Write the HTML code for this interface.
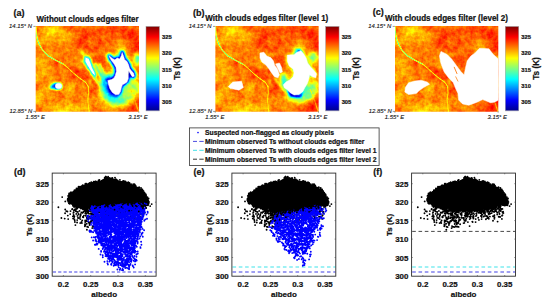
<!DOCTYPE html>
<html><head><meta charset="utf-8"><title>Figure</title>
<style>
html,body{margin:0;padding:0;background:#fff;}
svg{display:block;font-family:"Liberation Sans",sans-serif;}
.b{font-weight:bold;fill:#111;stroke:#111;stroke-width:0.22;}
.i{font-style:italic;fill:#151515;stroke:#151515;stroke-width:0.12;}
</style></head><body>
<svg width="550" height="306" viewBox="0 0 550 306">
<defs>
<linearGradient id="jet" x1="0" y1="1" x2="0" y2="0">
<stop offset="0" stop-color="#00008f"/>
<stop offset="0.125" stop-color="#0000ff"/>
<stop offset="0.375" stop-color="#00ffff"/>
<stop offset="0.625" stop-color="#ffff00"/>
<stop offset="0.875" stop-color="#ff0000"/>
<stop offset="1" stop-color="#800000"/>
</linearGradient>
<filter id="jetf" x="0" y="0" width="1" height="1" color-interpolation-filters="sRGB">
<feTurbulence type="fractalNoise" baseFrequency="0.3" numOctaves="2" seed="3" result="n"/>
<feColorMatrix in="n" type="matrix" values="1 0 0 0 0  1 0 0 0 0  1 0 0 0 0  0 0 0 0 1" result="ng"/>
<feTurbulence type="fractalNoise" baseFrequency="0.075" numOctaves="2" seed="11" result="m"/>
<feColorMatrix in="m" type="matrix" values="1 0 0 0 0  1 0 0 0 0  1 0 0 0 0  0 0 0 0 1" result="mg"/>
<feComposite in="SourceGraphic" in2="ng" operator="arithmetic" k1="0" k2="1" k3="0.14" k4="-0.07" result="f0"/>
<feComposite in="f0" in2="mg" operator="arithmetic" k1="0" k2="1" k3="0.2" k4="-0.1" result="f"/>
<feComponentTransfer in="f">
<feFuncR type="table" tableValues="0 0 0 0 .5 1 1 1 .5"/>
<feFuncG type="table" tableValues="0 0 .5 1 1 1 .5 0 0"/>
<feFuncB type="table" tableValues=".56 1 1 1 .5 0 0 0 0"/>
<feFuncA type="linear" slope="0" intercept="1"/>
</feComponentTransfer>
</filter>
<filter id="b4" x="-0.5" y="-0.5" width="2" height="2" color-interpolation-filters="sRGB"><feGaussianBlur stdDeviation="5"/></filter>
<filter id="b2" x="-0.5" y="-0.5" width="2" height="2" color-interpolation-filters="sRGB"><feGaussianBlur stdDeviation="2.2"/></filter>
<filter id="b1" x="-0.5" y="-0.5" width="2" height="2" color-interpolation-filters="sRGB"><feGaussianBlur stdDeviation="1.1"/></filter>
<filter id="b0" x="-0.5" y="-0.5" width="2" height="2" color-interpolation-filters="sRGB"><feGaussianBlur stdDeviation="0.45"/></filter>
<clipPath id="hc"><rect x="0" y="0" width="104" height="85"/></clipPath>
</defs>
<rect width="550" height="306" fill="#fff"/>

<g transform="translate(35.7,26.1) scale(0.9933,1.007)">
<g clip-path="url(#hc)">
<g filter="url(#jetf)">
<rect x="-10" y="-10" width="124" height="105" fill="#c1c1c1"/>
<g filter="url(#b4)">
<ellipse cx="12" cy="12" rx="18" ry="14" fill="#b0b0b0"/>
<ellipse cx="6" cy="58" rx="12" ry="22" fill="#b5b5b5"/>
<ellipse cx="30" cy="80" rx="26" ry="9" fill="#b2b2b2"/>
<ellipse cx="58" cy="80" rx="12" ry="6" fill="#b5b5b5"/>
<ellipse cx="60" cy="12" rx="24" ry="10" fill="#c8c8c8"/>
<ellipse cx="96" cy="8" rx="12" ry="10" fill="#cdcdcd"/>
<ellipse cx="42" cy="50" rx="14" ry="9" fill="#c8c8c8"/>
<ellipse cx="68" cy="40" rx="8" ry="10" fill="#cccccc"/>
<ellipse cx="97" cy="80" rx="12" ry="9" fill="#d0d0d0"/>
<ellipse cx="62" cy="64" rx="7" ry="12" fill="#cccccc"/>
<ellipse cx="30" cy="28" rx="10" ry="7" fill="#bfbfbf"/>
<ellipse cx="100" cy="22" rx="6" ry="8" fill="#cccccc"/>
</g>
<g filter="url(#b4)">
<path d="M64.0 54.0 74.0 48.0 98.0 54.0 104.0 62.0 98.0 76.0 80.0 80.0 68.0 72.0Z" fill="#8f8f8f"/>
</g>
<g filter="url(#b2)">
<path d="M73.9 29.4 77.2 32.1 79.6 33.5 82.1 31.8 84.5 32.6 86.2 29.4 87.0 26.1 88.6 30.2 89.5 33.1 91.9 35.1 93.5 38.4 94.4 41.6 96.0 44.1 98.5 46.5 99.3 49.8 97.2 50.2 94.9 46.5 93.5 44.1 93.2 48.2 93.2 52.3 91.9 55.6 89.5 57.2 87.3 58.3 86.2 61.3 85.4 64.9 83.7 67.8 80.5 68.2 77.2 65.9 74.7 62.1 73.1 57.2 72.6 53.9 76.4 53.1 78.8 51.5 80.1 49.0 81.3 44.9 80.8 40.8 78.8 37.5 76.4 34.3 74.7 31.8Z" fill="#333333" stroke="#6e6e6e" stroke-width="5" stroke-linejoin="round"/>
<path d="M64.0 57.0 72.0 62.0 88.0 71.0 92.0 76.0 78.0 78.0 68.0 70.0Z" fill="#6b6b6b"/>
<path d="M69.0 50.0 75.0 48.0 80.0 64.0 84.0 71.0 78.0 72.0 71.0 64.0 66.0 56.0Z" fill="#333333"/>
<ellipse cx="102.5" cy="33" rx="2.6" ry="5.5" fill="#5c5c5c"/>
<path d="M93.0 55.0 98.0 60.0 104.0 62.0" stroke="#7a7a7a" stroke-width="3.5" fill="none"/>
</g>
<g filter="url(#b1)">
<path d="M73.9 29.4 77.2 32.1 79.6 33.5 82.1 31.8 84.5 32.6 86.2 29.4 87.0 26.1 88.6 30.2 89.5 33.1 91.9 35.1 93.5 38.4 94.4 41.6 96.0 44.1 98.5 46.5 99.3 49.8 97.2 50.2 94.9 46.5 93.5 44.1 93.2 48.2 93.2 52.3 91.9 55.6 89.5 57.2 87.3 58.3 86.2 61.3 85.4 64.9 83.7 67.8 80.5 68.2 77.2 65.9 74.7 62.1 73.1 57.2 72.6 53.9 76.4 53.1 78.8 51.5 80.1 49.0 81.3 44.9 80.8 40.8 78.8 37.5 76.4 34.3 74.7 31.8Z" fill="#000000" stroke="#0f0f0f" stroke-width="3" stroke-linejoin="round"/>
<path d="M71.0 53.0 75.0 52.0 77.0 62.0 82.0 69.0 78.0 69.0 73.0 62.0Z" fill="#141414"/>
<path d="M50.1 31.3 53.3 32.3 55.0 36.4 56.6 41.3 59.1 46.2 59.7 49.0 57.4 47.0 54.2 42.1 51.7 38.1 50.0 34.8Z" fill="#1a1a1a" stroke="#4c4c4c" stroke-width="3.2" stroke-linejoin="round"/>
<path d="M46.0 24.0 48.5 29.0" stroke="#808080" stroke-width="1.8" fill="none"/>
<path d="M59.9 37.2 62.3 43.0 65.6 48.7 68.9 54.4 72.1 57.7" stroke="#575757" stroke-width="2" fill="none"/>
<path d="M58.0 50.0 64.0 58.0 70.0 64.0" stroke="#666666" stroke-width="1.6" fill="none"/>
<path d="M64.0 37.2 67.2 44.6 69.7 51.1" stroke="#666666" stroke-width="1.6" fill="none"/>
<ellipse cx="21.5" cy="59.8" rx="5.2" ry="3.5" fill="#1f1f1f"/>
<ellipse cx="16.5" cy="60.5" rx="2.2" ry="1.6" fill="#333333"/>
</g>
<g filter="url(#b0)" fill="none" stroke-linejoin="round" stroke-linecap="round">
<path d="M0.3 1.0 0.4 5.0 0.7 9.0 2.0 14.0 3.8 18.5 7.4 24.4 12.3 29.4 19.6 33.6 27.5 37.5" stroke="#787878" stroke-width="1.0"/>
<path d="M27.5 37.5 30.6 40.0 34.2 43.0 38.2 46.8 44.4 51.8 50.5 56.0 53.0 60.2" stroke="#8f8f8f" stroke-width="0.9"/>
<path d="M53.0 60.2 53.3 66.0 52.5 73.3 53.3 81.5 54.0 85.6" stroke="#9e9e9e" stroke-width="0.8"/>
<path d="M95.5 63Q100 72 103.5 85" stroke="#ababab" stroke-width="0.8"/>
</g>
</g>
<g fill="#fff" stroke="#fff" stroke-width="0.5" stroke-linejoin="round">
<path d="M73.9 29.4 77.2 32.1 79.6 33.5 82.1 31.8 84.5 32.6 86.2 29.4 87.0 26.1 88.6 30.2 89.5 33.1 91.9 35.1 93.5 38.4 94.4 41.6 96.0 44.1 98.5 46.5 99.3 49.8 97.2 50.2 94.9 46.5 93.5 44.1 93.2 48.2 93.2 52.3 91.9 55.6 89.5 57.2 87.3 58.3 86.2 61.3 85.4 64.9 83.7 67.8 80.5 68.2 77.2 65.9 74.7 62.1 73.1 57.2 72.6 53.9 76.4 53.1 78.8 51.5 80.1 49.0 81.3 44.9 80.8 40.8 78.8 37.5 76.4 34.3 74.7 31.8Z"/>
<path d="M50.1 31.3 53.3 32.3 55.0 36.4 56.6 41.3 59.1 46.2 59.7 49.0 57.4 47.0 54.2 42.1 51.7 38.1 50.0 34.8Z" stroke-width="0.2"/>
<ellipse cx="23" cy="59.5" rx="3.3" ry="2.7"/>
</g>
</g>
</g>
<path d="M33.4 26.4h2.2M33.4 111.4h2.2M35.6 111.2v1.5M138.8 111.2v1.5" stroke="#555" stroke-width="0.6"/>
<rect x="146" y="26.5" width="13.4" height="84.2" fill="url(#jet)"/>
<rect x="146" y="26.3" width="13.4" height="84.6" fill="none" stroke="#999" stroke-width="0.5"/>
<text class="b" x="162" y="39.1" font-size="6" textLength="9.6" lengthAdjust="spacingAndGlyphs">325</text>
<text class="b" x="162" y="55.4" font-size="6" textLength="9.6" lengthAdjust="spacingAndGlyphs">320</text>
<text class="b" x="162" y="71.7" font-size="6" textLength="9.6" lengthAdjust="spacingAndGlyphs">315</text>
<text class="b" x="162" y="88" font-size="6" textLength="9.6" lengthAdjust="spacingAndGlyphs">310</text>
<text class="b" x="162" y="104.3" font-size="6" textLength="9.6" lengthAdjust="spacingAndGlyphs">305</text>
<text class="b" transform="translate(179.8,68.5) rotate(-90)" font-size="8.2" text-anchor="middle">Ts (K)</text>
<text class="i" x="32" y="28" font-size="5.9" text-anchor="end">14.15° N</text>
<text class="i" x="32.4" y="113.3" font-size="5.9" text-anchor="end">12.85° N</text>
<text class="i" x="35.2" y="119.4" font-size="5.9" text-anchor="middle">1.55° E</text>
<text class="i" x="138" y="119.4" font-size="5.9" text-anchor="middle">3.15° E</text>
<g transform="translate(215.35,26.1) scale(0.9933,1.007)">
<g clip-path="url(#hc)">
<g filter="url(#jetf)">
<rect x="-10" y="-10" width="124" height="105" fill="#c1c1c1"/>
<g filter="url(#b4)">
<ellipse cx="12" cy="12" rx="18" ry="14" fill="#b0b0b0"/>
<ellipse cx="6" cy="58" rx="12" ry="22" fill="#b5b5b5"/>
<ellipse cx="30" cy="80" rx="26" ry="9" fill="#b2b2b2"/>
<ellipse cx="58" cy="80" rx="12" ry="6" fill="#b5b5b5"/>
<ellipse cx="60" cy="12" rx="24" ry="10" fill="#c8c8c8"/>
<ellipse cx="96" cy="8" rx="12" ry="10" fill="#cdcdcd"/>
<ellipse cx="42" cy="50" rx="14" ry="9" fill="#c8c8c8"/>
<ellipse cx="68" cy="40" rx="8" ry="10" fill="#cccccc"/>
<ellipse cx="97" cy="80" rx="12" ry="9" fill="#d0d0d0"/>
<ellipse cx="62" cy="64" rx="7" ry="12" fill="#cccccc"/>
<ellipse cx="30" cy="28" rx="10" ry="7" fill="#bfbfbf"/>
<ellipse cx="100" cy="22" rx="6" ry="8" fill="#cccccc"/>
</g>
<g filter="url(#b2)">
<path d="M70.0 60.0 92.0 58.0 101.0 54.0 103.0 62.0 98.0 72.0 84.0 77.0 72.0 72.0Z" fill="#858585"/>
<path d="M72.4 28.8 79.2 28.4 82.2 25.9 86.1 24.5 89.0 27.8 91.4 31.7 92.9 36.6 95.9 40.6 98.8 43.5 101.8 47.4 101.2 51.4 97.8 50.4 94.9 48.4 93.9 53.3 92.5 57.2 90.0 61.2 88.0 65.1 84.1 68.0 79.2 68.4 75.3 66.1 72.4 63.1 69.4 61.2 68.4 58.2 71.4 55.3 75.3 53.3 78.2 50.4 79.2 46.5 78.2 42.5 74.3 39.6 72.4 34.7Z" fill="#6b6b6b"/>
<path d="M66.0 49.0 71.0 47.0 72.0 60.0 67.0 62.0Z" fill="#4c4c4c"/>
<ellipse cx="98" cy="31" rx="4" ry="6" fill="#787878"/>
<ellipse cx="83" cy="25" rx="4" ry="2.5" fill="#4c4c4c"/>
<path d="M88.0 61.0 96.0 57.0 98.0 65.0 90.0 69.0Z" fill="#737373"/>
</g>
<g filter="url(#b1)">
<path d="M72.0 63.0 76.0 66.0 85.0 68.0 89.0 64.0 86.0 71.5 76.0 70.5Z" fill="#050505"/>
<path d="M60.0 52.0 64.0 58.0 70.0 64.0" stroke="#808080" stroke-width="1.6" fill="none"/>
<ellipse cx="84.5" cy="25.2" rx="1.5" ry="1.5" fill="#1a1a1a"/>
</g>
<g filter="url(#b0)" fill="none" stroke-linejoin="round" stroke-linecap="round">
<path d="M0.3 1.0 0.4 5.0 0.7 9.0 2.0 14.0 3.8 18.5 7.4 24.4 12.3 29.4 19.6 33.6 27.5 37.5" stroke="#787878" stroke-width="1.0"/>
<path d="M27.5 37.5 30.6 40.0 34.2 43.0 38.2 46.8 44.4 51.8 50.5 56.0 53.0 60.2" stroke="#8f8f8f" stroke-width="0.9"/>
<path d="M53.0 60.2 53.3 66.0 52.5 73.3 53.3 81.5 54.0 85.6" stroke="#9e9e9e" stroke-width="0.8"/>
<path d="M95.5 63Q100 72 103.5 85" stroke="#ababab" stroke-width="0.8"/>
</g>
</g>
<g fill="#fff" stroke="#fff" stroke-width="0.5" stroke-linejoin="round">
<path d="M44.9 26.8 48.8 25.9 51.8 29.8 55.7 31.2 58.6 34.7 59.6 38.6 62.5 42.5 64.5 48.4 63.1 51.4 59.6 50.4 56.7 46.5 53.7 42.1 50.8 38.6 46.9 35.7 44.9 31.7Z"/>
<path d="M60.6 37.6 64.5 36.6 66.5 40.6 67.5 45.5 65.1 46.5 63.1 42.5Z"/>
<path d="M72.4 28.8 79.2 28.4 82.2 25.9 86.1 24.5 89.0 27.8 91.4 31.7 92.9 36.6 95.9 40.6 98.8 43.5 101.8 47.4 101.2 51.4 97.8 50.4 94.9 48.4 93.9 53.3 92.5 57.2 90.0 61.2 88.0 65.1 84.1 68.0 79.2 68.4 75.3 66.1 72.4 63.1 69.4 61.2 68.4 58.2 71.4 55.3 75.3 53.3 78.2 50.4 79.2 46.5 78.2 42.5 74.3 39.6 72.4 34.7Z"/>
<path d="M13.0 60.0 17.5 55.6 26.4 54.7 28.2 61.0 23.7 63.6 14.8 61.8Z"/>
</g>
</g>
</g>
<path d="M213.05 26.4h2.2M213.05 111.4h2.2M215.25 111.2v1.5M318.45 111.2v1.5" stroke="#555" stroke-width="0.6"/>
<rect x="325.65" y="26.5" width="13.4" height="84.2" fill="url(#jet)"/>
<rect x="325.65" y="26.3" width="13.4" height="84.6" fill="none" stroke="#999" stroke-width="0.5"/>
<text class="b" x="341.65" y="39.1" font-size="6" textLength="9.6" lengthAdjust="spacingAndGlyphs">325</text>
<text class="b" x="341.65" y="55.4" font-size="6" textLength="9.6" lengthAdjust="spacingAndGlyphs">320</text>
<text class="b" x="341.65" y="71.7" font-size="6" textLength="9.6" lengthAdjust="spacingAndGlyphs">315</text>
<text class="b" x="341.65" y="88" font-size="6" textLength="9.6" lengthAdjust="spacingAndGlyphs">310</text>
<text class="b" x="341.65" y="104.3" font-size="6" textLength="9.6" lengthAdjust="spacingAndGlyphs">305</text>
<text class="b" transform="translate(359.45,68.5) rotate(-90)" font-size="8.2" text-anchor="middle">Ts (K)</text>
<text class="i" x="211.65" y="28" font-size="5.9" text-anchor="end">14.15° N</text>
<text class="i" x="212.05" y="113.3" font-size="5.9" text-anchor="end">12.85° N</text>
<text class="i" x="214.85" y="119.4" font-size="5.9" text-anchor="middle">1.55° E</text>
<text class="i" x="317.65" y="119.4" font-size="5.9" text-anchor="middle">3.15° E</text>
<g transform="translate(395,26.1) scale(0.9933,1.007)">
<g clip-path="url(#hc)">
<g filter="url(#jetf)">
<rect x="-10" y="-10" width="124" height="105" fill="#c1c1c1"/>
<g filter="url(#b4)">
<ellipse cx="12" cy="12" rx="18" ry="14" fill="#b0b0b0"/>
<ellipse cx="6" cy="58" rx="12" ry="22" fill="#b5b5b5"/>
<ellipse cx="30" cy="80" rx="26" ry="9" fill="#b2b2b2"/>
<ellipse cx="58" cy="80" rx="12" ry="6" fill="#b5b5b5"/>
<ellipse cx="60" cy="12" rx="24" ry="10" fill="#c8c8c8"/>
<ellipse cx="96" cy="8" rx="12" ry="10" fill="#cdcdcd"/>
<ellipse cx="42" cy="50" rx="14" ry="9" fill="#c8c8c8"/>
<ellipse cx="68" cy="40" rx="8" ry="10" fill="#cccccc"/>
<ellipse cx="97" cy="80" rx="12" ry="9" fill="#d0d0d0"/>
<ellipse cx="62" cy="64" rx="7" ry="12" fill="#cccccc"/>
<ellipse cx="30" cy="28" rx="10" ry="7" fill="#bfbfbf"/>
<ellipse cx="100" cy="22" rx="6" ry="8" fill="#cccccc"/>
</g>
<g filter="url(#b0)" fill="none" stroke-linejoin="round" stroke-linecap="round">
<path d="M0.3 1.0 0.4 5.0 0.7 9.0 2.0 14.0 3.8 18.5 7.4 24.4 12.3 29.4 19.6 33.6 27.5 37.5" stroke="#787878" stroke-width="1.0"/>
<path d="M27.5 37.5 30.6 40.0 34.2 43.0 38.2 46.8 44.4 51.8 50.5 56.0 53.0 60.2" stroke="#8f8f8f" stroke-width="0.9"/>
<path d="M53.0 60.2 53.3 66.0 52.5 73.3 53.3 81.5 54.0 85.6" stroke="#9e9e9e" stroke-width="0.8"/>
<path d="M95.5 63Q100 72 103.5 85" stroke="#ababab" stroke-width="0.8"/>
</g>
</g>
<g fill="#fff" stroke="#fff" stroke-width="0.5" stroke-linejoin="round">
<path d="M46.3 25.1 52.5 28.2 57.2 32.9 61.8 39.1 66.5 45.3 69.6 48.4 71.2 40.6 72.7 34.4 76.4 29.7 80.5 26.6 85.1 22.0 94.5 22.6 99.1 28.2 104.4 32.9 104.4 73.5 100.0 75.5 96.0 76.0 92.0 74.5 88.3 73.0 82.0 75.8 74.3 78.6 68.0 77.3 64.0 73.3 63.4 67.0 60.9 61.8 58.7 56.2 54.1 51.5 49.4 45.3 46.3 37.5 44.7 29.7Z"/>
<path d="M10.5 60.8 13.7 56.2 19.9 54.6 26.1 53.7 32.3 55.5 34.8 57.7 29.2 60.8 24.5 63.9 21.4 67.0 13.7 68.0 9.9 65.5Z"/>
<path d="M59.5 40.5L62.5 47.5" stroke="#ff7a10" stroke-width="0.9" fill="none"/>
<path d="M61 50L63.5 55" stroke="#ff8a20" stroke-width="0.8" fill="none"/>
</g>
</g>
</g>
<path d="M392.7 26.4h2.2M392.7 111.4h2.2M394.9 111.2v1.5M498.1 111.2v1.5" stroke="#555" stroke-width="0.6"/>
<rect x="505.3" y="26.5" width="13.4" height="84.2" fill="url(#jet)"/>
<rect x="505.3" y="26.3" width="13.4" height="84.6" fill="none" stroke="#999" stroke-width="0.5"/>
<text class="b" x="521.3" y="39.1" font-size="6" textLength="9.6" lengthAdjust="spacingAndGlyphs">325</text>
<text class="b" x="521.3" y="55.4" font-size="6" textLength="9.6" lengthAdjust="spacingAndGlyphs">320</text>
<text class="b" x="521.3" y="71.7" font-size="6" textLength="9.6" lengthAdjust="spacingAndGlyphs">315</text>
<text class="b" x="521.3" y="88" font-size="6" textLength="9.6" lengthAdjust="spacingAndGlyphs">310</text>
<text class="b" x="521.3" y="104.3" font-size="6" textLength="9.6" lengthAdjust="spacingAndGlyphs">305</text>
<text class="b" transform="translate(539.1,68.5) rotate(-90)" font-size="8.2" text-anchor="middle">Ts (K)</text>
<text class="i" x="391.3" y="28" font-size="5.9" text-anchor="end">14.15° N</text>
<text class="i" x="391.7" y="113.3" font-size="5.9" text-anchor="end">12.85° N</text>
<text class="i" x="394.5" y="119.4" font-size="5.9" text-anchor="middle">1.55° E</text>
<text class="i" x="497.3" y="119.4" font-size="5.9" text-anchor="middle">3.15° E</text>
<text class="b" x="13.5" y="16" font-size="9">(a)</text>
<text class="b" x="192.9" y="15.5" font-size="9">(b)</text>
<text class="b" x="372.8" y="15.3" font-size="9">(c)</text>
<text class="b" x="36.6" y="21.5" font-size="8.6" textLength="102" lengthAdjust="spacingAndGlyphs">Without clouds edges filter</text>
<text class="b" x="205.3" y="21.3" font-size="8.6" textLength="123" lengthAdjust="spacingAndGlyphs">With clouds edges filter (level 1)</text>
<text class="b" x="385" y="21.3" font-size="8.6" textLength="123" lengthAdjust="spacingAndGlyphs">With clouds edges filter (level 2)</text>
<rect x="189.5" y="127.9" width="189.6" height="37.6" fill="#fff" stroke="#333" stroke-width="0.8"/>
<text class="b" x="205" y="135" font-size="6.9" textLength="129" lengthAdjust="spacingAndGlyphs">Suspected non-flagged as cloudy pixels</text>
<text class="b" x="205" y="143.8" font-size="6.9" textLength="159.5" lengthAdjust="spacingAndGlyphs">Minimum observed Ts without clouds edges filter</text>
<text class="b" x="205" y="152.7" font-size="6.9" textLength="171.6" lengthAdjust="spacingAndGlyphs">Minimum observed Ts with clouds edges filter level 1</text>
<text class="b" x="205" y="161.6" font-size="6.9" textLength="171.6" lengthAdjust="spacingAndGlyphs">Minimum observed Ts with clouds edges filter level 2</text>
<circle cx="198" cy="132.6" r="0.8" fill="#0000ff"/>
<path d="M193 141.4h4M199.3 141.4h4.4" stroke="#4a4ae0" stroke-width="1"/>
<path d="M193 150.3h4M199.3 150.3h4.4" stroke="#40e0e8" stroke-width="1"/>
<path d="M193 159.2h4M199.3 159.2h4.4" stroke="#333" stroke-width="1"/>
<g transform="translate(52.2,173.1)">
<path d="M0.6 98.9H103.6" stroke="#4040e4" stroke-width="1.15" stroke-dasharray="3.2 2.15" fill="none"/>
<path d="M17.0 23.2 21.9 18.2 28.5 14.1 38.0 10.5 49.6 8.6 52.1 6.1 54.3 5.0 59.9 6.5 67.7 8.6 81.0 12.2 89.7 17.7 93.5 24.1 95.4 30.5 86.8 32.3 77.2 35.1 58.1 36.9 38.0 35.9 28.5 34.2 17.0 29.6Z" fill="#000" stroke="#000" stroke-width="1.2" stroke-linejoin="round"/>
<path d="M88.5 18.1h0M90.4 20.9h0M45.2 9.0h0M47.7 36.8h0M30.5 12.2h0M24.7 17.6h0M71.8 35.2h0M18.6 21.2h0M47.4 9.2h0M89.9 21.3h0M94.5 29.1h0M70.0 35.9h0M18.7 23.6h0M62.2 37.1h0M65.0 8.2h0M83.4 12.7h0M18.1 30.0h0M51.4 7.1h0M16.7 27.0h0M76.8 34.5h0M28.3 15.7h0M53.9 37.1h0M33.3 13.4h0M44.3 8.9h0M47.4 8.5h0M74.8 36.0h0M50.6 9.6h0M44.6 38.0h0M49.3 8.6h0M76.6 37.0h0M50.9 8.7h0M70.6 9.7h0M29.4 13.2h0M80.9 34.6h0M16.7 30.1h0M34.0 35.6h0M26.7 32.7h0M47.2 6.8h0M50.3 8.2h0M80.8 34.2h0M22.5 18.0h0M63.0 38.1h0M82.2 34.1h0M60.8 36.9h0M89.6 30.9h0M62.6 6.8h0M19.0 22.0h0M25.6 16.9h0M87.2 33.0h0M30.8 34.2h0M65.1 35.9h0M23.4 18.9h0M63.9 36.3h0M74.0 35.4h0M69.3 8.9h0M91.1 29.5h0M56.7 35.3h0M24.5 34.0h0M28.4 33.2h0M48.3 35.5h0M76.6 35.8h0M81.4 34.8h0M18.0 23.4h0M81.0 11.1h0M89.2 17.0h0M56.0 36.9h0M93.2 24.7h0M92.6 24.7h0M58.6 6.0h0M68.0 36.5h0M26.4 32.7h0M28.7 35.5h0M47.4 9.4h0M26.1 32.4h0M84.5 33.4h0M95.0 24.4h0M62.6 36.3h0M42.9 9.8h0M50.0 7.7h0M93.2 27.1h0M16.6 26.6h0M21.1 18.9h0M61.6 36.1h0M47.8 36.4h0M92.3 19.5h0M54.8 5.3h0M75.5 35.6h0M72.8 33.5h0M67.0 37.0h0M46.4 9.3h0M61.6 37.2h0M73.2 9.2h0M79.3 33.6h0M47.6 36.2h0M22.3 31.3h0M89.1 17.6h0M77.3 10.9h0M47.3 36.0h0M73.1 36.9h0M41.6 35.0h0M53.0 5.7h0M15.4 26.9h0M70.7 8.0h0M74.9 10.8h0M90.6 30.5h0M20.7 19.2h0M46.2 37.0h0M48.3 36.8h0M94.8 27.7h0M66.8 35.8h0M20.1 31.0h0M94.3 32.1h0M73.2 35.1h0M88.5 32.7h0M38.1 35.5h0M37.7 35.5h0M86.8 33.5h0M94.2 27.0h0M16.1 28.7h0M44.6 35.9h0M66.5 36.6h0M86.9 14.1h0M59.7 6.7h0M88.8 14.8h0M92.4 23.2h0M79.1 34.5h0M50.1 36.6h0M52.7 4.9h0M75.0 10.4h0M59.1 37.6h0M57.3 6.8h0M87.8 17.6h0M94.6 31.3h0M75.6 34.3h0M35.2 34.5h0M53.7 3.6h0M27.1 34.5h0M24.7 35.6h0M30.5 35.0h0M59.1 37.2h0M38.6 36.8h0M34.9 12.0h0M19.6 22.2h0M26.4 33.1h0M94.6 26.5h0M66.6 36.4h0M33.8 12.8h0M94.5 28.9h0M46.9 10.8h0M17.3 24.8h0M26.4 15.6h0M51.7 37.5h0M93.9 29.7h0M18.1 19.8h0M44.4 9.6h0M83.8 14.4h0M96.8 28.9h0M45.0 34.6h0M75.6 35.8h0M96.1 27.1h0M59.5 5.3h0M50.1 35.6h0M29.5 33.2h0M51.8 35.7h0M60.6 37.1h0M92.8 21.5h0M74.5 34.9h0M19.9 30.2h0M70.2 35.2h0M82.5 12.3h0M63.9 33.8h0M18.8 19.2h0M57.8 6.2h0M48.1 9.1h0M57.9 5.1h0M95.8 27.7h0M15.9 22.8h0M26.4 13.7h0M23.3 17.3h0M92.7 22.8h0M81.9 35.1h0M84.8 15.2h0M76.8 12.4h0M88.4 33.3h0M65.6 7.9h0M23.3 19.0h0M82.5 11.5h0M25.8 16.9h0M28.0 14.3h0M93.4 22.7h0M96.6 30.0h0M93.5 21.1h0M82.1 34.8h0M90.8 19.7h0M95.1 31.4h0M69.0 36.0h0M83.5 33.6h0M96.2 30.8h0M57.7 37.3h0M29.4 33.1h0M75.8 12.2h0M86.8 31.4h0M54.5 37.3h0M18.6 25.9h0M22.7 18.4h0M86.4 15.5h0M92.4 31.4h0M67.0 35.5h0M77.8 11.6h0M73.2 8.4h0M28.6 15.9h0M77.7 34.4h0M86.5 17.4h0M76.1 9.1h0M68.6 8.8h0M23.6 32.9h0M31.4 12.8h0M27.8 13.6h0M66.1 37.6h0M28.0 15.9h0M28.0 15.4h0M64.9 36.7h0M75.6 9.9h0M34.3 10.6h0M26.6 32.0h0M88.9 16.3h0M67.0 10.1h0M28.8 35.1h0M76.5 11.8h0M81.3 13.3h0M44.7 35.9h0M89.0 33.4h0M31.2 34.9h0M93.9 29.0h0M16.0 28.0h0M24.3 15.3h0M30.2 14.6h0M29.1 34.6h0M39.1 9.0h0M56.3 7.0h0M95.4 29.4h0M73.5 9.6h0M92.5 25.1h0M63.2 36.0h0M40.2 34.5h0M45.7 34.6h0M17.4 29.2h0M62.4 35.6h0M86.9 16.5h0M16.6 25.2h0M49.2 8.7h0M17.7 29.0h0M33.2 10.7h0M46.4 9.6h0M84.8 32.8h0M33.3 12.9h0M54.0 3.8h0M52.7 6.6h0M44.3 8.7h0M91.3 30.5h0M60.2 4.9h0M70.8 9.4h0M93.3 23.9h0M20.2 29.9h0M93.8 30.6h0M16.6 24.4h0M17.5 21.9h0M46.1 35.1h0M42.0 10.6h0M59.2 5.4h0M76.0 35.3h0M94.2 32.2h0M17.9 21.4h0M42.4 36.5h0M61.8 37.2h0M93.1 21.1h0M34.9 37.0h0M85.8 14.8h0M41.3 37.2h0M95.8 32.1h0M67.5 8.9h0M65.2 8.6h0M75.9 10.5h0M79.7 13.4h0M40.3 35.9h0M78.9 11.0h0M87.9 32.1h0M17.2 24.1h0M78.8 35.4h0M92.1 31.9h0M81.3 12.0h0M49.1 7.9h0M19.0 30.4h0M71.3 9.2h0M39.7 11.1h0M62.8 37.3h0M38.8 35.8h0M53.1 6.1h0M85.7 14.9h0M85.7 15.9h0M52.2 35.8h0M70.9 9.6h0M82.2 11.0h0M47.0 35.3h0M18.9 21.5h0M73.5 36.1h0M95.1 26.6h0M80.6 35.6h0M26.6 33.5h0M95.1 27.7h0M15.6 25.5h0M40.1 38.0h0M77.2 35.5h0M54.7 4.8h0M71.5 9.0h0M93.1 22.2h0M38.6 10.0h0M88.0 31.7h0M28.0 33.2h0M82.7 35.0h0M64.1 7.1h0M86.7 31.9h0M91.1 31.6h0M47.7 9.1h0M70.9 36.9h0M56.2 37.6h0M45.7 36.3h0M92.4 22.0h0M87.6 33.2h0M58.5 6.0h0M75.7 35.7h0M40.4 9.9h0M91.0 22.3h0M65.9 34.7h0M95.2 24.0h0M35.1 36.1h0M88.6 31.5h0M93.2 31.4h0M70.6 9.5h0M27.7 32.7h0M54.1 37.8h0M27.4 15.9h0M94.1 27.2h0M64.2 36.1h0M66.2 8.7h0M28.5 14.1h0M70.7 35.1h0M45.1 37.7h0M87.9 31.9h0M48.0 37.1h0M20.0 30.5h0M65.3 8.3h0M29.1 33.4h0M75.2 10.6h0M21.5 18.7h0M96.4 25.3h0M92.5 22.8h0M24.5 32.1h0M38.3 36.8h0M46.3 7.4h0M49.1 8.2h0M31.8 34.8h0M58.5 38.5h0M33.2 34.6h0M65.5 35.9h0M28.2 15.1h0M62.2 37.0h0M53.5 3.6h0M77.3 9.9h0M83.6 34.0h0M23.0 31.5h0M76.9 36.7h0M87.9 17.1h0M22.3 17.1h0M57.1 5.4h0M63.0 6.7h0M61.4 6.9h0M28.6 34.1h0M91.3 19.4h0M22.4 32.0h0M89.0 31.1h0M71.7 34.6h0M95.3 26.4h0M95.8 30.0h0M50.1 37.5h0M52.8 5.6h0M48.4 35.8h0M93.9 25.8h0M95.4 26.6h0M59.6 35.8h0M45.7 9.4h0M93.1 26.3h0M59.2 6.0h0M25.6 33.0h0M47.4 36.9h0M68.3 8.8h0M77.4 34.7h0M85.2 34.1h0M44.1 10.0h0M66.4 34.8h0M24.6 16.5h0M51.6 6.7h0M93.9 22.1h0M37.8 10.7h0M22.1 20.0h0M38.1 10.8h0M86.8 15.8h0M17.1 22.4h0M53.4 6.6h0M53.3 5.8h0M75.5 13.2h0M80.8 34.6h0M73.7 35.8h0M65.6 35.3h0M29.4 34.7h0M36.9 37.0h0M50.9 7.4h0M91.0 32.0h0M50.4 7.2h0M91.3 18.0h0M34.7 36.1h0M26.8 14.1h0M61.7 6.9h0M57.4 7.6h0M61.1 37.4h0M41.6 9.7h0M51.7 34.6h0M19.2 21.3h0M29.4 13.4h0M50.8 36.5h0M81.9 13.0h0M40.2 10.0h0M66.7 9.1h0M37.5 9.9h0M59.0 36.3h0M49.6 9.7h0M82.3 15.0h0M52.6 6.5h0M51.5 6.9h0M75.0 34.5h0M16.6 28.9h0M25.0 34.0h0M71.7 35.3h0M53.9 4.8h0M86.8 16.2h0M79.7 12.9h0M62.5 7.9h0M93.2 23.6h0M55.7 5.6h0M86.9 16.5h0M62.3 35.9h0M19.2 20.7h0M25.4 16.0h0M93.1 25.3h0M70.1 9.4h0M74.7 9.5h0M58.6 5.8h0M90.3 20.0h0M74.6 10.0h0M50.1 35.6h0M83.9 14.8h0M41.1 35.4h0M26.7 33.4h0M94.3 28.6h0M17.3 27.8h0M52.9 5.0h0M16.2 22.8h0M53.7 5.2h0M90.1 30.7h0M41.0 35.9h0M74.3 9.7h0M60.6 35.3h0M17.3 29.2h0M76.9 34.9h0M77.4 12.8h0M93.5 31.6h0M70.4 10.2h0M36.3 11.4h0M31.9 12.3h0M90.5 17.7h0M43.7 8.4h0M24.1 17.8h0M45.3 37.2h0M57.0 5.0h0M71.6 7.9h0M39.8 35.7h0M61.4 35.3h0M46.2 36.9h0M69.5 36.4h0M16.9 20.3h0M17.9 29.6h0M85.2 14.6h0M22.5 31.7h0M61.7 36.7h0M62.8 4.6h0M34.9 11.8h0M91.0 31.4h0M67.7 6.8h0M61.8 8.1h0M53.0 36.5h0M63.4 35.8h0M39.8 10.6h0M22.2 32.7h0M35.0 11.7h0M88.5 33.1h0M61.2 7.9h0M77.1 11.4h0M26.4 15.2h0M28.4 15.3h0M17.5 25.4h0M92.0 24.7h0M83.3 13.4h0M71.2 35.1h0M23.2 29.2h0M90.2 16.3h0M45.4 9.4h0M35.6 12.1h0M53.8 37.7h0M18.9 24.0h0M16.8 21.5h0M47.1 35.5h0M46.0 34.9h0M18.8 27.1h0M83.0 12.9h0M27.4 33.5h0M52.3 6.2h0M72.0 34.8h0M74.6 35.9h0M26.8 33.9h0M71.6 9.1h0M54.8 36.4h0M45.5 9.6h0M74.3 10.5h0M93.7 27.5h0M93.4 30.9h0M30.7 36.1h0M34.0 12.3h0M17.5 30.6h0M63.1 37.1h0M68.8 35.7h0M44.5 11.3h0M39.3 9.5h0M74.3 36.6h0M30.8 33.5h0M94.1 27.2h0M38.6 35.1h0M69.4 36.2h0M52.5 4.7h0M96.2 29.5h0M88.9 17.3h0M23.1 32.6h0M16.9 23.7h0M58.2 36.8h0M35.6 37.1h0M93.9 26.7h0M74.6 34.8h0M43.4 36.1h0M26.9 14.6h0M57.3 4.8h0M93.4 30.6h0M61.8 6.8h0M89.9 30.7h0M55.9 3.6h0M49.2 35.9h0M46.9 37.0h0M32.5 13.1h0M34.3 34.8h0M44.5 10.3h0M79.1 34.4h0M17.3 26.6h0M31.9 34.2h0M69.5 35.9h0M72.0 11.1h0M60.7 6.2h0M46.7 10.2h0M92.0 21.4h0M20.3 30.6h0M49.9 8.7h0M56.9 37.4h0M84.9 15.2h0M87.0 14.9h0M88.7 19.5h0M73.5 9.6h0M85.0 34.5h0M64.0 6.4h0M91.5 18.9h0M55.3 36.2h0M25.2 16.1h0M89.8 17.1h0M64.5 35.7h0M85.9 15.9h0M56.4 6.2h0M42.8 35.2h0M92.8 32.5h0M29.1 14.3h0M59.3 36.0h0M28.4 34.0h0M75.2 35.4h0M91.0 22.0h0M83.2 33.6h0M15.7 25.6h0M72.0 32.5h0M25.3 15.7h0M72.4 38.3h0M50.1 8.0h0M82.0 12.5h0M42.5 8.6h0M56.3 38.4h0M58.4 36.4h0M93.7 21.6h0M20.5 30.8h0M73.4 10.2h0M33.7 11.4h0M95.4 28.7h0M37.6 11.6h0M64.6 7.1h0M85.6 14.9h0M89.4 18.4h0M38.0 36.7h0M42.2 9.8h0M82.5 12.8h0M17.0 29.7h0M41.5 8.7h0M62.2 37.5h0M21.2 20.0h0M15.9 28.0h0M22.7 17.6h0M60.3 7.5h0M69.3 9.5h0M31.3 34.1h0M95.0 26.2h0M65.4 7.3h0M76.5 11.7h0M74.9 11.2h0M23.7 16.9h0M93.6 30.5h0M52.9 6.5h0M67.5 8.8h0M54.8 36.7h0M84.0 14.0h0M83.8 33.2h0M81.6 34.2h0M79.5 33.8h0M92.6 26.0h0M24.7 17.2h0M60.6 5.8h0M34.4 35.8h0M69.8 37.3h0M39.7 36.7h0M42.6 34.9h0M24.7 16.2h0M75.5 34.4h0M77.0 35.6h0M54.3 36.6h0M56.0 37.5h0M17.3 26.0h0M47.8 37.0h0M78.3 12.0h0M34.0 13.1h0M28.2 16.2h0M69.6 35.6h0M33.9 13.8h0M89.3 31.6h0M83.4 14.4h0M36.3 10.7h0M20.2 19.5h0M69.5 35.4h0M64.6 37.2h0M32.5 12.0h0M84.5 33.8h0M42.0 10.7h0M94.3 30.8h0M37.4 36.9h0M93.8 23.2h0M64.4 37.0h0M57.8 36.5h0M26.2 15.0h0M59.8 37.1h0M90.8 31.6h0M90.1 19.5h0M54.9 37.2h0M38.6 36.1h0M86.6 31.9h0M41.9 9.6h0M46.0 37.2h0M52.0 7.6h0M81.2 35.3h0M86.5 31.7h0M64.4 37.8h0M60.1 38.4h0M59.0 37.5h0M18.9 20.4h0M64.4 8.2h0M93.3 24.7h0M59.8 6.9h0M43.1 8.4h0M78.7 33.9h0M92.2 29.3h0M50.3 36.8h0M20.7 32.7h0M36.8 40.7h0M72.5 37.3h0M87.9 40.9h0M45.1 36.5h0M36.7 38.2h0M87.7 34.7h0M67.3 46.8h0M27.3 37.8h0M60.7 48.5h0M42.3 47.4h0M82.8 42.1h0M24.9 35.3h0M22.1 46.0h0M69.3 42.8h0M81.6 36.2h0M25.6 38.9h0M57.9 39.2h0M45.5 42.4h0M55.9 39.3h0M50.0 44.6h0M55.0 42.1h0M60.1 39.5h0M90.0 36.2h0M41.6 37.2h0M44.2 40.1h0M90.3 45.8h0M88.4 43.5h0M87.3 38.8h0M21.5 39.1h0M69.4 36.5h0M64.1 46.0h0M26.2 40.8h0M57.4 37.8h0M28.0 33.1h0M82.6 35.8h0M22.3 32.2h0M79.7 37.5h0M61.8 42.6h0M74.5 35.6h0M24.9 32.5h0M77.2 45.6h0M49.3 38.0h0M44.2 36.8h0M75.5 36.3h0M38.9 41.6h0M44.1 39.7h0M68.6 39.9h0M83.5 35.6h0M32.7 37.7h0M54.5 39.9h0M76.4 37.4h0M67.1 39.7h0M38.7 40.0h0M83.1 35.1h0M33.3 35.9h0M43.7 40.8h0M72.3 40.2h0M58.9 45.1h0M25.7 32.7h0M35.7 39.7h0M49.8 41.7h0M45.7 36.6h0M85.6 39.6h0M29.8 33.3h0M76.9 36.3h0M76.9 40.2h0M47.3 38.1h0M73.4 42.8h0M54.3 36.9h0M55.9 37.3h0M47.4 47.5h0M30.3 39.8h0M34.8 45.6h0M87.1 43.7h0M44.6 39.0h0M71.4 37.1h0M88.1 34.8h0M68.8 38.8h0M83.5 36.5h0M52.7 49.8h0M46.8 39.5h0M87.6 36.9h0M25.2 34.3h0M23.5 36.7h0M42.1 37.2h0M57.9 39.0h0M58.9 45.0h0M57.9 40.3h0M88.2 37.2h0M25.5 34.3h0M42.3 36.9h0M56.3 49.0h0M31.5 38.6h0M41.2 42.3h0M77.1 41.3h0M63.4 37.4h0M80.9 38.3h0M88.0 34.6h0M90.4 42.6h0M48.8 37.8h0M23.7 33.9h0M73.0 38.6h0M35.2 39.4h0M77.5 35.7h0M55.9 40.0h0M33.1 40.4h0M21.1 32.2h0M38.8 37.4h0M64.6 40.5h0M64.9 40.8h0M42.8 43.2h0M61.8 45.3h0M50.0 42.4h0M43.9 37.7h0M85.8 35.5h0M81.4 47.6h0M83.5 37.9h0M90.9 38.9h0M40.8 40.2h0M36.9 43.4h0M62.0 43.7h0M40.5 47.1h0M27.0 34.5h0M60.3 41.1h0M55.8 42.3h0M47.3 39.4h0M20.1 35.8h0M61.3 36.5h0M65.5 38.5h0M55.8 37.1h0M54.7 45.7h0M40.2 47.3h0M51.9 45.0h0M36.9 40.7h0M79.7 36.2h0M85.0 38.3h0M56.3 42.8h0M88.1 36.9h0M55.3 41.0h0M80.6 35.4h0M56.2 38.5h0M35.5 38.6h0M80.1 40.0h0M86.0 48.5h0M69.3 38.5h0M78.3 43.5h0M77.7 39.7h0M41.8 45.1h0M37.6 36.8h0M56.9 37.1h0M44.7 38.2h0M85.6 41.5h0M87.1 35.2h0M68.0 37.7h0M27.9 43.8h0M42.4 37.4h0M33.4 38.5h0M90.9 42.0h0M64.8 42.5h0M24.2 38.4h0M82.5 35.8h0M82.9 44.2h0M61.0 43.8h0M55.4 39.2h0M47.7 37.1h0M31.6 36.1h0M77.3 36.3h0M75.8 43.4h0M70.0 40.7h0M39.6 36.4h0M33.5 40.4h0M87.8 40.5h0M43.8 47.1h0M40.9 41.4h0M88.5 44.0h0M75.7 45.0h0M44.0 37.4h0M55.1 43.1h0M22.5 36.3h0M54.1 41.7h0M73.6 35.6h0M61.8 40.1h0M37.4 36.7h0M23.8 33.9h0M45.6 49.5h0M66.1 38.5h0M49.8 39.8h0M54.1 38.7h0M89.1 37.9h0M69.4 40.1h0M74.9 42.9h0M87.6 36.6h0M85.0 34.3h0M91.8 40.0h0M58.0 40.0h0M24.1 40.8h0M30.8 39.2h0M71.8 37.2h0M72.3 39.7h0M66.6 44.7h0M70.8 41.5h0M27.7 34.2h0M54.2 47.6h0M24.0 35.4h0M25.1 33.3h0M51.5 44.9h0M29.2 39.3h0M73.6 38.9h0M49.0 41.3h0M64.3 43.0h0M23.3 32.7h0M23.9 34.9h0M54.1 38.6h0M48.2 36.6h0M53.7 47.2h0M81.4 43.2h0M55.0 40.6h0M90.8 35.8h0M28.6 34.1h0M82.3 38.3h0M56.6 41.2h0M83.9 37.4h0M38.5 38.0h0M52.3 44.8h0M46.3 41.9h0M42.7 38.5h0M64.9 40.2h0M75.6 37.9h0M52.8 47.6h0M52.7 38.4h0M47.1 48.4h0M76.6 44.4h0M48.9 40.7h0M41.3 44.0h0M72.1 43.4h0M68.2 38.6h0M51.3 38.7h0M75.5 38.7h0M58.8 41.5h0M71.2 36.5h0M21.2 39.8h0M38.7 40.6h0M64.2 37.3h0M91.5 38.7h0M34.2 37.1h0M62.0 37.4h0M79.1 37.9h0M62.5 41.0h0M71.3 36.5h0M61.7 45.5h0M38.1 37.8h0M59.2 43.2h0M91.1 39.6h0M43.4 43.4h0M72.3 40.0h0M60.8 37.8h0M58.0 39.8h0M65.0 36.4h0M84.3 36.7h0M78.0 39.1h0M50.2 41.0h0M53.1 42.4h0M58.1 43.6h0M88.7 34.1h0M45.4 36.4h0M41.6 38.2h0M69.8 39.7h0M47.4 46.0h0M39.7 40.2h0M21.7 37.1h0M47.0 38.1h0M42.4 38.7h0M82.8 38.4h0M32.8 37.0h0M28.5 41.2h0M73.2 40.7h0M39.0 44.3h0M22.0 32.4h0M79.0 37.5h0M70.6 38.8h0M70.3 41.8h0M35.7 45.2h0M54.1 38.8h0M78.5 40.6h0M61.0 48.9h0M36.1 45.9h0M36.0 37.9h0M89.4 35.7h0M44.6 41.7h0M79.6 37.2h0M85.9 35.6h0M45.6 39.3h0M70.9 38.3h0M82.8 45.7h0M36.3 38.2h0M71.7 38.8h0M23.4 32.7h0M80.6 36.8h0M59.1 38.6h0M23.2 33.2h0M45.4 43.7h0M82.1 35.4h0M24.5 33.1h0M70.2 36.6h0M32.7 36.4h0M70.1 44.0h0M43.2 40.6h0M60.4 37.4h0M45.6 38.9h0M41.0 39.2h0M38.8 40.6h0M62.6 36.8h0M39.3 44.0h0M53.8 43.4h0M56.8 40.8h0M74.3 46.2h0M64.8 40.8h0M56.0 43.6h0M49.7 41.5h0M53.7 40.6h0M58.1 46.0h0M84.3 36.4h0M36.1 40.2h0M22.3 32.5h0M77.3 38.5h0M33.8 38.5h0M82.5 38.9h0M69.8 43.1h0M73.6 41.0h0M59.8 38.0h0M58.0 53.0h0M23.2 52.0h0M45.4 53.7h0M42.7 48.5h0M33.1 52.3h0M39.4 48.2h0M43.2 53.9h0M39.8 42.2h0M44.7 49.7h0M46.4 43.3h0M22.5 47.2h0M32.8 51.1h0M31.1 44.1h0M34.2 47.6h0M49.7 44.6h0M33.0 47.4h0M33.0 48.9h0M38.0 49.6h0M45.6 49.9h0M40.6 44.6h0M52.2 46.0h0M46.0 53.5h0M36.6 49.6h0M38.7 45.1h0M45.1 51.1h0M28.2 42.7h0M54.0 43.7h0M43.1 44.4h0M44.7 47.7h0M40.9 53.5h0M37.3 51.9h0M45.6 44.2h0M32.7 53.2h0M31.7 42.5h0M32.8 51.9h0M37.0 45.0h0M38.9 47.9h0M35.0 53.6h0M40.4 53.0h0M46.5 50.1h0M44.7 44.8h0M42.1 45.5h0M47.0 53.8h0M29.7 50.0h0M34.5 50.6h0M34.3 47.9h0M48.7 46.6h0M43.4 48.4h0M41.8 53.8h0M40.6 46.5h0M37.8 49.1h0M44.0 53.0h0M44.0 48.0h0M48.5 51.2h0M34.6 44.3h0M37.6 50.7h0M54.1 42.4h0M47.5 44.3h0M24.9 49.4h0M43.1 50.9h0M31.8 33.2h0M34.0 30.8h0M15.6 42.5h0M26.8 34.3h0M21.4 41.9h0M15.2 38.4h0M20.9 45.5h0M13.0 36.3h0M30.0 47.3h0M34.2 34.1h0M35.5 46.3h0M20.7 43.3h0M33.6 42.7h0M36.0 48.5h0M35.0 33.2h0M25.5 32.9h0M22.7 48.9h0M18.3 38.0h0M19.9 36.1h0M29.2 35.1h0M29.3 48.8h0M22.1 37.0h0M28.5 33.3h0M35.2 34.5h0M21.9 34.0h0M25.7 44.8h0M12.9 40.1h0M28.4 42.1h0M24.8 32.8h0M28.1 46.0h0M25.3 42.8h0M30.6 43.9h0M26.4 41.2h0M26.6 45.0h0M31.0 36.4h0M34.1 40.6h0M23.5 37.9h0M28.3 33.3h0M22.2 43.2h0M22.7 36.5h0M6.2 34.2h0M9.2 44.9h0M13.1 28.3h0M10.0 24.0h0M34.7 56.7h0M36.0 54.0h0M33.0 52.0h0M14.0 38.0h0M18.0 41.0h0M22.0 44.0h0M25.0 47.0h0M16.0 46.0h0M28.0 50.0h0M40.0 55.0h0M52.0 50.0h0M64.0 49.0h0M70.0 46.0h0M98.0 33.0h0M99.5 31.0h0M12.5 45.5h0" stroke="#000" stroke-width="1.9" stroke-linecap="round" fill="none"/>
<path d="M89.8 35.2h0M70.9 58.3h0M67.0 38.4h0M45.8 59.7h0M47.6 60.4h0M78.4 58.1h0M65.9 79.4h0M56.3 33.4h0M83.0 69.6h0M75.1 71.7h0M81.5 54.6h0M69.7 74.4h0M53.5 35.3h0M63.5 78.3h0M70.8 59.9h0M74.1 41.9h0M44.9 51.5h0M85.0 42.8h0M40.9 36.2h0M36.1 48.2h0M69.7 85.3h0M54.5 54.6h0M51.8 50.2h0M82.6 66.8h0M50.0 36.8h0M83.0 77.6h0M85.8 45.7h0M68.0 92.0h0M71.0 93.8h0M37.2 57.8h0M76.9 95.7h0M67.6 96.7h0M80.8 53.0h0M45.9 34.7h0M63.0 42.9h0M47.3 36.5h0M67.0 41.0h0M67.9 84.8h0M49.6 58.2h0M90.4 59.7h0M55.3 90.2h0M77.0 57.6h0M77.3 85.9h0M73.9 45.7h0M52.3 57.4h0M82.2 67.4h0M68.3 85.7h0M54.6 67.5h0M86.2 46.4h0M93.6 34.8h0M69.1 66.3h0M48.5 67.6h0M63.3 60.1h0M57.4 82.9h0M46.5 75.8h0M44.6 60.1h0M60.3 35.1h0M77.7 62.2h0M77.0 66.2h0M68.7 65.3h0M88.0 63.4h0M82.6 75.3h0M71.8 49.3h0M53.8 53.3h0M55.2 55.9h0M60.1 85.0h0M63.8 67.2h0M49.8 48.4h0M39.3 44.3h0M65.3 37.0h0M62.8 37.7h0M69.3 59.6h0M87.7 47.1h0M87.2 46.3h0M51.0 54.1h0M58.6 75.7h0M52.1 34.8h0M91.1 41.9h0M63.2 77.7h0M69.5 81.9h0M85.4 70.5h0M70.9 51.7h0M42.1 35.8h0M87.6 43.5h0M60.5 51.0h0M72.7 65.8h0M87.7 59.2h0M56.5 73.8h0M80.5 92.4h0M41.8 55.3h0M82.4 86.0h0M79.2 81.1h0M67.4 43.8h0M59.3 33.5h0M53.6 58.6h0M85.5 69.6h0M59.8 46.2h0M53.5 75.1h0M61.7 41.3h0M85.4 68.6h0M72.9 58.6h0M72.0 92.0h0M60.8 33.8h0M86.5 56.1h0M57.8 33.4h0M78.3 75.0h0M50.9 41.0h0M71.6 33.8h0M70.7 64.5h0M67.8 37.8h0M53.2 71.7h0M80.9 70.7h0M67.1 42.9h0M50.6 48.8h0M64.7 66.6h0M83.4 49.6h0M94.3 31.0h0M83.4 68.2h0M90.4 39.9h0M77.1 93.9h0M75.7 37.1h0M38.7 35.0h0M83.7 78.5h0M65.9 48.0h0M69.7 97.0h0M74.4 89.0h0M79.7 34.3h0M85.3 41.5h0M47.4 33.7h0M75.4 39.2h0M84.6 81.1h0M69.5 68.4h0M83.9 72.8h0M56.0 69.2h0M65.9 91.0h0M59.8 87.5h0M38.8 51.7h0M75.9 71.1h0M86.1 43.6h0M84.3 83.6h0M42.7 39.0h0M70.4 95.8h0M72.3 58.6h0M65.6 84.5h0M66.6 66.0h0M71.0 92.9h0M84.0 86.6h0M50.4 70.3h0M85.5 78.3h0M41.7 64.1h0M56.2 43.4h0M65.2 96.4h0M82.0 36.2h0M49.3 54.6h0M89.4 60.7h0M43.7 66.9h0M71.0 96.9h0M82.5 79.6h0M43.3 67.7h0M73.8 81.1h0M61.8 33.1h0M92.1 47.6h0M80.1 61.1h0M82.7 52.5h0M39.5 58.6h0M63.9 83.4h0M59.1 74.8h0M57.4 79.3h0M93.1 31.1h0M77.3 36.7h0M79.8 82.0h0M73.1 95.0h0M91.9 39.3h0M52.5 65.5h0M66.6 94.3h0M73.7 71.7h0M72.8 93.8h0M58.9 79.8h0M71.4 56.9h0M55.0 39.9h0M52.6 35.0h0M64.2 53.4h0M75.5 87.1h0M51.0 37.4h0M72.0 45.0h0M89.4 46.2h0M77.3 46.9h0M76.9 96.2h0M95.5 39.6h0M79.6 80.2h0M79.7 52.6h0M67.9 69.5h0M87.2 33.0h0M57.3 50.9h0M83.5 37.4h0M37.6 37.3h0M41.0 59.1h0M88.2 53.6h0M54.6 68.3h0M80.7 60.5h0M79.8 71.6h0M51.5 63.8h0M82.3 82.9h0M79.6 86.8h0M85.6 66.3h0M74.0 32.5h0M63.7 78.9h0M61.3 45.1h0M88.9 68.7h0M70.6 81.1h0M84.4 46.9h0M66.6 41.2h0M72.2 59.1h0M83.4 37.4h0M46.6 55.8h0M47.9 45.8h0M73.8 49.5h0M46.4 35.3h0M44.8 42.6h0M91.1 32.4h0M67.7 43.9h0M57.1 79.7h0M54.2 62.4h0M73.2 34.9h0M88.2 47.9h0M82.3 38.5h0M39.6 42.7h0M39.0 46.4h0M42.5 35.4h0M87.3 65.4h0M64.9 64.1h0M84.7 32.6h0M73.0 87.3h0M53.4 69.0h0M75.6 86.3h0M64.3 35.5h0M83.7 86.9h0M77.8 50.9h0M53.3 83.0h0M47.8 45.9h0M90.6 33.3h0M88.4 56.5h0M69.7 76.5h0M90.5 44.5h0M39.5 64.3h0M47.8 58.3h0M40.6 35.6h0M69.4 33.0h0M50.5 55.9h0M90.4 31.7h0M84.5 41.5h0M79.6 33.6h0M80.6 92.9h0M50.0 40.7h0M55.1 88.0h0M82.8 40.2h0M35.2 42.5h0M67.4 45.4h0M47.4 53.8h0M62.6 91.9h0M70.3 67.3h0M78.9 42.3h0M84.2 81.4h0M84.9 60.1h0M67.8 34.6h0M62.5 73.3h0M55.0 80.9h0M76.5 51.9h0M88.6 30.6h0M69.4 60.6h0M89.2 71.7h0M46.3 40.8h0M83.0 54.9h0M47.8 67.4h0M46.0 65.3h0M55.3 51.2h0M77.2 46.4h0M54.5 67.8h0M92.9 39.7h0M53.0 48.0h0M53.5 62.7h0M85.3 41.8h0M78.9 58.9h0M69.7 63.7h0M71.6 41.7h0M72.4 56.8h0M83.0 70.0h0M39.3 49.7h0M79.5 56.0h0M84.7 52.9h0M57.7 77.1h0M81.6 76.6h0M43.2 58.2h0M53.7 45.2h0M42.6 53.6h0M73.0 34.8h0M80.9 84.3h0M78.0 31.0h0M50.9 45.6h0M70.9 54.1h0M80.8 45.4h0M51.4 37.3h0M64.5 79.6h0M88.3 74.8h0M38.7 57.6h0M55.9 85.7h0M81.4 78.7h0M50.5 75.7h0M75.0 86.6h0M66.0 92.7h0M79.0 43.7h0M70.1 42.8h0M72.5 51.6h0M83.4 86.3h0M57.2 69.6h0M48.3 55.0h0M61.3 77.9h0M65.7 40.4h0M74.5 64.6h0M66.7 59.8h0M88.2 74.0h0M75.3 63.6h0M59.0 58.5h0M76.4 59.3h0M38.1 44.5h0M56.3 55.2h0M62.4 43.2h0M48.4 59.9h0M52.0 47.2h0M64.6 81.4h0M61.9 90.3h0M73.4 54.3h0M36.1 42.8h0M83.4 56.1h0M90.3 34.3h0M59.6 85.9h0M67.4 60.7h0M42.9 49.9h0M63.2 53.1h0M51.7 45.2h0M67.7 52.1h0M94.8 45.6h0M75.2 69.3h0M49.3 66.1h0M50.4 48.2h0M62.2 32.6h0M82.1 52.0h0M87.2 51.4h0M89.9 60.2h0M88.5 38.8h0M58.5 52.9h0M82.9 88.4h0M42.2 57.4h0M44.6 34.0h0M41.9 34.5h0M52.7 58.8h0M81.6 52.0h0M53.9 57.5h0M48.3 81.4h0M79.3 60.9h0M88.1 54.6h0M73.1 61.5h0M70.5 55.3h0M87.5 50.4h0M69.0 34.1h0M56.1 55.0h0M43.5 66.4h0M64.1 70.6h0M50.8 48.2h0M68.3 76.5h0M81.0 41.7h0M82.9 62.3h0M43.2 51.0h0M90.5 63.5h0M73.7 56.4h0M79.9 65.9h0M65.2 32.2h0M84.9 36.0h0M51.3 60.3h0M47.0 60.1h0M61.4 65.5h0M74.7 76.1h0M36.9 45.6h0M41.0 52.1h0M62.4 87.4h0M69.9 33.3h0M51.8 59.1h0M76.1 95.4h0M88.8 33.8h0M46.7 69.2h0M65.7 66.6h0M55.7 91.4h0M52.2 54.0h0M43.9 49.2h0M35.0 46.0h0M84.5 87.4h0M55.1 79.5h0M84.6 73.7h0M72.8 80.8h0M53.8 52.0h0M49.8 45.2h0M66.0 66.2h0M45.7 35.3h0M35.3 44.0h0M43.5 71.7h0M84.8 65.8h0M74.2 58.1h0M81.9 39.5h0M53.2 75.9h0M78.1 40.6h0M58.0 55.7h0M68.0 85.3h0M42.9 55.1h0M91.7 41.6h0M72.9 61.9h0M62.5 33.7h0M74.0 47.5h0M61.5 92.7h0M64.9 56.3h0M55.9 48.9h0M72.6 78.2h0M58.5 40.8h0M71.4 40.4h0M65.4 61.8h0M50.2 52.5h0M75.2 45.8h0M48.9 77.9h0M67.0 34.4h0M86.9 38.1h0M52.3 66.6h0M62.4 81.6h0M45.0 37.4h0M77.7 82.3h0M46.3 68.6h0M84.3 55.6h0M85.0 41.4h0M82.4 68.6h0M83.2 88.2h0M66.3 63.1h0M70.5 63.1h0M89.3 61.6h0M67.6 83.8h0M73.0 52.1h0M43.0 64.5h0M85.6 80.4h0M59.2 91.7h0M48.8 47.0h0M63.2 75.6h0M92.3 30.4h0M80.4 61.4h0M62.9 66.7h0M77.5 47.3h0M67.9 83.9h0M67.6 34.7h0M40.2 45.5h0M52.1 59.9h0M53.6 65.5h0M44.3 68.2h0M81.2 63.8h0M43.7 56.6h0M89.5 54.1h0M50.9 62.2h0M63.5 72.2h0M50.8 44.4h0M64.4 84.0h0M82.3 74.4h0M91.0 38.1h0M46.1 44.4h0M41.9 39.4h0M65.3 76.7h0M62.9 66.2h0M76.9 85.6h0M65.0 33.3h0M52.2 42.6h0M41.8 52.5h0M60.2 72.2h0M77.7 57.6h0M90.6 63.6h0M81.9 69.2h0M79.0 80.8h0M58.3 59.8h0M72.7 78.1h0M71.0 53.9h0M64.4 64.2h0M57.7 51.3h0M43.5 35.4h0M58.9 91.5h0M77.0 92.8h0M74.7 94.6h0M84.3 34.9h0M55.1 74.0h0M66.7 51.8h0M70.8 76.9h0M62.3 58.4h0M63.8 64.6h0M47.4 54.8h0M69.7 33.9h0M68.9 33.5h0M45.3 60.7h0M81.9 85.1h0M61.1 64.7h0M68.1 95.4h0M87.1 30.4h0M77.1 78.4h0M58.6 57.7h0M48.5 42.6h0M85.9 51.5h0M81.7 30.6h0M65.0 50.7h0M59.2 90.7h0M68.4 68.7h0M73.2 47.3h0M71.8 41.4h0M53.0 78.2h0M55.0 76.7h0M45.1 45.0h0M90.4 55.8h0M42.7 71.6h0M47.1 52.9h0M52.9 44.7h0M70.6 44.3h0M54.6 39.1h0M50.5 82.2h0M49.4 64.5h0M53.2 56.7h0M80.7 74.6h0M56.4 68.3h0M56.4 81.0h0M70.1 63.4h0M44.6 34.7h0M91.9 57.1h0M38.3 43.0h0M92.5 38.2h0M59.9 34.4h0M64.9 52.9h0M65.3 86.3h0M76.1 61.0h0M82.2 31.8h0M66.3 76.0h0M71.8 86.7h0M49.5 41.5h0M65.4 81.4h0M82.3 52.8h0M80.1 83.0h0M65.8 65.3h0M63.3 60.4h0M46.9 68.5h0M87.6 46.8h0M60.0 54.9h0M79.5 35.4h0M66.2 53.3h0M56.7 37.0h0M71.6 53.9h0M76.3 37.7h0M66.3 59.7h0M73.9 33.8h0M83.2 65.2h0M49.5 40.9h0M84.9 30.4h0M70.6 50.4h0M42.4 42.0h0M76.7 93.7h0M44.3 70.4h0M94.3 41.5h0M43.4 63.9h0M40.9 67.4h0M65.4 60.2h0M45.3 70.7h0M87.5 52.4h0M59.4 64.4h0M52.8 49.0h0M51.2 74.4h0M66.9 67.5h0M72.1 47.1h0M66.4 65.7h0M73.1 73.0h0M95.4 38.5h0M65.8 69.8h0M43.8 54.7h0M49.2 66.5h0M77.9 47.5h0M62.8 43.6h0M89.5 54.1h0M55.1 41.9h0M58.9 45.8h0M75.5 85.7h0M72.0 46.0h0M76.7 38.6h0M59.7 68.9h0M45.3 36.8h0M57.6 87.8h0M46.5 61.6h0M72.1 42.1h0M57.2 88.5h0M83.4 67.5h0M48.6 53.7h0M72.3 74.7h0M72.0 64.3h0M86.4 45.9h0M52.4 45.7h0M52.3 88.6h0M62.4 91.5h0M64.3 55.8h0M72.5 31.8h0M63.8 53.4h0M64.1 57.2h0M75.5 73.7h0M59.8 54.8h0M45.0 47.1h0M63.9 40.1h0M47.1 50.4h0M48.9 78.6h0M86.5 60.8h0M77.5 67.7h0M70.9 78.7h0M78.0 85.8h0M59.3 73.6h0M59.8 87.8h0M85.2 52.1h0M67.8 96.6h0M79.9 44.7h0M63.9 34.9h0M50.6 84.2h0M44.9 71.4h0M81.5 94.4h0M60.5 33.4h0M60.2 73.8h0M81.6 87.7h0M37.8 59.0h0M79.6 48.0h0M54.4 70.9h0M37.5 57.4h0M50.7 38.0h0M67.3 40.6h0M65.8 44.8h0M68.2 75.2h0M93.1 46.3h0M50.5 42.2h0M55.8 58.8h0M85.4 69.1h0M70.6 57.3h0M75.1 59.1h0M56.3 69.2h0M82.9 91.3h0M49.7 60.5h0M61.4 80.4h0M75.8 70.5h0M70.0 32.1h0M77.0 46.4h0M52.8 67.2h0M54.7 66.4h0M71.5 51.6h0M49.7 67.5h0M74.9 88.6h0M55.2 83.1h0M77.1 60.3h0M63.4 70.0h0M58.5 74.3h0M52.0 67.4h0M68.4 42.4h0M69.7 83.3h0M47.8 50.8h0M61.5 37.7h0M74.3 77.3h0M82.1 59.9h0M47.5 37.2h0M76.4 72.7h0M60.9 65.0h0M77.0 58.6h0M53.9 63.3h0M59.3 74.4h0M55.1 78.6h0M75.4 58.6h0M73.9 56.9h0M62.0 35.9h0M44.4 44.4h0M77.3 57.4h0M70.5 50.8h0M83.9 60.3h0M44.6 51.6h0M78.1 51.9h0M73.3 87.4h0M80.3 52.6h0M74.8 57.2h0M59.1 62.4h0M75.9 74.4h0M56.8 77.2h0M62.1 86.8h0M47.3 53.6h0M62.3 70.5h0M44.1 52.2h0M78.2 38.7h0M41.3 34.4h0M60.5 74.8h0M72.2 36.0h0M83.8 54.2h0M72.7 35.5h0M79.6 34.3h0M70.9 38.0h0M59.9 83.7h0M65.1 43.0h0M45.4 32.9h0M79.7 40.5h0M72.7 68.0h0M64.0 42.3h0M59.8 47.7h0M49.5 38.0h0M66.3 37.1h0M77.6 41.7h0M64.3 80.4h0M87.3 33.5h0M85.6 37.7h0M76.3 37.7h0M72.4 31.9h0M51.4 68.2h0M41.1 34.8h0M67.5 79.6h0M79.1 88.7h0M73.7 91.8h0M45.7 42.2h0M76.5 41.3h0M55.8 46.5h0M54.1 35.3h0M44.4 35.3h0M58.3 41.4h0M53.9 69.5h0M78.3 68.6h0M63.1 51.5h0M64.8 63.5h0M41.8 33.0h0M80.7 47.3h0M88.2 33.6h0M61.5 68.0h0M46.5 46.8h0M47.7 69.3h0M56.0 50.6h0M51.0 53.9h0M63.8 57.9h0M82.6 59.4h0M76.2 35.4h0M72.7 88.8h0M78.6 51.9h0M41.1 36.5h0M68.1 64.6h0M64.7 77.5h0M56.4 72.1h0M41.1 50.1h0M74.4 60.2h0M60.0 55.1h0M74.7 53.1h0M78.9 86.7h0M47.8 36.1h0M84.7 46.7h0M52.1 53.1h0M53.7 61.6h0M62.9 43.9h0M63.0 67.9h0M48.9 66.3h0M60.4 46.2h0M75.1 91.0h0M64.7 74.8h0M59.5 79.7h0M77.6 35.3h0M82.5 65.9h0M52.1 39.8h0M44.9 54.9h0M71.6 49.7h0M78.6 46.5h0M82.3 49.8h0M72.5 54.9h0M81.2 51.0h0M72.4 92.6h0M64.9 64.2h0M68.8 63.4h0M50.1 64.6h0M49.4 32.9h0M76.2 38.5h0M42.3 36.7h0M84.7 42.3h0M77.3 45.8h0M69.7 48.9h0M60.2 72.5h0M68.2 80.4h0M44.3 60.4h0M63.7 61.8h0M78.6 75.5h0M61.2 86.1h0M82.7 63.0h0M65.0 65.9h0M59.5 37.8h0M66.6 34.4h0M54.9 79.1h0M53.7 74.5h0M53.0 34.2h0M49.4 60.3h0M50.8 73.0h0M81.4 57.8h0M64.0 89.3h0M78.8 44.6h0M67.6 72.3h0M60.8 34.5h0M50.6 75.3h0M62.7 89.4h0M51.5 35.8h0M85.2 59.3h0M55.5 52.6h0M80.5 78.6h0M47.4 64.2h0M67.1 54.9h0M62.8 53.9h0M72.2 38.4h0M61.9 43.6h0M78.0 55.0h0M74.1 35.6h0M71.1 49.9h0M46.0 54.1h0M43.7 54.7h0M49.2 68.9h0M53.8 39.2h0M60.9 34.9h0M79.3 59.1h0M80.7 35.1h0M60.1 49.0h0M62.2 46.9h0M66.4 57.1h0M77.1 54.8h0M87.9 50.6h0M72.4 33.0h0M48.3 43.0h0M46.8 59.2h0M86.8 52.6h0M79.6 76.3h0M81.3 51.7h0M84.5 61.6h0M52.3 66.7h0M71.1 36.4h0M80.9 61.7h0M54.0 34.4h0M70.2 75.9h0M65.3 68.3h0M71.7 58.4h0M65.0 88.1h0M65.2 86.1h0M85.9 39.5h0M50.5 76.0h0M60.6 67.5h0M52.5 76.0h0M71.0 32.6h0M64.0 71.2h0M91.0 32.3h0M59.9 47.8h0M43.9 57.4h0M57.4 33.5h0M70.1 56.2h0M49.4 47.2h0M68.6 59.3h0M52.0 57.9h0M62.5 46.0h0M82.8 48.6h0M42.6 34.2h0M50.2 46.7h0M44.2 42.4h0M57.1 43.4h0M41.4 49.2h0M52.2 39.6h0M73.5 60.3h0M68.2 56.1h0M61.4 77.5h0M81.2 62.6h0M81.1 47.2h0M50.6 48.0h0M57.4 78.4h0M77.6 55.1h0M56.1 72.6h0M62.1 63.4h0M87.6 38.8h0M53.7 81.3h0M80.8 37.1h0M57.1 66.6h0M74.6 91.7h0M55.9 34.0h0M84.0 34.3h0M75.8 59.9h0M64.6 57.2h0M54.3 46.3h0M59.6 87.8h0M47.4 61.5h0M46.6 67.1h0M90.3 36.1h0M50.1 39.0h0M56.5 36.3h0M81.4 45.8h0M77.3 82.8h0M78.0 58.2h0M56.6 45.1h0M75.6 33.6h0M74.0 52.9h0M76.6 87.2h0M62.3 57.5h0M81.3 44.0h0M68.5 31.3h0M44.2 59.3h0M88.5 52.6h0M56.3 81.3h0M67.5 37.4h0M45.1 36.4h0M68.8 73.1h0M76.4 35.9h0M58.6 79.5h0M55.2 65.3h0M50.9 67.9h0M52.7 34.2h0M80.0 70.4h0M69.0 68.0h0M53.6 34.7h0M88.2 33.0h0M75.3 72.1h0M49.3 49.1h0M46.5 36.2h0M57.6 72.3h0M86.9 46.7h0M62.8 53.0h0M82.2 69.5h0M70.0 31.1h0M58.2 60.2h0M73.9 90.8h0M64.4 90.8h0M75.2 77.4h0M54.3 71.4h0M78.0 32.4h0M78.0 60.9h0M81.5 58.6h0M91.3 41.7h0M78.4 40.1h0M80.3 78.0h0M68.0 60.3h0M44.2 56.2h0M91.6 33.7h0M79.9 74.9h0M63.8 40.7h0M68.2 75.9h0M56.9 52.6h0M74.3 72.0h0M72.2 42.4h0M64.5 55.9h0M76.6 72.3h0M75.4 55.5h0M57.5 77.9h0M53.6 71.0h0M72.9 88.9h0M57.9 47.4h0M82.2 71.9h0M56.9 58.9h0M64.1 42.9h0M55.8 33.2h0M83.4 52.0h0M70.7 57.6h0M74.5 41.6h0M60.7 44.4h0M64.0 64.9h0M51.6 48.1h0M68.0 64.9h0M58.1 83.9h0M49.3 72.0h0M50.7 52.4h0M62.2 36.3h0M73.0 40.1h0M73.2 71.2h0M45.2 33.7h0M64.0 31.6h0M76.3 74.7h0M76.4 72.0h0M64.3 31.6h0M88.9 49.1h0M69.2 31.6h0M67.4 62.4h0M52.7 48.0h0M43.3 34.1h0M79.2 34.7h0M60.1 75.5h0M54.9 51.8h0M68.3 36.2h0M62.5 35.4h0M63.0 74.7h0M64.1 34.8h0M78.3 56.7h0M79.7 50.0h0M45.2 46.6h0M68.5 65.7h0M67.8 69.8h0M65.8 80.0h0M72.6 37.5h0M55.9 47.5h0M61.9 53.1h0M64.5 59.2h0M64.6 58.9h0M54.8 55.6h0M84.6 60.7h0M63.3 52.8h0M56.6 54.0h0M51.5 66.2h0M75.3 89.9h0M47.1 60.9h0M71.4 70.6h0M82.6 36.8h0M54.4 78.8h0M75.2 36.4h0M70.6 88.1h0M85.5 56.7h0M45.4 43.0h0M67.8 55.9h0M89.0 34.7h0M62.3 48.4h0M82.0 75.8h0M46.8 68.0h0M82.0 72.1h0M42.2 40.4h0M43.7 48.1h0M51.4 46.1h0M83.9 38.9h0M79.0 38.5h0M43.7 42.4h0M68.2 70.7h0M48.6 55.3h0M74.4 47.3h0M47.6 52.7h0M74.0 86.3h0M76.1 57.2h0M74.4 31.6h0M52.1 43.4h0M49.5 69.3h0M47.3 57.9h0M68.3 50.7h0M43.7 53.0h0M77.8 40.2h0M61.1 55.8h0M66.6 49.3h0M67.8 85.8h0M75.5 86.3h0M57.6 64.0h0M58.6 32.7h0M57.2 39.1h0M63.1 40.9h0M87.9 40.2h0M57.2 74.6h0M61.8 31.7h0M57.5 52.0h0M62.8 71.7h0M57.2 49.7h0M87.0 54.0h0M44.8 44.1h0M90.1 45.9h0M62.8 35.6h0M89.4 36.0h0M65.6 57.9h0M51.6 72.1h0M62.3 65.0h0M61.2 58.2h0M91.5 32.6h0M72.7 56.0h0M64.0 69.5h0M46.4 32.8h0M58.0 48.4h0M83.4 68.6h0M90.7 39.5h0M77.0 57.4h0M54.2 55.8h0M55.5 39.3h0M55.3 50.1h0M74.4 61.8h0M90.0 41.0h0M53.9 56.2h0M55.3 50.8h0M76.1 75.4h0M49.1 46.7h0M55.1 74.5h0M52.3 73.3h0M81.0 38.4h0M46.9 34.2h0M61.2 67.5h0M50.0 40.5h0M77.9 86.0h0M66.4 58.5h0M67.4 57.5h0M51.6 53.0h0M74.7 85.6h0M45.5 54.0h0M49.4 41.1h0M86.0 62.8h0M83.6 51.8h0M54.1 68.0h0M53.6 55.5h0M67.7 68.6h0M85.5 50.1h0M50.3 65.4h0M70.8 89.8h0M66.3 47.3h0M87.1 55.0h0M81.9 43.6h0M58.6 52.8h0M68.8 34.2h0M75.0 41.7h0M45.2 45.1h0M59.2 61.1h0M58.9 61.6h0M70.3 64.6h0M83.2 44.2h0M90.4 40.3h0M77.7 63.2h0M66.8 86.0h0M81.5 49.2h0M61.1 50.6h0M72.6 38.2h0M86.1 50.3h0M42.8 37.3h0M58.1 46.2h0M73.7 88.4h0M66.4 86.0h0M54.0 69.3h0M73.3 92.1h0M75.8 60.8h0M61.1 84.8h0M74.3 78.7h0M60.4 56.7h0M50.3 66.6h0M67.2 65.0h0M66.6 70.2h0M85.9 42.7h0M69.5 48.3h0M58.5 43.1h0M73.8 73.1h0M77.1 48.7h0M47.4 44.9h0M76.9 32.5h0M46.2 34.9h0M75.9 57.9h0M73.6 39.8h0M59.9 78.5h0M72.7 46.7h0M41.9 50.8h0M66.5 66.8h0M44.9 42.5h0M71.0 57.0h0M57.4 58.8h0M51.2 60.1h0M56.0 49.6h0M66.6 72.1h0M46.4 47.6h0M57.2 47.2h0M69.5 83.7h0M71.2 52.7h0M71.6 49.6h0M42.7 45.3h0M61.4 64.7h0M47.9 47.6h0M66.1 32.5h0M65.1 83.4h0M59.1 64.3h0M45.6 55.7h0M69.8 61.9h0M53.6 36.9h0M50.5 55.4h0M55.3 56.4h0M75.5 37.1h0M56.2 57.5h0M78.1 53.5h0M90.5 38.9h0M46.7 58.9h0M86.7 42.5h0M43.6 36.2h0M63.6 43.6h0M61.9 80.9h0M72.5 58.2h0M56.3 59.0h0M71.5 72.5h0M80.1 33.9h0M76.3 43.3h0M50.5 56.6h0M41.0 34.0h0M71.2 41.9h0M70.7 36.0h0M51.4 35.0h0M72.5 75.4h0M84.1 38.2h0M64.6 76.3h0M75.6 91.3h0M55.4 32.8h0M53.5 74.8h0M44.6 42.6h0M79.8 72.1h0M73.1 73.2h0M70.2 40.0h0M64.2 81.9h0M58.4 37.1h0M68.3 53.9h0M60.0 75.6h0M84.6 67.7h0M62.6 57.2h0M79.7 42.0h0M56.0 81.3h0M79.8 60.7h0M70.4 57.0h0M53.3 52.3h0M55.3 41.5h0M66.3 76.7h0M65.3 84.8h0M72.9 50.8h0M68.9 51.3h0M57.4 35.6h0M50.0 54.3h0M54.8 77.1h0M56.0 33.2h0M57.4 85.0h0M57.4 50.8h0M65.9 36.5h0M48.4 45.8h0M66.1 53.9h0M55.5 37.2h0M66.9 42.4h0M82.7 72.9h0M76.2 75.4h0M81.9 69.6h0M67.3 66.4h0M46.1 50.6h0M74.0 56.1h0M61.7 44.4h0M46.2 54.8h0M53.3 58.0h0M56.5 40.7h0M84.7 34.9h0M76.9 40.4h0M60.6 84.6h0M51.5 39.0h0M62.9 48.5h0M67.0 50.7h0M88.7 51.5h0M87.3 31.4h0M60.9 63.6h0M85.1 57.0h0M49.7 54.7h0M73.3 92.3h0M51.1 59.0h0M81.4 47.8h0M74.8 58.7h0M75.5 42.5h0M43.2 51.2h0M72.5 75.6h0M80.7 72.3h0M91.1 43.4h0M75.8 83.9h0M47.6 57.7h0M87.7 49.9h0M50.4 39.4h0M65.4 63.5h0M64.3 53.0h0M60.8 41.4h0M42.4 47.1h0M62.4 73.1h0M62.6 37.9h0M67.1 53.5h0M69.4 81.2h0M68.8 42.8h0M80.8 43.3h0M82.0 61.7h0M49.2 60.1h0M66.0 70.5h0M53.8 66.8h0M84.9 54.7h0M76.8 43.7h0M80.7 40.7h0M86.2 34.9h0M60.6 43.0h0M88.1 40.5h0M86.5 45.2h0M77.0 61.7h0M46.0 41.7h0M74.0 81.8h0M58.8 57.5h0M75.3 34.3h0M68.5 72.9h0M70.4 63.3h0M82.0 71.5h0M70.5 60.7h0M82.1 51.9h0M61.4 66.1h0M84.8 48.7h0M79.7 36.1h0M83.0 56.6h0M73.7 42.4h0M50.8 38.1h0M40.2 37.7h0M74.1 73.8h0M72.4 46.3h0M75.2 40.0h0M59.5 42.0h0M90.2 42.9h0M60.2 58.8h0M66.9 70.7h0M63.9 56.3h0M88.6 46.2h0M82.2 71.5h0M56.1 76.0h0M69.9 31.3h0M78.6 68.2h0M42.5 45.5h0M56.4 43.3h0M63.2 38.3h0M53.0 80.5h0M53.6 81.4h0M56.7 41.0h0M65.9 59.6h0M71.7 59.3h0M48.8 35.8h0M56.7 74.2h0M41.9 40.0h0M70.0 53.1h0M76.7 57.2h0M82.2 57.0h0M53.0 72.6h0M82.6 72.7h0M53.2 46.3h0M53.0 45.6h0M62.1 59.9h0M54.6 33.2h0M58.5 43.4h0M76.2 73.7h0M52.3 66.1h0M84.0 40.6h0M64.5 48.6h0M88.6 53.3h0M77.8 31.0h0M46.7 45.9h0M72.8 89.6h0M82.5 42.0h0M47.3 36.1h0M68.4 49.6h0M78.9 79.0h0M87.0 46.4h0M80.6 42.9h0M50.9 61.8h0M70.9 32.5h0M80.9 63.8h0M81.0 79.1h0M66.7 41.4h0M54.4 74.5h0M63.9 39.1h0M62.9 59.6h0M64.5 31.9h0M53.7 50.4h0M45.4 53.7h0M64.1 69.4h0M48.7 68.8h0M66.3 76.3h0M78.5 45.8h0M51.8 78.7h0M85.3 63.5h0M56.2 45.0h0M67.6 74.2h0M75.9 79.9h0M86.6 47.9h0M70.5 47.1h0M84.0 31.1h0M79.8 51.5h0M50.5 71.6h0M87.8 43.9h0M77.0 49.3h0M76.6 33.8h0M78.5 37.0h0M63.0 88.2h0M58.1 43.0h0M82.4 37.5h0M40.6 38.2h0M75.2 73.1h0M71.1 72.9h0M51.3 42.9h0M79.5 57.3h0M68.7 81.6h0M41.0 39.8h0M47.9 66.1h0M76.4 88.8h0M64.9 58.5h0M77.8 33.8h0M71.5 31.1h0M66.4 56.8h0M79.5 51.3h0M77.5 80.2h0M56.0 53.8h0M72.2 44.5h0M88.1 44.9h0M78.3 62.9h0M44.7 52.2h0M60.9 42.0h0M56.3 36.0h0M43.9 41.4h0M71.0 31.7h0M81.5 68.0h0M45.2 50.8h0M60.8 64.5h0M86.5 33.5h0M64.2 34.1h0M72.1 52.2h0M70.6 40.9h0M51.4 56.9h0M86.6 31.2h0M80.4 71.8h0M52.8 54.3h0M69.0 51.7h0M80.2 47.5h0M75.2 67.7h0M67.9 41.5h0M67.1 43.6h0M83.6 55.4h0M73.6 61.9h0M54.2 36.1h0M82.0 78.3h0M52.7 60.2h0M68.4 49.7h0M87.1 41.7h0M90.1 42.0h0M83.2 61.4h0M55.7 52.1h0M81.2 32.2h0M78.0 70.6h0M59.6 87.0h0M68.6 38.8h0M59.8 40.2h0M79.4 74.3h0M64.5 33.6h0M54.7 39.8h0M41.6 33.7h0M88.5 48.2h0M73.6 41.0h0M81.7 67.7h0M55.7 67.5h0M65.9 49.3h0M45.9 61.9h0M52.7 59.0h0M83.6 44.1h0M69.2 34.0h0M63.6 32.7h0M51.6 51.2h0M66.6 61.5h0M78.5 34.8h0M75.9 80.4h0M45.0 53.3h0M69.5 41.0h0M70.6 72.2h0M87.4 57.6h0M73.4 48.9h0M52.9 67.1h0M67.6 38.5h0M77.5 76.1h0M82.3 64.0h0M57.1 79.1h0M68.5 66.2h0M53.1 65.1h0M72.3 76.0h0M64.1 34.8h0M72.9 90.3h0M50.1 71.8h0M46.2 63.1h0M48.9 53.1h0M58.6 54.1h0M72.2 43.0h0M77.0 56.6h0M54.7 59.6h0M46.0 45.1h0M71.6 50.9h0M70.6 53.4h0M69.5 76.0h0M61.4 39.4h0M78.3 84.8h0M86.0 45.3h0M68.9 45.6h0M76.7 44.8h0M86.8 38.1h0M60.9 52.2h0M66.8 72.0h0M52.2 44.2h0M48.7 42.5h0M61.1 32.7h0M56.2 72.6h0M75.9 52.5h0M54.3 46.5h0M74.7 49.4h0M83.0 69.6h0M45.4 36.9h0M57.4 50.0h0M41.0 34.4h0M73.4 73.2h0M60.5 69.4h0M56.8 47.3h0M44.3 39.9h0M52.8 56.2h0M61.3 56.4h0M63.1 64.9h0M61.1 48.6h0M69.0 51.5h0M59.0 52.6h0M58.2 83.4h0M72.4 52.6h0M55.7 55.8h0M82.1 61.1h0M74.3 42.3h0M80.3 33.6h0M74.2 34.9h0M65.7 37.2h0M84.0 36.3h0M82.3 77.1h0M83.7 41.9h0M41.8 42.7h0M64.7 83.0h0M56.0 61.7h0M70.3 32.6h0M64.0 60.6h0M59.5 38.9h0M83.8 60.5h0M83.4 67.7h0M51.3 62.5h0M52.8 58.3h0M75.3 74.6h0M75.2 69.3h0M71.4 73.5h0M67.3 55.3h0M61.5 32.4h0M58.4 38.5h0M58.7 56.9h0M70.4 91.6h0M74.1 46.7h0M52.9 45.7h0M63.3 66.1h0M74.0 64.7h0M84.2 60.7h0M77.7 83.1h0M70.0 37.0h0M50.2 39.4h0M69.0 49.4h0M68.6 80.6h0M67.4 53.2h0M78.3 80.9h0M79.6 57.8h0M59.0 83.5h0M57.9 49.0h0M90.8 38.7h0M57.5 36.0h0M50.8 51.2h0M68.3 59.9h0M62.4 82.9h0M61.2 32.0h0M80.5 79.1h0M77.3 65.7h0M69.7 78.1h0M62.0 76.2h0M74.6 69.6h0M50.2 58.3h0M64.3 56.7h0M41.4 47.5h0M67.7 64.7h0M83.7 60.6h0M89.1 44.6h0M45.0 43.4h0M78.2 77.2h0M69.0 53.4h0M75.3 52.0h0M59.6 54.2h0M91.2 41.7h0M65.9 66.8h0M62.7 83.6h0M79.1 69.9h0M64.7 45.7h0M83.6 44.5h0M61.7 69.2h0M65.1 53.7h0M80.9 69.7h0M84.0 34.2h0M85.9 37.0h0M48.2 69.5h0M45.6 51.7h0M56.0 66.6h0M42.9 42.1h0M56.8 46.4h0M51.1 39.3h0M77.9 61.8h0M51.1 62.4h0M83.6 59.3h0M82.8 62.1h0M70.6 51.4h0M78.5 65.8h0M44.0 44.6h0M60.6 88.6h0M90.2 43.5h0M54.9 40.0h0M45.1 41.3h0M71.8 84.7h0M67.0 57.6h0M44.0 40.7h0M73.4 54.1h0M81.7 42.6h0M70.7 57.4h0M82.7 43.4h0M45.1 38.4h0M45.8 43.9h0M54.4 40.7h0M84.3 32.7h0M53.0 72.5h0M83.1 56.4h0M78.7 64.0h0M65.6 69.1h0M67.5 48.1h0M56.5 72.4h0M46.6 59.6h0M75.3 51.6h0M75.9 34.9h0M49.2 46.5h0M74.1 63.8h0M86.7 34.4h0M79.0 71.0h0M70.2 56.9h0M78.2 80.2h0M76.2 68.5h0M57.9 72.1h0M83.1 61.0h0M62.0 50.3h0M67.4 73.8h0M58.0 74.7h0M66.3 39.5h0M45.9 45.9h0M65.4 89.0h0M54.7 75.7h0M71.5 41.4h0M48.2 43.3h0M70.6 63.1h0M52.3 37.5h0M69.4 44.5h0M75.2 45.9h0M73.4 48.4h0M60.6 37.6h0M49.8 40.2h0M70.8 76.8h0M63.0 54.6h0M39.7 37.4h0M68.7 64.2h0M51.9 33.0h0M85.7 31.5h0M66.6 45.2h0M71.9 79.4h0M55.7 73.5h0M88.6 50.8h0M78.4 53.8h0M42.5 48.9h0M52.7 46.3h0M59.3 43.5h0M64.2 52.9h0M66.3 62.4h0M73.7 75.1h0M43.8 54.8h0M66.4 42.4h0M87.1 56.4h0M89.6 31.7h0M75.5 63.1h0M73.6 87.7h0M80.3 66.5h0M47.8 47.8h0M84.9 34.2h0M52.4 53.5h0M69.9 50.7h0M82.9 31.1h0M66.2 64.6h0M73.6 34.9h0M89.3 38.1h0M74.5 83.5h0M46.8 56.7h0M57.0 65.3h0M69.0 44.1h0M65.8 78.8h0M55.3 82.6h0M60.6 56.0h0M56.7 61.1h0M58.1 71.8h0M73.9 71.0h0M68.8 48.0h0M79.3 72.1h0M61.9 55.8h0M75.1 33.3h0M65.1 49.3h0M77.7 62.3h0M46.6 37.6h0M58.9 71.0h0M70.7 66.9h0M53.5 54.5h0M60.6 44.9h0M82.3 50.5h0M67.6 40.8h0M52.0 66.4h0M41.3 48.6h0M76.4 67.6h0M69.6 86.6h0M47.4 37.6h0M83.1 32.9h0M85.6 57.9h0M75.3 49.7h0M52.6 63.2h0M51.7 72.2h0M65.9 42.1h0M68.9 67.1h0M59.7 72.3h0M68.8 74.5h0M75.0 61.8h0M87.5 32.0h0M86.8 55.0h0M69.0 35.4h0M42.4 34.7h0M59.9 69.9h0M67.9 51.4h0M44.9 43.1h0M80.6 39.8h0M53.7 78.9h0M65.4 34.8h0M69.0 51.1h0M58.5 75.0h0M70.7 51.1h0M42.4 40.6h0M71.4 32.1h0M67.1 79.4h0M84.7 33.9h0M51.0 54.8h0M47.0 43.5h0M73.9 81.5h0M60.9 66.2h0M83.6 67.9h0M83.8 34.2h0M72.7 55.9h0M61.5 48.7h0M70.2 72.1h0M79.8 70.3h0M75.1 37.0h0M77.4 61.6h0M80.4 33.4h0M87.0 46.3h0M70.2 39.3h0M79.9 51.5h0M48.2 58.2h0M66.9 39.9h0M62.2 54.4h0M63.2 91.1h0M73.4 57.2h0M73.9 75.9h0M44.2 60.5h0M58.3 32.2h0M54.9 49.3h0M78.3 90.9h0M44.7 57.7h0M69.0 44.0h0M80.7 52.7h0M71.1 50.3h0M90.6 36.0h0M57.7 64.2h0M63.4 38.8h0M85.2 52.5h0M58.0 68.1h0M75.1 45.7h0M63.9 39.8h0M70.4 58.9h0M72.1 58.8h0M67.4 83.0h0M66.3 75.9h0M87.8 46.5h0M80.5 52.4h0M51.2 48.9h0M66.6 62.1h0M73.6 35.1h0M70.1 52.4h0M59.3 54.4h0M77.8 74.5h0M84.7 44.9h0M50.9 72.3h0M53.9 56.3h0M50.1 66.3h0M74.0 35.7h0M92.5 32.6h0M74.9 82.4h0M61.4 45.0h0M52.5 43.2h0M61.2 66.8h0M53.2 61.2h0M66.7 43.7h0M50.6 38.3h0M46.1 33.5h0M50.6 66.4h0M61.5 68.6h0M54.8 75.9h0M58.1 68.1h0M53.0 39.1h0M66.0 90.1h0M67.0 41.3h0M90.7 37.4h0M49.9 38.1h0M55.7 82.3h0M50.5 40.7h0M64.5 36.7h0M67.6 34.0h0M50.9 49.0h0M85.2 58.7h0M48.2 65.6h0M49.7 35.3h0M85.2 65.7h0M62.8 47.2h0M52.6 42.4h0M78.3 53.3h0M80.1 40.0h0M54.5 57.1h0M64.0 49.1h0M49.9 51.4h0M78.9 34.4h0M72.6 57.4h0M62.8 91.3h0M60.5 42.4h0M87.4 46.6h0M86.5 33.8h0M88.4 54.1h0M75.5 41.7h0M53.3 54.6h0M53.9 49.9h0M73.1 48.4h0M48.8 62.2h0M73.7 43.0h0M82.7 37.0h0M79.3 44.9h0M75.7 81.1h0M50.0 48.1h0M82.9 46.3h0M64.8 39.3h0M49.0 50.2h0M44.2 57.0h0M44.0 45.5h0M58.4 85.0h0M85.4 55.4h0M71.6 56.2h0M81.0 45.5h0M76.6 43.6h0M74.2 51.0h0M68.1 73.4h0M66.6 39.3h0M63.7 68.3h0M46.3 34.1h0M61.2 33.1h0M63.0 43.9h0M61.5 34.4h0M60.3 81.1h0M73.1 77.7h0M49.4 63.6h0M73.2 45.0h0M57.6 54.4h0M69.3 81.7h0M51.1 55.7h0M43.2 47.8h0M60.3 89.2h0M78.9 46.4h0M81.2 76.3h0M60.1 75.9h0M56.1 57.3h0M57.0 55.8h0M62.8 80.7h0M67.6 36.8h0M55.5 70.9h0M72.5 35.0h0M75.0 79.3h0M63.6 78.7h0M43.4 54.6h0M69.1 40.6h0M85.0 45.6h0M83.4 48.7h0M76.5 63.1h0M82.7 71.9h0M56.5 44.0h0M49.3 43.4h0M77.4 77.7h0M47.7 65.1h0M80.3 48.5h0M69.6 37.9h0M75.9 74.6h0M74.3 44.9h0M42.9 40.9h0M51.2 39.8h0M57.2 68.0h0M49.0 67.1h0M44.1 52.3h0M48.5 37.6h0M42.8 35.3h0M45.6 41.3h0M72.8 31.0h0M57.2 38.9h0M85.6 62.3h0M78.9 64.5h0M76.7 51.7h0M76.6 39.9h0M68.6 37.2h0M44.3 44.7h0M52.3 39.6h0M71.8 61.8h0M76.2 45.7h0M85.2 63.6h0M56.0 57.5h0M80.0 39.9h0M56.7 67.3h0M77.2 51.9h0M75.8 33.4h0M62.0 63.0h0M47.3 53.7h0M57.0 54.9h0M81.8 67.4h0M76.8 59.8h0M71.0 43.9h0M77.2 45.9h0M56.0 41.2h0M68.3 52.9h0M70.5 37.8h0M53.3 55.8h0M57.5 66.5h0M79.8 38.9h0M56.4 70.4h0M70.6 43.1h0M43.0 50.6h0M59.1 74.5h0M89.4 48.0h0M57.3 49.0h0M85.1 40.0h0M70.9 52.0h0M58.8 82.8h0M71.7 49.4h0M76.3 88.3h0M57.5 40.6h0M81.9 68.6h0M72.8 78.5h0M85.5 59.7h0M72.5 92.5h0M48.1 69.6h0M88.5 50.4h0M73.4 79.1h0M63.1 65.4h0M84.1 57.8h0M77.1 80.4h0M66.4 41.1h0M65.7 79.0h0M48.8 35.3h0M39.6 33.1h0M69.5 63.3h0M47.5 50.2h0M50.1 48.7h0M62.8 82.8h0M68.4 84.2h0M66.5 36.9h0M71.3 79.1h0M88.2 39.2h0M66.7 51.0h0M49.1 60.1h0M71.3 59.9h0M70.6 41.6h0M71.0 39.9h0M50.5 33.0h0M75.5 86.8h0M56.0 70.8h0M45.4 59.0h0M78.0 86.0h0M87.5 31.7h0M64.1 51.1h0M72.9 66.1h0M83.1 58.2h0M60.9 45.8h0M72.8 69.8h0M88.1 34.4h0M54.3 59.5h0M77.5 85.6h0M47.9 65.1h0M68.9 32.7h0M66.0 92.0h0M49.6 68.9h0M70.9 65.8h0M84.3 34.9h0M87.4 31.4h0M76.0 66.8h0M65.5 70.5h0M70.6 93.4h0M68.0 32.1h0M52.7 78.2h0M56.8 74.8h0M56.1 40.6h0M48.8 37.0h0M82.6 43.9h0M65.8 47.3h0M54.3 33.8h0M75.1 51.5h0M78.8 56.1h0M89.1 37.2h0M54.9 55.0h0M51.4 38.6h0M65.6 55.3h0M76.3 66.8h0M55.9 58.8h0M57.3 35.6h0M64.6 36.4h0M39.5 35.4h0M70.1 39.0h0M63.0 62.8h0M51.0 53.4h0M77.5 44.6h0M70.4 56.6h0M69.2 49.5h0M55.2 53.5h0M66.6 87.0h0M52.6 39.2h0M66.1 44.6h0M68.5 79.1h0M52.9 32.3h0M81.3 39.2h0M79.3 46.0h0M65.2 76.0h0M51.8 37.0h0M70.7 51.8h0M80.1 58.3h0M77.6 83.5h0M69.8 60.3h0M47.9 66.7h0M87.7 40.1h0M54.9 72.5h0M69.4 52.8h0M84.6 58.1h0M73.3 63.6h0M48.7 65.3h0M45.0 46.5h0M77.3 46.3h0M56.3 84.1h0M79.0 87.3h0M69.7 53.4h0M64.5 64.0h0M91.3 35.4h0M41.5 37.2h0M45.5 60.4h0M57.2 64.4h0M77.9 91.7h0M73.1 73.0h0M41.9 48.9h0M73.8 75.0h0M66.2 32.1h0M67.3 63.6h0M78.6 50.0h0M68.2 82.5h0M87.3 54.9h0M84.6 51.7h0M43.9 59.9h0M59.1 52.4h0M89.1 32.9h0M51.0 62.8h0M76.8 75.3h0M76.0 67.3h0M74.2 74.8h0M62.0 71.8h0M83.6 57.1h0M53.7 49.5h0M62.2 39.2h0M57.1 66.1h0M64.3 56.8h0M76.9 72.3h0M49.2 47.2h0M66.9 57.0h0M47.9 67.5h0M73.8 62.4h0M81.7 59.6h0M81.3 48.1h0M63.3 80.0h0M92.1 36.9h0M87.3 34.7h0M61.7 49.9h0M55.4 37.8h0M57.7 55.8h0M42.1 47.8h0M69.1 35.6h0M69.9 75.7h0M61.2 47.8h0M63.7 54.7h0M40.3 39.0h0M46.5 37.6h0M90.2 32.4h0M61.1 52.1h0M56.7 68.6h0M67.6 86.0h0M70.2 73.3h0M82.1 49.1h0M66.4 83.6h0M45.4 43.8h0M61.3 32.0h0M67.0 76.1h0M89.5 48.7h0M78.0 58.2h0M68.7 61.2h0M68.1 75.9h0M50.1 71.2h0M87.4 42.2h0M69.9 93.1h0M55.3 43.3h0M41.2 38.7h0M83.1 33.0h0M69.8 81.9h0M67.1 46.8h0M70.3 59.6h0M76.9 86.8h0M67.4 43.6h0M89.3 32.4h0M42.2 50.7h0M72.0 58.6h0M57.4 51.9h0M68.2 34.3h0M80.2 68.8h0M78.5 50.7h0M49.3 52.5h0M48.1 43.7h0M66.8 51.3h0M68.9 78.3h0M81.9 57.1h0M72.5 72.5h0M58.7 70.1h0M77.2 58.2h0M69.2 89.4h0M53.7 48.4h0M47.0 61.7h0M88.0 37.7h0M85.5 64.3h0M61.1 48.2h0M50.6 51.6h0M90.3 34.0h0M45.4 50.5h0M49.6 66.4h0M69.7 66.2h0M81.0 45.9h0M77.9 32.5h0M62.0 56.2h0M46.7 41.2h0M53.2 35.5h0M61.7 58.2h0M86.9 38.8h0M80.6 74.5h0M80.0 78.0h0M50.3 42.7h0M57.0 65.9h0M57.3 74.2h0M79.5 57.3h0M70.2 73.9h0M39.6 37.4h0M47.1 51.7h0M76.9 65.7h0M43.8 39.7h0M75.8 44.4h0M57.5 60.8h0M72.1 53.3h0M52.9 63.9h0M65.5 69.1h0M81.9 71.7h0M62.1 57.9h0M56.7 77.0h0M74.9 62.9h0M59.1 56.2h0M55.9 36.6h0M71.2 91.4h0M88.9 36.8h0M65.3 77.8h0M76.8 77.8h0M44.7 48.1h0M51.1 47.1h0M58.1 43.1h0M56.8 82.3h0M57.6 63.7h0M44.5 45.8h0M90.5 42.9h0M49.3 49.1h0M65.9 68.0h0M42.2 46.4h0M65.6 37.0h0M70.2 47.0h0M82.2 47.8h0M77.1 54.6h0M65.5 61.8h0M49.6 69.6h0M82.7 67.7h0M58.6 50.5h0M80.7 47.6h0M89.0 32.7h0M59.7 48.1h0M84.8 46.5h0M59.1 75.8h0M50.5 45.7h0M53.1 48.9h0M49.3 63.4h0M76.5 92.2h0M57.1 67.2h0M86.6 48.6h0M49.1 70.9h0M60.8 46.3h0M74.5 72.0h0M85.7 45.0h0M72.0 53.7h0M74.8 61.2h0M58.4 62.3h0M76.5 54.5h0M62.7 55.5h0M63.8 57.3h0M63.0 58.8h0M43.7 52.9h0M79.5 59.7h0M68.0 74.9h0M52.9 40.1h0M41.5 36.7h0M52.7 50.3h0M81.8 73.2h0M86.2 50.3h0M66.0 82.8h0M49.0 62.8h0M66.6 52.8h0M75.4 85.9h0M43.9 42.4h0M65.9 32.0h0M69.0 71.3h0M56.2 54.1h0M50.8 46.5h0M75.7 82.6h0M40.7 35.9h0M81.4 65.6h0M40.9 34.4h0M54.4 39.9h0M81.1 75.9h0M76.6 46.2h0M44.5 45.9h0M67.7 58.2h0M69.6 42.6h0M87.1 54.3h0M48.3 62.2h0M56.9 76.8h0M85.6 43.8h0M91.6 37.0h0M84.7 67.5h0M84.7 65.9h0M85.5 31.8h0M78.3 59.6h0M83.5 72.3h0M56.8 55.7h0M92.4 36.1h0M46.6 65.3h0M62.6 44.1h0M49.6 34.2h0M63.4 41.6h0M71.9 43.7h0M77.7 57.5h0M74.2 42.8h0M84.5 45.8h0M76.9 32.7h0M68.6 71.9h0M73.9 67.5h0M74.8 69.5h0M43.9 38.1h0M56.1 75.5h0M63.8 49.5h0M88.5 39.3h0M76.0 67.1h0M44.8 57.0h0M61.6 36.4h0M65.9 67.7h0M69.1 66.1h0M60.0 49.0h0M74.1 88.0h0M58.7 44.0h0M71.0 54.9h0M72.4 49.3h0M50.8 34.1h0M51.5 74.1h0M86.1 51.1h0M75.7 39.5h0M79.5 60.4h0M74.5 64.9h0M71.5 86.8h0M52.6 57.3h0M48.2 50.0h0M54.3 83.0h0M58.7 74.6h0M67.0 40.8h0M88.0 45.8h0M60.4 50.0h0M78.5 42.4h0M85.7 52.1h0M51.4 32.6h0M87.6 54.6h0M59.6 68.6h0M86.1 62.4h0M45.6 64.5h0M67.3 58.1h0M72.9 71.4h0M70.1 90.5h0M60.7 85.2h0M72.9 47.4h0M58.6 32.0h0M51.2 48.0h0M57.4 75.4h0M89.9 38.3h0M68.9 37.3h0M78.7 64.6h0M63.3 83.2h0M76.4 34.2h0M54.0 51.1h0M76.4 47.3h0M42.0 34.9h0M82.8 39.5h0M68.7 50.4h0M76.5 58.2h0M57.0 36.0h0M84.7 36.9h0M40.6 33.1h0M89.7 41.5h0M47.4 66.7h0M41.3 44.2h0M76.2 52.2h0M87.5 36.5h0M76.9 49.7h0M88.5 33.7h0M73.8 78.5h0M72.3 36.4h0M64.7 47.6h0M63.5 52.1h0M79.5 60.6h0M75.5 36.3h0M45.0 36.5h0M76.0 69.6h0M70.7 55.9h0M64.5 60.7h0M49.3 36.5h0M59.2 87.2h0M50.5 60.3h0M54.3 82.1h0M66.6 31.5h0M64.2 79.4h0M64.7 46.4h0M40.2 36.5h0M63.5 33.8h0M62.0 42.3h0M59.5 39.9h0M80.3 68.3h0M58.3 54.3h0M64.3 75.0h0M71.3 92.8h0M76.2 53.1h0M39.8 35.8h0M61.1 32.9h0M90.3 35.7h0M85.1 37.3h0M48.2 54.7h0M51.7 36.9h0M82.3 73.8h0M58.1 51.8h0M74.0 33.9h0M74.3 69.2h0M52.1 62.7h0M63.9 49.9h0M78.3 59.1h0M64.4 37.6h0M53.1 44.4h0M65.7 37.3h0M46.8 64.3h0M77.2 88.9h0M51.9 66.3h0M77.2 74.0h0M65.1 73.5h0M73.0 41.2h0M70.1 57.2h0M45.7 42.5h0M47.1 45.5h0M78.6 40.1h0M46.3 37.3h0M81.4 42.9h0M75.7 74.4h0M77.5 57.8h0M87.0 51.1h0M79.7 48.3h0M54.0 60.3h0M74.2 37.7h0M58.3 57.9h0M87.1 55.8h0M68.5 35.8h0M68.3 44.8h0M44.2 47.4h0M76.6 41.3h0M73.2 34.4h0M66.8 38.5h0M83.0 70.2h0M77.2 53.1h0M52.8 49.6h0M72.6 56.8h0M60.4 51.4h0M59.2 51.5h0M69.0 50.6h0M68.3 54.1h0M61.3 83.6h0M67.0 82.8h0M42.7 37.1h0M51.9 55.3h0M71.1 40.4h0M67.7 48.3h0M55.2 35.8h0M74.4 52.6h0M55.3 47.2h0M83.4 40.5h0M77.8 69.5h0M78.6 76.3h0M53.6 61.1h0M83.5 38.3h0M54.6 45.5h0M76.1 62.5h0M85.1 37.1h0M53.0 33.7h0M92.4 33.3h0M86.3 54.8h0M85.9 58.2h0M69.4 50.7h0M78.8 55.0h0M85.9 51.3h0M78.0 51.6h0M47.5 46.4h0M87.3 50.5h0M55.2 52.5h0M79.4 70.6h0M47.6 48.5h0M85.7 49.4h0M62.6 57.7h0M88.3 33.8h0M55.2 50.6h0M88.8 32.4h0M90.7 35.1h0M50.4 52.1h0M65.3 48.8h0M66.9 32.1h0M66.3 40.4h0M56.8 37.8h0M48.6 40.1h0M63.9 46.1h0M53.4 43.6h0M69.2 47.0h0M64.4 76.9h0M82.1 67.7h0M72.1 44.3h0M52.0 32.3h0M73.0 77.1h0M61.4 36.5h0M50.5 57.7h0M70.8 90.6h0M71.7 36.3h0M45.6 36.0h0M56.6 45.3h0M84.5 54.7h0M69.0 38.4h0M47.2 59.8h0M67.3 77.3h0M62.2 42.9h0M65.9 91.8h0M92.4 31.3h0M48.0 51.2h0M63.5 47.8h0M85.0 45.3h0M61.6 86.6h0M62.9 71.6h0M51.7 58.7h0M54.5 58.8h0M59.6 67.3h0M45.8 63.3h0M52.2 41.1h0M52.3 49.4h0M81.6 39.7h0M79.3 63.7h0M71.9 62.6h0M69.6 88.5h0M68.5 68.2h0M63.6 81.8h0M65.6 42.7h0M58.3 82.4h0M79.7 56.4h0M83.4 54.4h0M53.2 51.1h0M85.9 48.1h0M45.7 48.8h0M73.3 43.1h0M60.1 39.4h0M69.3 92.0h0M54.9 38.3h0M61.9 51.4h0M60.4 83.7h0M76.1 43.4h0M53.6 46.7h0M41.7 50.5h0M78.4 42.3h0M61.4 73.3h0M69.9 82.4h0M78.8 79.3h0M82.9 54.8h0M45.5 35.1h0M50.5 43.9h0M47.5 59.2h0M69.3 64.8h0M73.4 69.0h0M52.2 32.1h0M85.5 39.1h0M86.9 44.6h0M73.0 72.0h0M50.8 50.8h0M54.7 56.5h0M86.7 50.4h0M58.3 65.6h0M68.4 49.6h0M48.5 41.0h0M58.7 80.7h0M77.6 61.3h0M72.8 66.4h0M62.8 36.5h0M56.7 84.3h0M76.2 62.0h0M55.8 60.4h0M85.7 49.1h0M75.7 68.5h0M45.2 35.5h0M59.3 58.2h0M73.5 58.6h0M44.2 59.3h0M48.4 43.0h0M56.8 37.3h0M66.0 32.4h0M61.7 66.3h0M79.5 75.0h0M60.6 42.5h0M64.4 46.2h0M65.4 50.0h0M63.1 61.8h0M65.4 62.5h0M56.9 54.7h0M59.5 63.6h0M57.5 42.9h0M82.8 70.7h0M61.1 34.1h0M58.2 73.3h0M76.1 32.2h0M67.4 89.9h0M54.4 62.3h0M72.3 44.9h0M80.9 37.6h0M51.3 50.2h0M65.5 54.2h0M71.3 76.3h0M43.0 35.5h0M75.0 47.1h0M47.1 41.6h0M77.5 84.3h0M57.5 86.4h0M69.2 70.6h0M43.0 44.6h0M39.5 36.5h0M63.7 70.6h0M76.9 48.5h0M91.2 34.3h0M52.8 47.4h0M78.3 63.4h0M65.4 37.5h0M76.2 47.2h0M50.4 60.1h0M84.7 34.0h0M78.2 91.7h0M79.8 54.0h0M76.3 43.4h0M54.4 44.9h0M74.2 74.3h0M53.5 48.9h0M58.5 33.2h0M74.6 75.0h0M80.1 39.8h0M68.4 56.1h0M59.2 59.1h0M82.7 31.6h0M73.5 70.5h0M52.5 67.8h0M49.8 66.0h0M49.3 64.3h0M71.3 48.7h0M68.5 43.6h0M50.6 66.6h0M74.1 70.6h0M83.5 63.5h0M64.9 69.3h0M80.5 40.4h0M79.1 85.9h0M42.5 32.9h0M80.7 49.5h0M45.0 33.4h0M53.0 50.8h0M61.4 53.5h0M66.1 67.9h0M45.2 35.6h0M48.8 54.2h0M63.7 39.7h0M87.5 45.6h0M71.1 54.4h0M45.8 36.0h0M60.3 41.5h0M58.6 67.2h0M52.7 43.9h0M78.4 61.6h0M68.7 54.8h0M81.9 52.2h0M71.3 50.0h0M41.1 46.4h0M76.3 55.3h0M69.2 58.1h0M45.2 54.7h0M78.7 51.6h0M81.3 58.4h0M72.0 52.9h0M81.8 35.0h0M88.0 46.8h0M74.8 46.1h0M80.7 52.9h0M69.0 37.0h0M50.7 66.8h0M59.6 72.0h0M59.7 56.0h0M45.5 39.7h0M46.7 51.2h0M69.0 34.7h0M60.2 64.3h0M80.6 60.7h0M59.7 39.6h0M66.0 58.9h0M49.7 34.3h0M52.0 50.2h0M75.4 78.4h0M87.6 34.5h0M63.9 79.3h0M51.9 52.3h0M73.9 41.2h0M91.8 32.6h0M65.0 57.6h0M52.0 41.6h0M80.4 35.6h0M82.4 34.4h0M58.1 41.0h0M62.5 74.6h0M61.5 81.7h0M57.2 79.1h0M67.1 60.7h0M55.5 52.3h0M75.3 37.9h0M58.9 39.8h0M48.3 52.6h0M70.9 32.2h0M82.6 65.0h0M55.7 44.1h0M51.6 61.8h0M45.2 35.0h0M85.1 42.8h0M77.2 74.6h0M49.0 47.6h0M85.8 60.2h0M82.5 47.1h0M47.3 55.2h0M42.9 42.4h0M85.7 59.4h0M49.8 70.8h0M78.8 68.3h0M62.9 42.5h0M74.6 31.2h0M63.9 70.3h0M45.7 48.0h0M81.5 41.7h0M60.6 69.8h0M44.2 34.5h0M73.8 78.3h0M70.2 33.2h0M79.5 32.3h0M63.8 39.8h0M87.5 33.1h0M70.6 58.2h0M75.5 43.2h0M74.6 51.2h0M80.8 50.3h0M85.2 45.6h0M61.2 41.0h0M73.2 35.7h0M69.8 32.2h0M42.5 38.6h0M49.1 34.4h0M58.5 68.7h0M65.9 88.9h0M80.6 76.7h0M49.2 72.1h0M60.3 40.9h0M68.0 31.8h0M73.5 74.3h0M49.6 41.2h0M63.8 69.5h0M60.0 82.7h0M42.5 38.6h0M59.1 49.3h0M53.0 45.6h0M68.2 86.6h0M68.6 67.5h0M48.6 67.7h0M50.2 56.7h0M86.1 49.8h0M54.0 43.6h0M57.1 68.3h0M83.7 31.8h0M56.0 33.9h0M45.9 46.6h0M49.3 48.7h0M91.5 34.9h0M50.6 61.3h0M60.3 51.4h0M44.6 41.4h0M81.5 72.1h0M78.6 39.5h0M69.3 38.8h0M64.6 74.5h0M80.8 69.9h0M73.0 81.1h0M64.6 60.8h0M85.3 61.8h0M57.2 32.4h0M53.8 33.2h0M85.8 49.2h0M51.7 74.2h0M72.4 32.4h0M47.4 65.7h0M48.0 55.7h0M70.4 83.0h0M63.8 41.7h0M53.6 68.0h0M54.5 83.2h0M45.7 54.5h0M53.4 79.1h0M91.9 32.3h0M54.4 75.4h0M48.3 57.9h0M51.1 47.9h0M53.6 34.2h0M59.5 36.9h0M82.9 44.3h0M72.3 59.3h0M49.5 40.6h0M68.2 32.5h0M89.7 33.3h0M79.5 44.2h0M46.8 55.2h0M59.5 77.1h0M58.9 44.8h0M60.2 48.4h0M70.0 85.5h0M82.7 74.5h0M77.8 63.4h0M79.3 45.6h0M87.6 34.9h0M81.2 59.5h0M71.3 55.9h0M73.1 72.8h0M62.8 45.6h0M76.6 64.5h0M85.3 46.6h0M74.8 70.2h0M67.2 47.7h0M77.2 70.2h0M78.1 52.5h0M79.3 50.2h0M69.9 46.8h0M59.2 53.0h0M67.2 46.5h0M39.7 33.7h0M74.4 69.9h0M45.5 38.8h0M48.2 37.8h0M63.7 84.0h0M72.3 91.1h0M92.5 32.3h0M75.0 60.0h0M51.5 56.7h0M42.8 46.0h0M57.2 37.8h0M78.8 74.2h0M88.3 31.1h0M76.0 57.4h0M64.7 60.9h0M59.5 69.4h0M42.4 43.5h0M88.6 40.1h0M74.0 68.0h0M52.7 55.5h0M51.3 67.9h0M64.8 31.7h0M73.2 83.1h0M76.8 59.2h0M74.5 42.8h0M45.7 49.1h0M54.9 67.6h0M48.0 43.3h0M77.0 58.5h0M62.7 34.1h0M79.4 32.1h0M78.2 39.1h0M82.1 39.9h0M69.4 58.8h0M82.0 54.8h0M66.0 46.8h0M88.9 50.8h0M58.6 51.9h0M57.2 69.2h0M40.5 38.6h0M44.9 35.6h0M79.9 47.4h0M78.1 58.4h0M44.9 63.6h0M48.1 59.9h0M52.1 77.9h0M58.9 69.7h0M59.9 58.5h0M40.1 42.5h0M57.9 53.9h0M56.0 72.2h0M69.0 69.1h0M67.5 47.5h0M79.9 32.2h0M63.9 74.5h0M77.5 84.2h0M72.2 58.8h0M48.0 43.4h0M50.7 55.5h0M71.2 70.8h0M41.4 46.0h0M49.1 51.5h0M88.8 37.6h0M65.0 72.7h0M66.4 47.6h0M71.3 61.3h0M74.0 61.7h0M58.8 59.5h0M53.6 51.4h0M58.9 73.4h0M69.5 72.6h0M82.3 67.7h0M79.0 59.2h0M62.7 40.5h0M83.0 58.6h0M81.6 42.9h0M80.7 58.7h0M72.2 69.1h0M65.1 66.0h0M48.5 34.3h0M68.7 78.0h0M74.0 31.3h0M62.1 36.7h0M73.9 42.1h0M81.1 62.8h0M52.0 70.4h0M69.4 37.6h0M77.9 32.1h0M48.5 59.7h0M64.4 51.7h0M81.3 38.0h0M83.1 42.4h0M63.8 40.3h0M78.2 36.3h0M79.1 36.4h0M66.4 46.8h0M71.2 54.0h0M56.7 52.1h0M74.6 38.1h0M78.2 83.4h0M68.0 34.8h0M62.8 45.9h0M58.5 54.0h0M86.2 54.6h0M70.3 57.0h0M70.3 46.0h0M69.6 51.9h0M49.0 60.7h0M60.1 84.1h0M73.9 51.1h0M85.0 47.1h0M44.2 37.3h0M85.3 31.9h0M49.4 68.6h0M66.4 63.7h0M79.8 66.9h0M45.6 35.5h0M61.4 52.1h0M81.6 32.6h0M49.0 64.8h0M56.9 45.9h0M86.4 41.3h0M51.6 67.2h0M62.4 56.0h0M85.2 62.3h0M64.1 60.4h0M82.0 40.8h0M82.8 64.2h0M69.5 38.6h0M72.6 66.4h0M49.1 54.8h0M46.8 64.3h0M70.0 65.4h0M80.5 47.5h0M67.3 68.6h0M61.6 37.1h0M59.4 72.3h0M43.8 59.7h0M67.1 85.1h0M56.1 79.4h0M80.1 62.3h0M74.4 58.0h0M55.4 76.6h0M52.6 39.1h0M73.1 57.6h0M54.8 64.0h0M91.3 38.0h0M59.0 61.4h0M54.8 78.4h0M88.5 33.5h0M89.2 40.0h0M69.7 47.5h0M63.3 81.1h0M63.5 74.0h0M74.5 46.9h0M67.6 61.6h0M90.6 34.1h0M63.2 72.4h0M49.0 50.6h0M64.8 52.7h0M60.4 44.5h0M56.0 45.2h0M65.4 35.7h0M63.8 92.2h0M56.3 57.8h0M67.1 48.5h0M57.0 48.8h0M81.6 73.8h0M41.8 50.9h0M66.7 38.9h0M71.4 85.8h0M73.4 75.7h0M70.9 72.8h0M76.8 61.6h0M44.2 37.5h0M59.6 68.3h0M56.7 37.7h0M58.6 32.7h0M87.1 58.5h0M62.0 74.6h0M72.1 53.3h0M81.6 56.7h0M69.6 67.1h0M65.2 90.8h0M48.8 38.6h0M55.5 59.4h0M66.2 80.2h0M65.9 76.0h0M55.7 69.0h0M81.3 39.9h0M76.3 72.3h0M45.3 62.4h0M84.4 47.0h0M60.7 41.9h0M55.2 40.3h0M46.9 59.7h0M81.4 54.3h0M75.3 68.2h0M66.0 54.6h0M62.9 53.6h0M68.7 63.6h0M60.5 34.4h0M60.8 45.1h0M65.2 57.2h0M52.8 62.1h0M67.5 58.9h0M63.2 46.6h0M75.2 40.7h0M62.6 31.4h0M45.0 50.7h0M52.4 55.6h0M54.2 42.3h0M69.4 42.5h0M54.3 49.3h0M65.7 35.6h0M67.7 70.7h0M79.9 41.8h0M83.4 40.2h0M77.0 37.6h0M88.7 35.7h0M82.1 43.2h0M53.7 40.2h0M66.2 78.5h0M48.0 65.9h0M82.1 37.3h0M60.0 86.5h0M66.1 55.2h0M59.3 41.9h0M45.1 33.0h0M49.9 70.8h0M65.3 32.0h0M63.4 64.4h0M78.9 47.3h0M69.0 38.4h0M41.8 47.9h0M58.0 48.9h0M50.0 36.6h0M73.9 87.9h0M58.1 45.0h0M79.4 65.9h0M59.1 34.7h0M68.2 90.9h0M78.7 87.9h0M54.3 47.8h0M52.1 60.3h0M73.6 54.5h0M81.3 54.1h0M73.9 49.1h0M48.0 38.5h0M46.2 42.8h0M65.9 55.9h0M72.3 39.3h0M46.9 37.7h0M56.2 33.2h0M49.1 71.6h0M61.7 45.9h0M62.1 58.0h0" stroke="#0000ff" stroke-width="1.9" stroke-linecap="round" fill="none"/>
<path d="M72.1 30.3h0M90.7 35.3h0M78.9 30.6h0M63.0 30.3h0M90.7 33.8h0M42.6 35.2h0M63.2 30.1h0M69.3 33.8h0M36.8 30.5h0M89.1 32.4h0M80.4 32.9h0M44.0 34.5h0M71.8 30.1h0M86.5 30.1h0M48.1 31.8h0M86.6 38.3h0M52.8 33.6h0M75.3 30.9h0M47.9 34.3h0M92.1 31.7h0M87.8 30.9h0M45.6 32.7h0M44.5 32.3h0M71.0 31.0h0M36.2 31.2h0M54.0 32.4h0M83.5 32.6h0M63.9 30.3h0M76.9 37.6h0M37.3 32.9h0M79.5 30.3h0M81.7 30.5h0M57.2 30.4h0M38.7 30.2h0M46.5 31.9h0M79.8 30.6h0M89.9 32.6h0M56.6 31.0h0M66.4 30.2h0M79.4 31.4h0M82.2 30.5h0M90.9 30.6h0M41.3 32.2h0M89.2 33.5h0M55.7 33.3h0M54.1 31.7h0M54.4 30.5h0M44.6 31.1h0M76.0 31.8h0M38.8 30.0h0M93.2 33.0h0M49.8 30.6h0M70.4 31.5h0M60.5 32.9h0M39.2 30.7h0M64.6 30.4h0M84.6 33.3h0M91.1 33.6h0M72.6 30.3h0M61.2 31.4h0M44.7 31.4h0M62.3 32.1h0M94.0 34.9h0M62.3 36.6h0M64.3 30.4h0M52.9 33.4h0M59.4 31.8h0M93.3 32.3h0M91.7 32.5h0M55.6 32.5h0" stroke="#000" stroke-width="1.8" stroke-linecap="round" fill="none"/>
<rect x="0" y="0" width="103.9" height="103.1" fill="none" stroke="#2a2a2a" stroke-width="0.9"/>
<path d="M11.2 103.1v-1.2M11.2 0v1.2M38.5 103.1v-1.2M38.5 0v1.2M65.8 103.1v-1.2M65.8 0v1.2M93.1 103.1v-1.2M93.1 0v1.2M0 84.4h1.2M103.9 84.4h-1.2M0 66.0h1.2M103.9 66.0h-1.2M0 47.5h1.2M103.9 47.5h-1.2M0 29.1h1.2M103.9 29.1h-1.2M0 10.6h1.2M103.9 10.6h-1.2" stroke="#444" stroke-width="0.6"/>
</g>
<text class="b" x="49" y="279.2" font-size="7.9" text-anchor="end" textLength="13.2" lengthAdjust="spacingAndGlyphs">300</text>
<text class="b" x="49" y="260.75" font-size="7.9" text-anchor="end" textLength="13.2" lengthAdjust="spacingAndGlyphs">305</text>
<text class="b" x="49" y="242.3" font-size="7.9" text-anchor="end" textLength="13.2" lengthAdjust="spacingAndGlyphs">310</text>
<text class="b" x="49" y="223.85" font-size="7.9" text-anchor="end" textLength="13.2" lengthAdjust="spacingAndGlyphs">315</text>
<text class="b" x="49" y="205.4" font-size="7.9" text-anchor="end" textLength="13.2" lengthAdjust="spacingAndGlyphs">320</text>
<text class="b" x="49" y="186.95" font-size="7.9" text-anchor="end" textLength="13.2" lengthAdjust="spacingAndGlyphs">325</text>
<text class="b" x="63.4" y="286.8" font-size="7.9" text-anchor="middle" textLength="11.1" lengthAdjust="spacingAndGlyphs">0.2</text>
<text class="b" x="90.7" y="286.8" font-size="7.9" text-anchor="middle" textLength="15.3" lengthAdjust="spacingAndGlyphs">0.25</text>
<text class="b" x="118" y="286.8" font-size="7.9" text-anchor="middle" textLength="11.1" lengthAdjust="spacingAndGlyphs">0.3</text>
<text class="b" x="145.3" y="286.8" font-size="7.9" text-anchor="middle" textLength="15.3" lengthAdjust="spacingAndGlyphs">0.35</text>
<text class="b" x="104.2" y="296.9" font-size="8" text-anchor="middle">albedo</text>
<text class="b" transform="translate(32.4,224.9) rotate(-90)" font-size="8" text-anchor="middle">Ts (K)</text>
<g transform="translate(231.9,173.1)">
<path d="M0.6 93.9H103.6" stroke="#3fe3ea" stroke-width="1.1" stroke-dasharray="3.6 2.7" fill="none"/>
<path d="M0.6 98.9H103.6" stroke="#4040e4" stroke-width="1.15" stroke-dasharray="3.6 2.7" fill="none"/>
<path d="M17.0 23.2 21.9 18.2 28.5 14.1 38.0 10.5 49.6 8.6 52.1 6.1 54.3 5.0 59.9 6.5 67.7 8.6 81.0 12.2 89.7 17.7 93.5 24.1 95.4 30.5 86.8 32.3 77.2 35.1 58.1 36.9 38.0 35.9 28.5 34.2 17.0 29.6Z" fill="#000" stroke="#000" stroke-width="1.2" stroke-linejoin="round"/>
<path d="M88.5 18.1h0M90.4 20.9h0M45.2 9.0h0M47.7 36.8h0M30.5 12.2h0M24.7 17.6h0M71.8 35.2h0M18.6 21.2h0M47.4 9.2h0M89.9 21.3h0M94.5 29.1h0M70.0 35.9h0M18.7 23.6h0M62.2 37.1h0M65.0 8.2h0M83.4 12.7h0M18.1 30.0h0M51.4 7.1h0M16.7 27.0h0M76.8 34.5h0M28.3 15.7h0M53.9 37.1h0M33.3 13.4h0M44.3 8.9h0M47.4 8.5h0M74.8 36.0h0M50.6 9.6h0M44.6 38.0h0M49.3 8.6h0M76.6 37.0h0M50.9 8.7h0M70.6 9.7h0M29.4 13.2h0M80.9 34.6h0M16.7 30.1h0M34.0 35.6h0M26.7 32.7h0M47.2 6.8h0M50.3 8.2h0M80.8 34.2h0M22.5 18.0h0M63.0 38.1h0M82.2 34.1h0M60.8 36.9h0M89.6 30.9h0M62.6 6.8h0M19.0 22.0h0M25.6 16.9h0M87.2 33.0h0M30.8 34.2h0M65.1 35.9h0M23.4 18.9h0M63.9 36.3h0M74.0 35.4h0M69.3 8.9h0M91.1 29.5h0M56.7 35.3h0M24.5 34.0h0M28.4 33.2h0M48.3 35.5h0M76.6 35.8h0M81.4 34.8h0M18.0 23.4h0M81.0 11.1h0M89.2 17.0h0M56.0 36.9h0M93.2 24.7h0M92.6 24.7h0M58.6 6.0h0M68.0 36.5h0M26.4 32.7h0M28.7 35.5h0M47.4 9.4h0M26.1 32.4h0M84.5 33.4h0M95.0 24.4h0M62.6 36.3h0M42.9 9.8h0M50.0 7.7h0M93.2 27.1h0M16.6 26.6h0M21.1 18.9h0M61.6 36.1h0M47.8 36.4h0M92.3 19.5h0M54.8 5.3h0M75.5 35.6h0M72.8 33.5h0M67.0 37.0h0M46.4 9.3h0M61.6 37.2h0M73.2 9.2h0M79.3 33.6h0M47.6 36.2h0M22.3 31.3h0M89.1 17.6h0M77.3 10.9h0M47.3 36.0h0M73.1 36.9h0M41.6 35.0h0M53.0 5.7h0M15.4 26.9h0M70.7 8.0h0M74.9 10.8h0M90.6 30.5h0M20.7 19.2h0M46.2 37.0h0M48.3 36.8h0M94.8 27.7h0M66.8 35.8h0M20.1 31.0h0M94.3 32.1h0M73.2 35.1h0M88.5 32.7h0M38.1 35.5h0M37.7 35.5h0M86.8 33.5h0M94.2 27.0h0M16.1 28.7h0M44.6 35.9h0M66.5 36.6h0M86.9 14.1h0M59.7 6.7h0M88.8 14.8h0M92.4 23.2h0M79.1 34.5h0M50.1 36.6h0M52.7 4.9h0M75.0 10.4h0M59.1 37.6h0M57.3 6.8h0M87.8 17.6h0M94.6 31.3h0M75.6 34.3h0M35.2 34.5h0M53.7 3.6h0M27.1 34.5h0M24.7 35.6h0M30.5 35.0h0M59.1 37.2h0M38.6 36.8h0M34.9 12.0h0M19.6 22.2h0M26.4 33.1h0M94.6 26.5h0M66.6 36.4h0M33.8 12.8h0M94.5 28.9h0M46.9 10.8h0M17.3 24.8h0M26.4 15.6h0M51.7 37.5h0M93.9 29.7h0M18.1 19.8h0M44.4 9.6h0M83.8 14.4h0M96.8 28.9h0M45.0 34.6h0M75.6 35.8h0M96.1 27.1h0M59.5 5.3h0M50.1 35.6h0M29.5 33.2h0M51.8 35.7h0M60.6 37.1h0M92.8 21.5h0M74.5 34.9h0M19.9 30.2h0M70.2 35.2h0M82.5 12.3h0M63.9 33.8h0M18.8 19.2h0M57.8 6.2h0M48.1 9.1h0M57.9 5.1h0M95.8 27.7h0M15.9 22.8h0M26.4 13.7h0M23.3 17.3h0M92.7 22.8h0M81.9 35.1h0M84.8 15.2h0M76.8 12.4h0M88.4 33.3h0M65.6 7.9h0M23.3 19.0h0M82.5 11.5h0M25.8 16.9h0M28.0 14.3h0M93.4 22.7h0M96.6 30.0h0M93.5 21.1h0M82.1 34.8h0M90.8 19.7h0M95.1 31.4h0M69.0 36.0h0M83.5 33.6h0M96.2 30.8h0M57.7 37.3h0M29.4 33.1h0M75.8 12.2h0M86.8 31.4h0M54.5 37.3h0M18.6 25.9h0M22.7 18.4h0M86.4 15.5h0M92.4 31.4h0M67.0 35.5h0M77.8 11.6h0M73.2 8.4h0M28.6 15.9h0M77.7 34.4h0M86.5 17.4h0M76.1 9.1h0M68.6 8.8h0M23.6 32.9h0M31.4 12.8h0M27.8 13.6h0M66.1 37.6h0M28.0 15.9h0M28.0 15.4h0M64.9 36.7h0M75.6 9.9h0M34.3 10.6h0M26.6 32.0h0M88.9 16.3h0M67.0 10.1h0M28.8 35.1h0M76.5 11.8h0M81.3 13.3h0M44.7 35.9h0M89.0 33.4h0M31.2 34.9h0M93.9 29.0h0M16.0 28.0h0M24.3 15.3h0M30.2 14.6h0M29.1 34.6h0M39.1 9.0h0M56.3 7.0h0M95.4 29.4h0M73.5 9.6h0M92.5 25.1h0M63.2 36.0h0M40.2 34.5h0M45.7 34.6h0M17.4 29.2h0M62.4 35.6h0M86.9 16.5h0M16.6 25.2h0M49.2 8.7h0M17.7 29.0h0M33.2 10.7h0M46.4 9.6h0M84.8 32.8h0M33.3 12.9h0M54.0 3.8h0M52.7 6.6h0M44.3 8.7h0M91.3 30.5h0M60.2 4.9h0M70.8 9.4h0M93.3 23.9h0M20.2 29.9h0M93.8 30.6h0M16.6 24.4h0M17.5 21.9h0M46.1 35.1h0M42.0 10.6h0M59.2 5.4h0M76.0 35.3h0M94.2 32.2h0M17.9 21.4h0M42.4 36.5h0M61.8 37.2h0M93.1 21.1h0M34.9 37.0h0M85.8 14.8h0M41.3 37.2h0M95.8 32.1h0M67.5 8.9h0M65.2 8.6h0M75.9 10.5h0M79.7 13.4h0M40.3 35.9h0M78.9 11.0h0M87.9 32.1h0M17.2 24.1h0M78.8 35.4h0M92.1 31.9h0M81.3 12.0h0M49.1 7.9h0M19.0 30.4h0M71.3 9.2h0M39.7 11.1h0M62.8 37.3h0M38.8 35.8h0M53.1 6.1h0M85.7 14.9h0M85.7 15.9h0M52.2 35.8h0M70.9 9.6h0M82.2 11.0h0M47.0 35.3h0M18.9 21.5h0M73.5 36.1h0M95.1 26.6h0M80.6 35.6h0M26.6 33.5h0M95.1 27.7h0M15.6 25.5h0M40.1 38.0h0M77.2 35.5h0M54.7 4.8h0M71.5 9.0h0M93.1 22.2h0M38.6 10.0h0M88.0 31.7h0M28.0 33.2h0M82.7 35.0h0M64.1 7.1h0M86.7 31.9h0M91.1 31.6h0M47.7 9.1h0M70.9 36.9h0M56.2 37.6h0M45.7 36.3h0M92.4 22.0h0M87.6 33.2h0M58.5 6.0h0M75.7 35.7h0M40.4 9.9h0M91.0 22.3h0M65.9 34.7h0M95.2 24.0h0M35.1 36.1h0M88.6 31.5h0M93.2 31.4h0M70.6 9.5h0M27.7 32.7h0M54.1 37.8h0M27.4 15.9h0M94.1 27.2h0M64.2 36.1h0M66.2 8.7h0M28.5 14.1h0M70.7 35.1h0M45.1 37.7h0M87.9 31.9h0M48.0 37.1h0M20.0 30.5h0M65.3 8.3h0M29.1 33.4h0M75.2 10.6h0M21.5 18.7h0M96.4 25.3h0M92.5 22.8h0M24.5 32.1h0M38.3 36.8h0M46.3 7.4h0M49.1 8.2h0M31.8 34.8h0M58.5 38.5h0M33.2 34.6h0M65.5 35.9h0M28.2 15.1h0M62.2 37.0h0M53.5 3.6h0M77.3 9.9h0M83.6 34.0h0M23.0 31.5h0M76.9 36.7h0M87.9 17.1h0M22.3 17.1h0M57.1 5.4h0M63.0 6.7h0M61.4 6.9h0M28.6 34.1h0M91.3 19.4h0M22.4 32.0h0M89.0 31.1h0M71.7 34.6h0M95.3 26.4h0M95.8 30.0h0M50.1 37.5h0M52.8 5.6h0M48.4 35.8h0M93.9 25.8h0M95.4 26.6h0M59.6 35.8h0M45.7 9.4h0M93.1 26.3h0M59.2 6.0h0M25.6 33.0h0M47.4 36.9h0M68.3 8.8h0M77.4 34.7h0M85.2 34.1h0M44.1 10.0h0M66.4 34.8h0M24.6 16.5h0M51.6 6.7h0M93.9 22.1h0M37.8 10.7h0M22.1 20.0h0M38.1 10.8h0M86.8 15.8h0M17.1 22.4h0M53.4 6.6h0M53.3 5.8h0M75.5 13.2h0M80.8 34.6h0M73.7 35.8h0M65.6 35.3h0M29.4 34.7h0M36.9 37.0h0M50.9 7.4h0M91.0 32.0h0M50.4 7.2h0M91.3 18.0h0M34.7 36.1h0M26.8 14.1h0M61.7 6.9h0M57.4 7.6h0M61.1 37.4h0M41.6 9.7h0M51.7 34.6h0M19.2 21.3h0M29.4 13.4h0M50.8 36.5h0M81.9 13.0h0M40.2 10.0h0M66.7 9.1h0M37.5 9.9h0M59.0 36.3h0M49.6 9.7h0M82.3 15.0h0M52.6 6.5h0M51.5 6.9h0M75.0 34.5h0M16.6 28.9h0M25.0 34.0h0M71.7 35.3h0M53.9 4.8h0M86.8 16.2h0M79.7 12.9h0M62.5 7.9h0M93.2 23.6h0M55.7 5.6h0M86.9 16.5h0M62.3 35.9h0M19.2 20.7h0M25.4 16.0h0M93.1 25.3h0M70.1 9.4h0M74.7 9.5h0M58.6 5.8h0M90.3 20.0h0M74.6 10.0h0M50.1 35.6h0M83.9 14.8h0M41.1 35.4h0M26.7 33.4h0M94.3 28.6h0M17.3 27.8h0M52.9 5.0h0M16.2 22.8h0M53.7 5.2h0M90.1 30.7h0M41.0 35.9h0M74.3 9.7h0M60.6 35.3h0M17.3 29.2h0M76.9 34.9h0M77.4 12.8h0M93.5 31.6h0M70.4 10.2h0M36.3 11.4h0M31.9 12.3h0M90.5 17.7h0M43.7 8.4h0M24.1 17.8h0M45.3 37.2h0M57.0 5.0h0M71.6 7.9h0M39.8 35.7h0M61.4 35.3h0M46.2 36.9h0M69.5 36.4h0M16.9 20.3h0M17.9 29.6h0M85.2 14.6h0M22.5 31.7h0M61.7 36.7h0M62.8 4.6h0M34.9 11.8h0M91.0 31.4h0M67.7 6.8h0M61.8 8.1h0M53.0 36.5h0M63.4 35.8h0M39.8 10.6h0M22.2 32.7h0M35.0 11.7h0M88.5 33.1h0M61.2 7.9h0M77.1 11.4h0M26.4 15.2h0M28.4 15.3h0M17.5 25.4h0M92.0 24.7h0M83.3 13.4h0M71.2 35.1h0M23.2 29.2h0M90.2 16.3h0M45.4 9.4h0M35.6 12.1h0M53.8 37.7h0M18.9 24.0h0M16.8 21.5h0M47.1 35.5h0M46.0 34.9h0M18.8 27.1h0M83.0 12.9h0M27.4 33.5h0M52.3 6.2h0M72.0 34.8h0M74.6 35.9h0M26.8 33.9h0M71.6 9.1h0M54.8 36.4h0M45.5 9.6h0M74.3 10.5h0M93.7 27.5h0M93.4 30.9h0M30.7 36.1h0M34.0 12.3h0M17.5 30.6h0M63.1 37.1h0M68.8 35.7h0M44.5 11.3h0M39.3 9.5h0M74.3 36.6h0M30.8 33.5h0M94.1 27.2h0M38.6 35.1h0M69.4 36.2h0M52.5 4.7h0M96.2 29.5h0M88.9 17.3h0M23.1 32.6h0M16.9 23.7h0M58.2 36.8h0M35.6 37.1h0M93.9 26.7h0M74.6 34.8h0M43.4 36.1h0M26.9 14.6h0M57.3 4.8h0M93.4 30.6h0M61.8 6.8h0M89.9 30.7h0M55.9 3.6h0M49.2 35.9h0M46.9 37.0h0M32.5 13.1h0M34.3 34.8h0M44.5 10.3h0M79.1 34.4h0M17.3 26.6h0M31.9 34.2h0M69.5 35.9h0M72.0 11.1h0M60.7 6.2h0M46.7 10.2h0M92.0 21.4h0M20.3 30.6h0M49.9 8.7h0M56.9 37.4h0M84.9 15.2h0M87.0 14.9h0M88.7 19.5h0M73.5 9.6h0M85.0 34.5h0M64.0 6.4h0M91.5 18.9h0M55.3 36.2h0M25.2 16.1h0M89.8 17.1h0M64.5 35.7h0M85.9 15.9h0M56.4 6.2h0M42.8 35.2h0M92.8 32.5h0M29.1 14.3h0M59.3 36.0h0M28.4 34.0h0M75.2 35.4h0M91.0 22.0h0M83.2 33.6h0M15.7 25.6h0M72.0 32.5h0M25.3 15.7h0M72.4 38.3h0M50.1 8.0h0M82.0 12.5h0M42.5 8.6h0M56.3 38.4h0M58.4 36.4h0M93.7 21.6h0M20.5 30.8h0M73.4 10.2h0M33.7 11.4h0M95.4 28.7h0M37.6 11.6h0M64.6 7.1h0M85.6 14.9h0M89.4 18.4h0M38.0 36.7h0M42.2 9.8h0M82.5 12.8h0M17.0 29.7h0M41.5 8.7h0M62.2 37.5h0M21.2 20.0h0M15.9 28.0h0M22.7 17.6h0M60.3 7.5h0M69.3 9.5h0M31.3 34.1h0M95.0 26.2h0M65.4 7.3h0M76.5 11.7h0M74.9 11.2h0M23.7 16.9h0M93.6 30.5h0M52.9 6.5h0M67.5 8.8h0M54.8 36.7h0M84.0 14.0h0M83.8 33.2h0M81.6 34.2h0M79.5 33.8h0M92.6 26.0h0M24.7 17.2h0M60.6 5.8h0M34.4 35.8h0M69.8 37.3h0M39.7 36.7h0M42.6 34.9h0M24.7 16.2h0M75.5 34.4h0M77.0 35.6h0M54.3 36.6h0M56.0 37.5h0M17.3 26.0h0M47.8 37.0h0M78.3 12.0h0M34.0 13.1h0M28.2 16.2h0M69.6 35.6h0M33.9 13.8h0M89.3 31.6h0M83.4 14.4h0M36.3 10.7h0M20.2 19.5h0M69.5 35.4h0M64.6 37.2h0M32.5 12.0h0M84.5 33.8h0M42.0 10.7h0M94.3 30.8h0M37.4 36.9h0M93.8 23.2h0M64.4 37.0h0M57.8 36.5h0M26.2 15.0h0M59.8 37.1h0M90.8 31.6h0M90.1 19.5h0M54.9 37.2h0M38.6 36.1h0M86.6 31.9h0M41.9 9.6h0M46.0 37.2h0M52.0 7.6h0M81.2 35.3h0M86.5 31.7h0M64.4 37.8h0M60.1 38.4h0M59.0 37.5h0M18.9 20.4h0M64.4 8.2h0M93.3 24.7h0M59.8 6.9h0M43.1 8.4h0M78.7 33.9h0M92.2 29.3h0M50.3 36.8h0M20.7 32.7h0M36.8 40.7h0M72.5 37.3h0M87.9 40.9h0M45.1 36.5h0M36.7 38.2h0M87.7 34.7h0M67.3 46.8h0M27.3 37.8h0M60.7 48.5h0M42.3 47.4h0M82.8 42.1h0M24.9 35.3h0M22.1 46.0h0M69.3 42.8h0M81.6 36.2h0M25.6 38.9h0M57.9 39.2h0M45.5 42.4h0M55.9 39.3h0M50.0 44.6h0M55.0 42.1h0M60.1 39.5h0M90.0 36.2h0M41.6 37.2h0M44.2 40.1h0M90.3 45.8h0M88.4 43.5h0M87.3 38.8h0M21.5 39.1h0M69.4 36.5h0M64.1 46.0h0M26.2 40.8h0M57.4 37.8h0M28.0 33.1h0M82.6 35.8h0M22.3 32.2h0M79.7 37.5h0M61.8 42.6h0M74.5 35.6h0M24.9 32.5h0M77.2 45.6h0M49.3 38.0h0M44.2 36.8h0M75.5 36.3h0M38.9 41.6h0M44.1 39.7h0M68.6 39.9h0M83.5 35.6h0M32.7 37.7h0M54.5 39.9h0M76.4 37.4h0M67.1 39.7h0M38.7 40.0h0M83.1 35.1h0M33.3 35.9h0M43.7 40.8h0M72.3 40.2h0M58.9 45.1h0M25.7 32.7h0M35.7 39.7h0M49.8 41.7h0M45.7 36.6h0M85.6 39.6h0M29.8 33.3h0M76.9 36.3h0M76.9 40.2h0M47.3 38.1h0M73.4 42.8h0M54.3 36.9h0M55.9 37.3h0M47.4 47.5h0M30.3 39.8h0M34.8 45.6h0M87.1 43.7h0M44.6 39.0h0M71.4 37.1h0M88.1 34.8h0M68.8 38.8h0M83.5 36.5h0M52.7 49.8h0M46.8 39.5h0M87.6 36.9h0M25.2 34.3h0M23.5 36.7h0M42.1 37.2h0M57.9 39.0h0M58.9 45.0h0M57.9 40.3h0M88.2 37.2h0M25.5 34.3h0M42.3 36.9h0M56.3 49.0h0M31.5 38.6h0M41.2 42.3h0M77.1 41.3h0M63.4 37.4h0M80.9 38.3h0M88.0 34.6h0M90.4 42.6h0M48.8 37.8h0M23.7 33.9h0M73.0 38.6h0M35.2 39.4h0M77.5 35.7h0M55.9 40.0h0M33.1 40.4h0M21.1 32.2h0M38.8 37.4h0M64.6 40.5h0M64.9 40.8h0M42.8 43.2h0M61.8 45.3h0M50.0 42.4h0M43.9 37.7h0M85.8 35.5h0M81.4 47.6h0M83.5 37.9h0M90.9 38.9h0M40.8 40.2h0M36.9 43.4h0M62.0 43.7h0M40.5 47.1h0M27.0 34.5h0M60.3 41.1h0M55.8 42.3h0M47.3 39.4h0M20.1 35.8h0M61.3 36.5h0M65.5 38.5h0M55.8 37.1h0M54.7 45.7h0M40.2 47.3h0M51.9 45.0h0M36.9 40.7h0M79.7 36.2h0M85.0 38.3h0M56.3 42.8h0M88.1 36.9h0M55.3 41.0h0M80.6 35.4h0M56.2 38.5h0M35.5 38.6h0M80.1 40.0h0M86.0 48.5h0M69.3 38.5h0M78.3 43.5h0M77.7 39.7h0M41.8 45.1h0M37.6 36.8h0M56.9 37.1h0M44.7 38.2h0M85.6 41.5h0M87.1 35.2h0M68.0 37.7h0M27.9 43.8h0M42.4 37.4h0M33.4 38.5h0M90.9 42.0h0M64.8 42.5h0M24.2 38.4h0M82.5 35.8h0M82.9 44.2h0M61.0 43.8h0M55.4 39.2h0M47.7 37.1h0M31.6 36.1h0M77.3 36.3h0M75.8 43.4h0M70.0 40.7h0M39.6 36.4h0M33.5 40.4h0M87.8 40.5h0M43.8 47.1h0M40.9 41.4h0M88.5 44.0h0M75.7 45.0h0M44.0 37.4h0M55.1 43.1h0M22.5 36.3h0M54.1 41.7h0M73.6 35.6h0M61.8 40.1h0M37.4 36.7h0M23.8 33.9h0M45.6 49.5h0M66.1 38.5h0M49.8 39.8h0M54.1 38.7h0M89.1 37.9h0M69.4 40.1h0M74.9 42.9h0M87.6 36.6h0M85.0 34.3h0M91.8 40.0h0M58.0 40.0h0M24.1 40.8h0M30.8 39.2h0M71.8 37.2h0M72.3 39.7h0M66.6 44.7h0M70.8 41.5h0M27.7 34.2h0M54.2 47.6h0M24.0 35.4h0M25.1 33.3h0M51.5 44.9h0M29.2 39.3h0M73.6 38.9h0M49.0 41.3h0M64.3 43.0h0M23.3 32.7h0M23.9 34.9h0M54.1 38.6h0M48.2 36.6h0M53.7 47.2h0M81.4 43.2h0M55.0 40.6h0M90.8 35.8h0M28.6 34.1h0M82.3 38.3h0M56.6 41.2h0M83.9 37.4h0M38.5 38.0h0M52.3 44.8h0M46.3 41.9h0M42.7 38.5h0M64.9 40.2h0M75.6 37.9h0M52.8 47.6h0M52.7 38.4h0M47.1 48.4h0M76.6 44.4h0M48.9 40.7h0M41.3 44.0h0M72.1 43.4h0M68.2 38.6h0M51.3 38.7h0M75.5 38.7h0M58.8 41.5h0M71.2 36.5h0M21.2 39.8h0M38.7 40.6h0M64.2 37.3h0M91.5 38.7h0M34.2 37.1h0M62.0 37.4h0M79.1 37.9h0M62.5 41.0h0M71.3 36.5h0M61.7 45.5h0M38.1 37.8h0M59.2 43.2h0M91.1 39.6h0M43.4 43.4h0M72.3 40.0h0M60.8 37.8h0M58.0 39.8h0M65.0 36.4h0M84.3 36.7h0M78.0 39.1h0M50.2 41.0h0M53.1 42.4h0M58.1 43.6h0M88.7 34.1h0M45.4 36.4h0M41.6 38.2h0M69.8 39.7h0M47.4 46.0h0M39.7 40.2h0M21.7 37.1h0M47.0 38.1h0M42.4 38.7h0M82.8 38.4h0M32.8 37.0h0M28.5 41.2h0M73.2 40.7h0M39.0 44.3h0M22.0 32.4h0M79.0 37.5h0M70.6 38.8h0M70.3 41.8h0M35.7 45.2h0M54.1 38.8h0M78.5 40.6h0M61.0 48.9h0M36.1 45.9h0M36.0 37.9h0M89.4 35.7h0M44.6 41.7h0M79.6 37.2h0M85.9 35.6h0M45.6 39.3h0M70.9 38.3h0M82.8 45.7h0M36.3 38.2h0M71.7 38.8h0M23.4 32.7h0M80.6 36.8h0M59.1 38.6h0M23.2 33.2h0M45.4 43.7h0M82.1 35.4h0M24.5 33.1h0M70.2 36.6h0M32.7 36.4h0M70.1 44.0h0M43.2 40.6h0M60.4 37.4h0M45.6 38.9h0M41.0 39.2h0M38.8 40.6h0M62.6 36.8h0M39.3 44.0h0M53.8 43.4h0M56.8 40.8h0M74.3 46.2h0M64.8 40.8h0M56.0 43.6h0M49.7 41.5h0M53.7 40.6h0M58.1 46.0h0M84.3 36.4h0M36.1 40.2h0M22.3 32.5h0M77.3 38.5h0M33.8 38.5h0M82.5 38.9h0M69.8 43.1h0M73.6 41.0h0M59.8 38.0h0M58.0 53.0h0M23.2 52.0h0M45.4 53.7h0M42.7 48.5h0M33.1 52.3h0M39.4 48.2h0M43.2 53.9h0M39.8 42.2h0M44.7 49.7h0M46.4 43.3h0M22.5 47.2h0M32.8 51.1h0M31.1 44.1h0M34.2 47.6h0M49.7 44.6h0M33.0 47.4h0M33.0 48.9h0M38.0 49.6h0M45.6 49.9h0M40.6 44.6h0M52.2 46.0h0M46.0 53.5h0M36.6 49.6h0M38.7 45.1h0M45.1 51.1h0M28.2 42.7h0M54.0 43.7h0M43.1 44.4h0M44.7 47.7h0M40.9 53.5h0M37.3 51.9h0M45.6 44.2h0M32.7 53.2h0M31.7 42.5h0M32.8 51.9h0M37.0 45.0h0M38.9 47.9h0M35.0 53.6h0M40.4 53.0h0M46.5 50.1h0M44.7 44.8h0M42.1 45.5h0M47.0 53.8h0M29.7 50.0h0M34.5 50.6h0M34.3 47.9h0M48.7 46.6h0M43.4 48.4h0M41.8 53.8h0M40.6 46.5h0M37.8 49.1h0M44.0 53.0h0M44.0 48.0h0M48.5 51.2h0M34.6 44.3h0M37.6 50.7h0M54.1 42.4h0M47.5 44.3h0M24.9 49.4h0M43.1 50.9h0M31.8 33.2h0M34.0 30.8h0M15.6 42.5h0M26.8 34.3h0M21.4 41.9h0M15.2 38.4h0M20.9 45.5h0M13.0 36.3h0M30.0 47.3h0M34.2 34.1h0M35.5 46.3h0M20.7 43.3h0M33.6 42.7h0M36.0 48.5h0M35.0 33.2h0M25.5 32.9h0M22.7 48.9h0M18.3 38.0h0M19.9 36.1h0M29.2 35.1h0M29.3 48.8h0M22.1 37.0h0M28.5 33.3h0M35.2 34.5h0M21.9 34.0h0M25.7 44.8h0M12.9 40.1h0M28.4 42.1h0M24.8 32.8h0M28.1 46.0h0M25.3 42.8h0M30.6 43.9h0M26.4 41.2h0M26.6 45.0h0M31.0 36.4h0M34.1 40.6h0M23.5 37.9h0M28.3 33.3h0M22.2 43.2h0M22.7 36.5h0M6.2 34.2h0M9.2 44.9h0M13.1 28.3h0M10.0 24.0h0M34.7 56.7h0M36.0 54.0h0M33.0 52.0h0M14.0 38.0h0M18.0 41.0h0M22.0 44.0h0M25.0 47.0h0M16.0 46.0h0M28.0 50.0h0M40.0 55.0h0M52.0 50.0h0M64.0 49.0h0M70.0 46.0h0M98.0 33.0h0M99.5 31.0h0M12.5 45.5h0" stroke="#000" stroke-width="1.9" stroke-linecap="round" fill="none"/>
<path d="M78.2 83.3h0M78.9 78.6h0M62.3 84.9h0M94.4 37.4h0M79.8 58.2h0M85.9 40.1h0M55.5 49.4h0M68.2 53.3h0M75.4 80.7h0M86.9 47.0h0M41.8 61.4h0M64.5 72.5h0M93.6 38.4h0M81.3 63.8h0M50.6 70.0h0M51.6 70.9h0M74.4 54.9h0M83.0 55.6h0M63.9 82.7h0M51.0 41.8h0M70.1 57.6h0M87.7 45.9h0M62.8 49.9h0M62.7 78.5h0M78.1 81.5h0M68.0 66.6h0M60.4 55.2h0M49.3 49.3h0M53.6 51.4h0M51.7 64.5h0M77.0 56.6h0M73.5 87.4h0M52.0 54.3h0M81.0 50.3h0M78.7 55.2h0M86.0 63.6h0M89.2 43.6h0M62.5 41.2h0M69.0 74.5h0M83.0 36.7h0M83.3 61.5h0M77.7 46.2h0M74.8 58.8h0M74.4 56.1h0M85.3 51.7h0M47.5 39.8h0M50.0 69.3h0M51.0 49.5h0M80.3 68.6h0M91.9 45.1h0M69.5 60.2h0M56.3 78.2h0M76.8 40.0h0M49.6 44.9h0M54.4 73.1h0M80.3 45.2h0M55.6 45.1h0M91.6 45.4h0M73.5 66.1h0M91.1 53.2h0M57.3 58.5h0M69.5 45.2h0M42.7 63.0h0M85.2 67.0h0M57.4 42.5h0M77.7 73.5h0M48.9 39.0h0M88.4 62.8h0M72.2 74.9h0M45.5 63.0h0M62.7 85.1h0M88.7 34.9h0M66.2 60.8h0M85.8 52.3h0M46.8 68.4h0M48.1 41.2h0M51.3 60.2h0M68.0 49.5h0M63.9 76.9h0M75.5 45.6h0M74.4 64.1h0M52.8 72.7h0M69.1 62.0h0M67.4 69.2h0M70.1 41.0h0M81.7 69.3h0M43.8 40.3h0M74.9 56.8h0M72.8 90.6h0M81.9 42.8h0M61.8 62.0h0M80.2 68.3h0M78.6 63.1h0M52.5 75.8h0M83.1 39.1h0M47.3 63.8h0M53.3 38.8h0M82.4 39.4h0M72.3 61.6h0M72.7 91.0h0M67.0 85.9h0M52.9 76.5h0M71.6 57.6h0M59.2 40.1h0M44.9 48.9h0M44.6 66.6h0M51.2 72.5h0M71.3 87.8h0M70.3 67.6h0M43.4 52.6h0M66.5 77.9h0M76.3 70.7h0M78.1 52.4h0M75.7 65.5h0M70.2 57.1h0M44.0 59.3h0M70.8 70.9h0M76.0 36.2h0M88.8 44.7h0M50.6 58.0h0M50.5 60.7h0M87.9 55.6h0M55.4 38.2h0M89.7 55.4h0M46.0 48.1h0M64.0 46.0h0M39.8 58.9h0M61.7 74.6h0M44.5 65.4h0M44.7 48.9h0M59.0 55.0h0M85.9 57.0h0M45.7 68.1h0M40.1 48.9h0M82.3 35.2h0M72.1 86.9h0M61.3 53.4h0M74.2 48.0h0M45.5 60.4h0M85.6 31.6h0M77.0 41.9h0M76.8 44.9h0M83.1 31.8h0M82.6 67.5h0M69.7 53.6h0M82.3 32.3h0M73.2 34.2h0M54.8 53.1h0M85.1 53.5h0M42.6 45.1h0M71.2 92.2h0M61.8 79.3h0M59.0 48.6h0M59.9 58.6h0M79.7 54.2h0M67.3 61.6h0M59.8 52.3h0M75.0 41.1h0M46.1 55.0h0M71.3 62.1h0M74.3 74.5h0M75.0 64.2h0M73.3 54.4h0M74.7 35.9h0M64.8 69.0h0M61.8 39.3h0M41.0 49.9h0M46.1 68.9h0M79.1 43.3h0M51.6 52.4h0M72.1 89.6h0M51.3 71.0h0M76.5 64.1h0M78.7 60.6h0M46.3 46.5h0M78.5 49.1h0M75.0 71.7h0M74.1 59.8h0M90.2 45.2h0M53.9 66.7h0M70.3 65.3h0M85.1 38.1h0M50.0 39.5h0M81.0 40.8h0M43.7 55.3h0M56.8 78.5h0M61.4 50.3h0M62.7 79.2h0M41.0 49.8h0M87.9 61.7h0M42.9 44.0h0M88.6 54.6h0M70.6 84.3h0M57.2 80.2h0M62.3 39.2h0M81.6 67.3h0M72.5 79.0h0M72.9 49.9h0M43.2 56.0h0M65.8 82.4h0M76.2 74.6h0M77.1 61.4h0M86.3 46.0h0M47.2 50.2h0M74.0 75.0h0M67.9 39.4h0M79.0 67.2h0M63.2 83.5h0M92.1 40.8h0M37.4 53.8h0M70.1 61.8h0M53.6 46.4h0M65.2 86.8h0M47.0 55.0h0M43.3 42.6h0M78.8 47.1h0M75.9 61.2h0M51.4 72.0h0M65.1 42.3h0M52.3 61.8h0M50.3 60.7h0M53.5 54.0h0M78.1 51.8h0M77.4 34.8h0M86.1 46.8h0M85.6 35.4h0M40.5 47.6h0M78.9 81.4h0M58.5 61.5h0M70.9 92.6h0M81.1 42.4h0M68.9 49.3h0M63.6 47.5h0M52.0 51.9h0M87.9 59.7h0M82.6 33.6h0M69.7 76.9h0M80.8 71.1h0M60.6 57.5h0M57.9 77.8h0M58.1 46.4h0M63.2 69.6h0M69.7 62.0h0M60.7 58.4h0M74.3 49.6h0M53.5 65.0h0M48.1 68.3h0M54.1 67.9h0M75.5 61.8h0M62.5 43.3h0M49.1 64.3h0M64.6 70.9h0M77.2 86.3h0M87.5 36.5h0M58.8 58.2h0M39.5 57.8h0M72.4 78.1h0M70.4 74.5h0M50.0 61.3h0M58.7 37.5h0M79.3 72.3h0M68.3 48.9h0M46.8 44.5h0M39.1 54.2h0M63.7 80.0h0M53.5 53.4h0M61.7 77.2h0M59.4 68.3h0M78.2 47.6h0M41.1 62.7h0M66.6 45.2h0M61.5 67.7h0M90.5 36.9h0M66.2 57.8h0M70.0 57.4h0M77.3 64.0h0M77.0 35.9h0M83.6 44.6h0M53.6 68.9h0M71.9 65.4h0M47.7 49.1h0M73.4 57.3h0M41.5 48.0h0M65.9 66.4h0M88.3 56.7h0M79.8 53.4h0M78.6 47.1h0M54.6 42.5h0M90.9 39.3h0M69.3 53.5h0M69.3 59.2h0M59.9 73.9h0M47.1 66.5h0M70.9 49.8h0M71.3 87.8h0M87.3 40.3h0M65.7 49.8h0M71.2 74.6h0M52.8 46.0h0M71.9 62.1h0M70.0 37.3h0M43.7 48.4h0M71.2 89.3h0M66.5 39.4h0M85.9 38.7h0M73.2 56.8h0M62.7 38.2h0M76.1 58.8h0M56.5 77.3h0M62.1 84.7h0M44.4 51.2h0M68.6 66.5h0M89.5 52.1h0M90.8 35.8h0M84.4 40.1h0M67.1 68.1h0M50.8 57.3h0M43.6 44.4h0M54.4 52.6h0M61.5 56.1h0M54.8 61.0h0M74.8 35.7h0M60.9 67.2h0M49.9 45.9h0M67.8 44.6h0M69.8 56.3h0M51.0 44.9h0M48.0 66.0h0M60.5 46.8h0M56.9 41.6h0M38.4 57.1h0M69.8 67.4h0M89.1 41.2h0M76.3 58.6h0M56.9 37.3h0M73.2 39.5h0M74.6 76.3h0M69.8 49.9h0M58.8 47.6h0M85.2 54.6h0M68.8 65.6h0M64.4 62.9h0M76.7 46.6h0M51.5 58.8h0M70.3 62.3h0M67.1 64.8h0M47.8 39.4h0M93.6 35.7h0M87.9 45.0h0M53.3 74.1h0M69.8 86.2h0M55.9 71.8h0M60.5 72.1h0M39.0 50.4h0M78.4 48.0h0M86.4 63.8h0M66.2 82.3h0M65.1 62.3h0M57.3 42.5h0M77.9 75.3h0M46.6 64.9h0M71.4 85.3h0M41.2 60.1h0M70.1 54.8h0M89.6 52.9h0M71.1 60.5h0M55.6 52.5h0M57.2 46.0h0M72.0 42.4h0M75.8 44.8h0M78.0 60.7h0M68.1 83.5h0M47.6 49.8h0M61.5 43.2h0M62.6 60.3h0M62.6 51.1h0M76.3 40.9h0M77.5 55.4h0M56.1 53.8h0M84.8 34.9h0M49.4 51.6h0M45.7 40.0h0M73.7 62.4h0M57.2 59.2h0M69.9 63.8h0M79.9 67.2h0M82.4 55.1h0M66.5 66.2h0M42.7 61.4h0M60.3 80.0h0M62.6 38.0h0M58.6 77.8h0M54.5 76.9h0M68.9 70.8h0M81.4 48.4h0M72.5 92.0h0M74.6 46.9h0M72.5 44.7h0M58.1 57.0h0M70.6 76.1h0M59.1 40.5h0M63.7 82.1h0M53.1 74.4h0M86.6 50.1h0M70.8 78.6h0M70.1 75.5h0M78.0 65.3h0M81.0 63.4h0M57.7 79.2h0M40.4 55.2h0M61.8 36.3h0M61.6 79.3h0M68.2 38.8h0M65.6 58.0h0M52.8 59.3h0M66.9 71.7h0M62.6 39.7h0M87.4 48.3h0M92.7 33.4h0M42.6 55.5h0M59.0 53.5h0M64.0 51.7h0M68.3 54.0h0M83.0 52.3h0M67.6 59.1h0M73.1 56.7h0M57.1 40.4h0M70.1 52.5h0M70.8 73.4h0M48.2 52.5h0M69.4 60.7h0M64.0 66.8h0M57.7 51.0h0M59.9 61.4h0M51.2 66.1h0M72.1 37.3h0M77.3 36.1h0M81.1 61.8h0M50.7 46.0h0M70.7 62.9h0M56.4 70.7h0M46.4 52.6h0M69.0 65.2h0M70.3 44.1h0M79.0 63.9h0M69.1 75.7h0M70.0 63.7h0M57.5 63.5h0M78.2 63.8h0M80.2 57.0h0M68.5 68.2h0M81.5 37.4h0M74.0 77.9h0M61.6 50.7h0M47.9 50.3h0M71.1 46.5h0M55.4 48.7h0M81.2 48.1h0M64.4 70.1h0M65.0 39.0h0M68.9 44.8h0M75.0 45.4h0M69.9 38.7h0M74.2 78.1h0M62.2 50.5h0M53.6 54.3h0M54.6 70.7h0M74.4 77.4h0M50.2 51.4h0M74.9 55.9h0M78.4 41.0h0M77.9 42.1h0M70.6 45.9h0M78.4 67.4h0M66.8 70.0h0M55.9 56.1h0M71.3 49.2h0M78.0 69.2h0M86.3 47.4h0M53.4 64.0h0M60.9 64.3h0M54.4 62.7h0M73.9 46.5h0M72.1 42.7h0M77.0 61.9h0M49.1 60.9h0M72.5 39.8h0M47.4 57.2h0M68.7 47.6h0M68.1 38.8h0M70.4 64.1h0M52.4 49.1h0M61.5 65.4h0M68.9 39.0h0M68.6 61.3h0M60.1 52.4h0M75.2 73.6h0M43.5 46.7h0M46.7 42.9h0M82.0 52.1h0M83.6 39.4h0M67.3 39.7h0M43.2 55.6h0M63.1 51.4h0M75.0 75.6h0M59.1 60.6h0M78.2 45.4h0M65.0 60.6h0M68.1 62.9h0M60.3 52.9h0M80.8 36.3h0M71.8 71.1h0M84.8 50.9h0M77.7 52.6h0M64.8 48.3h0M81.2 38.8h0M85.6 39.0h0M62.7 43.3h0M73.5 72.3h0M76.2 60.2h0M55.1 49.0h0M69.9 36.3h0M65.3 64.2h0M69.6 47.5h0M61.8 61.2h0M49.1 46.0h0M46.8 49.5h0M87.9 39.3h0M70.0 44.4h0M63.1 67.3h0M55.9 64.0h0M70.7 65.0h0M65.7 46.0h0M84.1 53.4h0M46.6 59.6h0M53.9 43.5h0M58.2 39.5h0M88.7 40.5h0M81.5 57.5h0M57.1 52.8h0M87.1 46.2h0M71.6 42.8h0M75.9 71.2h0M62.5 69.0h0M64.4 47.4h0M53.2 53.7h0M62.5 72.6h0M60.3 62.3h0M73.9 45.0h0M54.2 48.0h0M68.3 52.8h0M45.2 48.4h0M54.6 47.7h0M85.1 37.4h0M60.5 66.3h0M49.1 43.1h0M59.9 55.0h0M57.8 67.5h0M67.8 71.0h0M61.2 73.8h0M70.6 47.2h0M51.8 42.1h0M80.0 36.3h0M63.7 60.1h0M71.4 79.1h0M74.3 35.5h0M46.2 44.4h0M54.9 66.4h0M56.9 69.2h0M77.9 53.5h0M57.2 57.6h0M55.5 66.7h0M49.1 53.9h0M82.8 54.6h0M72.6 55.1h0M66.2 65.0h0M83.8 39.6h0M70.9 71.7h0M75.2 62.5h0M77.6 62.6h0M53.6 41.8h0M61.1 48.1h0M73.9 43.8h0M62.6 65.6h0M55.5 53.8h0M64.6 78.3h0M67.9 58.6h0M44.4 52.8h0M48.7 50.0h0M51.7 65.1h0M87.5 37.1h0M88.4 38.4h0M59.6 56.3h0M64.2 62.9h0M53.7 69.1h0M54.1 47.3h0M80.2 58.9h0M65.5 74.6h0M79.2 44.0h0M69.9 45.2h0M75.1 35.9h0M51.8 66.0h0M75.7 71.8h0M48.5 60.2h0M78.3 67.3h0M60.5 49.1h0M64.1 54.2h0M68.1 80.5h0M79.2 49.9h0M53.7 41.1h0M52.2 61.8h0M63.2 77.0h0M57.8 40.2h0M65.6 81.4h0M54.3 40.1h0M79.4 41.7h0M52.2 56.1h0M58.7 41.7h0M72.0 80.1h0M75.0 38.8h0M58.2 42.0h0M74.1 67.0h0M71.8 56.4h0M43.6 56.0h0M52.8 44.4h0M76.1 72.5h0M77.6 70.9h0M74.3 65.7h0M63.3 45.0h0M49.6 58.8h0M46.6 47.3h0M55.7 41.9h0M60.2 38.7h0M67.1 66.7h0M46.1 52.5h0M75.0 41.9h0M71.3 56.5h0M53.2 58.8h0M84.6 47.0h0M88.5 34.2h0M72.8 67.5h0M70.9 46.3h0M73.7 48.7h0M83.6 45.5h0M80.7 57.4h0M70.9 45.5h0M57.8 73.0h0M59.5 55.2h0M79.9 38.7h0M82.5 50.9h0M70.0 59.3h0M86.8 39.2h0M56.2 55.5h0M44.2 50.6h0M56.2 49.3h0M62.1 58.3h0M46.2 60.1h0M67.2 42.4h0M74.8 69.1h0M84.8 52.9h0M77.3 43.4h0M81.4 51.9h0M58.9 50.6h0M70.4 60.6h0M67.5 61.0h0M71.0 62.3h0M76.2 48.6h0M65.6 44.3h0M51.1 40.7h0M58.4 59.3h0M73.5 44.2h0M47.4 53.1h0M72.4 78.3h0M75.0 59.4h0M68.7 40.0h0M64.0 76.0h0M76.5 73.7h0M74.9 67.7h0M74.9 43.7h0M74.0 42.5h0M79.2 59.2h0M45.2 51.6h0M67.4 61.9h0M72.9 40.5h0M52.7 40.5h0M55.9 61.0h0M69.6 71.5h0M85.0 36.2h0M66.7 48.0h0M76.1 39.9h0M63.2 70.0h0M58.6 75.3h0M78.3 48.7h0M59.9 59.6h0M84.4 45.2h0M43.9 54.6h0M84.0 36.8h0M69.4 56.8h0M64.6 45.3h0M52.2 63.3h0M60.1 38.5h0M83.4 47.4h0M81.4 45.3h0M80.3 65.2h0M63.0 41.5h0M58.8 54.9h0M71.1 43.7h0M73.0 66.6h0M80.9 62.2h0M68.6 40.4h0M48.2 42.2h0M61.0 57.2h0M72.2 65.3h0M50.2 57.1h0M67.0 53.9h0M65.9 78.2h0M48.2 43.2h0M60.8 46.9h0M80.8 53.8h0M65.2 44.3h0M44.5 43.3h0M55.6 51.2h0M63.2 52.9h0M74.1 58.5h0M69.5 42.6h0M67.0 41.4h0M85.7 46.8h0M69.1 74.6h0M81.7 56.4h0M57.7 64.0h0M57.6 68.4h0M76.7 37.2h0M54.8 44.9h0M63.6 76.0h0M71.5 58.0h0M73.0 49.7h0M75.2 74.2h0M62.9 41.9h0M65.0 47.5h0M73.2 47.1h0M76.2 55.5h0M59.1 48.9h0M54.0 57.3h0M87.3 45.9h0M55.3 55.7h0M61.2 63.2h0M71.8 56.9h0M80.0 61.5h0M56.2 66.3h0M66.3 54.0h0M73.5 36.7h0M72.4 64.5h0M47.8 51.5h0M59.9 50.9h0M76.5 40.8h0M53.9 65.5h0M77.0 57.6h0M64.9 56.4h0M74.4 57.2h0M55.3 52.8h0M60.7 72.2h0M79.1 51.3h0M74.0 54.8h0M67.8 43.7h0M67.7 60.2h0M81.6 40.8h0M77.3 39.4h0M67.3 50.5h0M65.7 71.3h0M77.4 51.8h0M44.2 47.9h0M62.1 67.3h0M82.6 38.3h0M64.4 65.8h0M70.6 76.9h0M74.2 46.6h0M88.2 33.8h0M52.8 65.6h0M80.0 39.9h0M74.1 55.2h0M80.1 48.6h0M70.5 45.8h0M76.3 68.9h0M62.7 44.4h0M43.0 55.0h0M73.3 46.4h0M68.5 60.7h0M53.0 61.3h0M83.6 54.3h0M75.8 38.2h0M68.0 40.5h0M49.4 49.0h0M48.8 42.8h0M64.5 76.4h0M55.5 61.4h0M65.4 55.7h0M81.6 52.5h0M73.9 45.7h0M65.6 39.5h0M69.4 62.7h0M61.6 74.7h0M70.0 41.3h0M86.2 46.1h0M83.5 34.9h0M84.6 52.1h0M78.6 41.6h0M56.2 55.8h0M66.2 51.3h0M66.8 50.8h0M45.6 43.0h0M55.8 40.4h0M63.3 61.7h0M59.5 49.6h0M79.5 51.8h0M52.6 57.7h0M48.9 63.3h0M44.9 51.3h0M65.2 52.6h0M70.7 38.6h0M71.8 57.1h0M53.0 45.9h0M43.0 54.8h0M45.7 52.6h0M54.5 59.3h0M83.6 39.2h0M84.4 42.3h0M75.6 41.4h0M83.5 52.8h0M67.2 79.3h0M75.6 43.6h0M54.4 52.1h0M80.9 53.8h0M62.9 56.1h0M75.2 51.2h0M71.2 39.3h0M82.1 38.3h0M50.9 52.7h0M73.5 75.1h0M69.2 83.0h0M48.1 43.9h0M84.5 44.6h0M76.4 58.6h0M58.6 44.1h0M47.2 56.7h0M85.8 49.0h0M47.2 52.9h0M79.3 51.5h0M82.9 36.2h0M78.8 54.3h0M52.5 44.6h0M70.4 36.6h0M75.4 64.2h0M75.0 59.7h0M75.8 39.6h0M78.7 62.5h0M68.0 68.2h0M63.9 38.8h0M76.3 52.2h0M69.0 48.4h0M49.1 47.3h0M83.5 36.2h0M57.3 67.5h0M58.9 54.6h0M66.0 64.2h0M88.1 41.1h0M54.6 53.3h0M65.9 78.3h0M81.5 34.4h0M69.3 50.0h0M82.4 58.6h0M84.6 34.6h0M64.1 81.0h0M42.6 54.2h0M73.5 61.8h0M61.7 74.6h0M71.9 47.9h0M69.4 64.6h0M79.8 56.2h0M69.5 52.0h0M84.5 34.3h0M50.0 52.9h0M77.8 54.7h0M64.7 40.8h0M77.8 50.1h0M60.2 68.5h0M84.3 47.4h0M59.9 57.2h0M57.5 57.5h0M48.0 60.8h0M58.4 75.9h0M60.3 43.1h0M74.6 58.3h0M61.0 73.7h0M57.6 65.1h0M56.7 61.7h0M57.1 41.1h0M48.5 54.9h0M77.0 65.1h0M68.5 39.3h0M79.8 44.5h0M70.6 72.4h0M57.6 56.0h0M59.8 50.2h0M65.3 82.0h0M72.7 42.7h0M67.7 53.1h0M44.4 47.8h0M77.2 42.1h0M59.6 43.9h0M60.0 40.9h0M47.7 42.7h0M69.1 58.8h0M52.0 45.1h0M59.4 77.2h0M65.3 39.6h0M70.0 74.2h0M88.3 35.6h0M76.9 36.2h0M72.5 42.5h0M65.1 70.1h0M56.9 66.6h0M69.0 54.9h0M64.0 62.3h0M88.9 41.0h0M79.3 39.7h0M44.9 53.8h0M66.5 56.3h0M74.4 60.8h0M62.0 58.3h0M58.3 71.7h0M53.9 68.7h0M65.5 44.3h0M64.6 57.7h0M43.8 50.9h0M74.6 37.0h0M83.0 33.9h0M75.9 56.9h0M57.8 42.7h0M68.3 65.1h0M81.1 39.0h0M47.9 48.8h0M50.5 52.0h0M57.5 41.9h0M54.9 46.1h0M67.7 56.9h0M65.9 60.2h0M72.5 75.2h0M74.2 71.8h0M53.0 43.1h0M81.0 37.0h0M72.7 66.8h0M75.9 53.2h0M50.5 60.1h0M67.1 51.2h0M63.9 41.8h0M62.7 67.1h0M77.8 43.3h0M51.6 63.4h0M50.4 62.2h0M73.3 57.7h0M77.6 39.9h0M48.2 41.8h0M57.5 60.4h0M71.5 71.6h0M48.8 50.1h0M56.8 59.8h0M50.9 54.9h0M68.9 58.5h0M62.6 51.7h0M68.2 56.4h0M68.2 40.0h0M67.4 53.6h0M65.8 66.7h0M83.4 46.0h0M66.1 55.1h0M52.7 50.4h0M46.0 52.3h0M55.5 42.7h0M65.0 55.3h0M56.0 61.7h0M59.4 65.7h0M83.0 55.7h0M84.5 47.2h0M68.9 66.0h0M59.5 40.1h0M71.1 40.1h0M45.4 47.0h0M44.3 45.3h0M80.0 51.6h0M50.0 54.3h0M83.0 48.3h0M49.7 59.0h0M78.4 56.6h0M78.9 57.7h0M67.0 40.6h0M69.9 48.0h0M73.2 67.2h0M55.8 56.7h0M72.8 71.4h0M63.7 52.1h0M45.4 44.3h0M65.2 48.2h0M62.0 79.6h0M69.4 63.7h0M45.1 45.7h0M46.1 57.1h0M73.1 68.6h0M56.3 71.0h0M52.6 51.6h0M55.8 60.8h0M55.5 70.4h0M44.9 56.1h0M59.3 70.6h0M74.8 68.4h0M74.6 35.7h0M45.1 55.8h0M62.9 47.5h0M66.7 75.8h0M62.8 44.4h0M70.5 38.6h0M61.2 44.9h0M76.8 55.9h0M86.5 46.5h0M61.1 75.7h0M77.7 37.0h0M83.7 44.1h0M51.9 55.1h0M52.0 48.2h0M52.0 45.2h0M77.3 38.5h0M59.9 66.5h0M67.1 61.8h0M66.5 61.2h0M67.0 38.5h0M68.5 71.5h0M46.1 51.6h0M78.7 66.9h0M53.8 49.5h0M59.4 76.9h0M61.7 54.7h0M56.2 55.1h0M46.2 55.2h0M76.6 60.9h0M63.2 77.1h0M56.2 68.2h0M51.7 51.7h0M82.6 54.6h0M75.8 55.1h0M76.0 35.7h0M79.3 48.5h0M74.3 46.0h0M73.8 69.4h0M55.6 52.7h0M85.4 48.4h0M48.2 56.2h0M44.2 49.4h0M76.0 70.9h0M72.3 38.8h0M48.6 57.6h0M65.6 62.9h0M65.0 73.2h0M69.7 70.7h0M61.0 59.6h0M51.5 42.2h0M86.0 48.2h0M67.3 51.9h0M62.7 43.9h0M84.3 54.1h0M84.1 41.3h0M48.2 57.9h0M68.3 45.1h0M73.7 56.0h0M58.5 40.7h0M62.5 39.3h0M64.4 75.5h0M64.9 62.7h0M70.7 60.9h0M78.2 57.6h0M77.9 46.0h0M83.3 49.7h0M62.2 67.0h0M51.3 55.1h0M74.4 62.0h0M57.7 72.0h0M66.6 57.5h0M54.6 45.8h0M61.2 44.4h0M57.5 48.0h0M65.1 54.0h0M53.7 53.0h0M57.4 43.9h0M82.0 50.6h0M57.6 72.3h0M57.4 50.1h0M79.3 67.4h0M65.5 74.2h0M72.4 36.5h0M86.6 40.5h0M73.5 42.3h0M43.2 51.1h0M68.1 57.7h0M59.9 42.1h0M58.9 53.1h0M68.2 49.2h0M46.7 50.2h0M73.0 59.1h0M71.6 56.3h0M56.6 50.3h0M72.3 67.9h0M70.2 39.5h0M71.9 44.0h0M68.0 75.7h0M69.1 53.3h0M66.3 70.3h0M70.2 43.8h0M70.3 64.2h0M75.1 44.0h0M63.5 47.6h0M50.3 52.8h0M62.9 57.4h0M54.8 53.7h0M66.8 49.4h0M56.8 58.5h0M65.0 61.9h0M60.4 50.1h0M64.3 51.0h0M73.2 62.4h0M74.3 38.8h0M80.8 45.1h0M52.8 45.3h0M73.3 66.5h0M70.1 50.0h0M60.5 54.9h0M73.2 80.1h0M49.0 45.2h0M51.5 59.2h0M56.2 46.4h0M80.6 61.8h0M65.5 79.0h0M77.4 56.0h0M77.0 52.3h0M64.9 80.8h0M71.9 50.8h0M59.5 44.9h0M80.1 47.2h0M71.2 61.9h0M64.8 49.5h0M82.6 38.0h0M44.1 50.2h0M87.8 33.1h0M69.6 68.4h0M70.1 71.3h0M66.8 46.0h0M69.1 43.0h0M66.4 46.7h0M73.5 80.0h0M74.3 44.7h0M72.5 70.1h0M58.4 63.9h0M45.0 58.4h0M63.0 73.0h0M49.3 46.1h0M47.3 44.5h0M54.2 46.7h0M67.2 42.6h0M72.8 65.0h0M49.9 54.8h0M65.1 74.0h0M52.4 59.3h0M70.5 39.0h0M74.0 42.4h0M82.6 39.8h0M77.0 54.1h0M52.6 42.6h0M56.4 49.0h0M60.9 46.4h0M71.5 43.9h0M78.7 48.5h0M49.2 45.1h0M66.9 45.4h0M80.6 52.9h0M76.6 43.5h0M59.2 72.3h0M75.9 35.7h0M57.0 56.0h0M63.0 78.1h0M78.7 50.5h0M77.9 68.2h0M55.9 51.0h0M66.7 39.3h0M77.3 60.4h0M75.6 43.3h0M79.8 38.9h0M81.7 38.2h0M75.7 66.5h0M66.8 76.1h0M77.6 49.1h0M52.9 49.5h0M63.4 52.1h0M50.5 65.9h0M77.9 46.0h0M74.2 40.5h0M46.2 51.5h0M69.3 62.1h0M56.2 59.4h0M64.6 77.8h0M82.2 56.3h0M89.1 37.3h0M77.9 55.4h0M48.9 61.4h0M71.0 50.9h0M64.7 47.5h0M49.8 48.8h0M43.6 44.7h0M57.4 66.7h0M57.7 67.9h0M45.2 43.2h0M82.2 37.5h0M72.8 66.5h0M45.8 48.2h0M67.5 57.3h0M57.7 53.7h0M56.6 48.5h0M72.0 57.6h0M53.2 43.9h0M73.8 49.5h0M62.5 48.9h0M64.8 43.8h0M82.2 56.2h0M78.4 60.4h0M60.0 45.0h0M80.2 35.1h0M77.1 71.5h0M81.4 36.8h0M81.1 38.0h0M83.9 46.4h0M53.2 49.1h0M60.2 54.4h0M71.1 68.2h0M83.3 36.2h0M79.4 65.1h0M57.0 66.2h0M69.7 36.5h0M69.4 36.1h0M78.6 36.7h0M70.9 80.8h0M74.1 39.8h0M75.8 39.2h0M58.8 51.3h0M85.7 40.3h0M60.8 40.4h0M83.0 52.3h0M56.3 55.9h0M65.2 38.9h0M54.0 47.9h0M44.4 56.7h0M84.2 39.9h0M67.9 71.8h0M65.3 48.7h0M66.0 46.6h0M57.3 41.0h0M61.6 70.4h0M65.6 48.1h0M75.4 69.4h0M73.2 41.3h0M51.7 55.3h0M82.1 37.4h0M51.1 58.1h0M65.2 74.8h0M80.1 39.3h0M79.4 65.6h0M69.7 70.4h0M71.9 61.2h0M82.8 37.2h0M78.8 46.7h0M54.1 56.4h0M69.7 76.5h0M78.1 68.7h0M70.7 79.4h0M77.6 42.6h0M61.3 75.8h0M44.1 55.3h0M63.1 76.2h0M72.4 45.9h0M76.0 42.4h0M61.6 62.7h0M64.2 45.9h0M56.3 68.8h0M73.7 71.2h0M62.6 79.0h0M45.0 42.1h0M59.8 64.1h0M70.7 54.9h0M83.9 40.2h0M57.6 62.1h0M62.7 56.6h0M76.2 42.9h0M56.4 39.7h0M60.1 76.4h0M45.0 51.8h0M67.5 61.2h0M79.8 40.6h0M70.2 77.3h0M73.4 57.3h0M77.8 52.1h0M76.6 47.2h0M70.8 44.6h0M72.4 74.5h0M79.3 44.2h0M52.5 43.7h0M65.6 41.5h0M80.0 48.2h0M72.3 67.2h0M83.4 41.8h0M70.1 58.4h0M85.8 42.0h0M79.1 58.0h0M74.4 47.1h0M83.4 41.4h0M55.8 59.8h0M60.9 40.3h0M54.2 41.5h0M54.7 66.4h0M84.2 35.7h0M54.2 53.2h0M76.2 68.9h0M58.2 39.7h0M65.9 78.3h0M77.9 38.9h0M58.7 60.5h0M71.3 52.4h0M50.8 62.8h0M70.7 38.4h0M85.6 35.0h0M55.6 40.9h0M81.2 50.9h0M67.8 37.3h0M82.9 35.1h0M56.6 63.2h0M84.2 52.7h0M65.3 72.2h0M56.5 65.6h0M74.0 50.3h0M57.4 74.1h0M79.7 45.6h0M81.3 56.1h0M66.9 76.6h0M77.5 49.2h0M66.5 39.5h0M62.9 38.1h0M84.4 50.3h0M69.4 52.7h0M69.3 39.1h0M60.5 45.1h0M69.6 50.8h0M60.3 71.3h0M72.3 42.3h0M71.8 41.8h0M66.5 73.3h0M54.9 66.6h0M82.7 47.8h0M56.0 53.1h0M85.7 44.5h0M51.3 41.8h0M47.0 52.6h0M77.9 48.1h0M63.7 74.4h0M43.7 55.5h0M77.2 38.0h0M61.2 60.3h0M84.1 53.9h0M70.6 37.9h0M81.9 46.4h0M81.4 52.7h0M60.0 60.0h0M73.5 76.8h0M65.9 41.4h0M76.3 59.8h0M66.4 70.3h0M81.2 47.6h0M80.0 53.5h0M54.3 61.3h0M57.5 39.2h0" stroke="#0000ff" stroke-width="1.9" stroke-linecap="round" fill="none"/>
<path d="M82.4 28.1h0M52.7 36.4h0M38.0 36.9h0M80.5 30.7h0M58.9 30.5h0M82.9 29.4h0M78.9 31.6h0M76.2 29.9h0M48.8 40.5h0M52.9 34.2h0M83.0 29.2h0M56.8 39.3h0M43.2 35.8h0M62.9 37.9h0M43.3 35.3h0M54.3 37.6h0M91.3 26.7h0M74.7 28.8h0M58.2 40.2h0M66.8 33.0h0M74.1 30.1h0M92.7 32.2h0M39.6 38.1h0M55.0 36.0h0M71.0 36.4h0M67.4 33.9h0M44.5 35.0h0M49.0 35.6h0M65.1 31.1h0M86.5 27.4h0M77.1 35.2h0M39.0 34.5h0M56.6 36.2h0M55.1 34.7h0M59.1 32.0h0M94.0 25.0h0M41.0 40.8h0M60.3 33.6h0M92.9 24.0h0M88.0 38.4h0M75.5 31.1h0M84.6 28.6h0M82.6 31.1h0M77.5 27.1h0M60.9 36.8h0M52.9 35.4h0M65.3 29.5h0M39.2 36.8h0M44.9 36.7h0M52.4 33.8h0M63.3 32.6h0M61.0 31.3h0M87.2 27.7h0M64.6 31.5h0M64.8 32.0h0M55.1 34.5h0M83.1 28.7h0M92.4 30.2h0M89.7 29.0h0M55.9 35.4h0M60.3 38.6h0M90.5 24.7h0M54.3 36.4h0M41.2 33.6h0M39.7 34.0h0M78.2 28.8h0M58.3 39.2h0M41.5 37.0h0M48.8 38.5h0M61.6 31.7h0M81.8 27.9h0M64.3 34.4h0M43.6 34.7h0M73.0 29.5h0M72.0 31.9h0M43.5 38.5h0M43.9 36.3h0M88.4 28.8h0M73.2 28.1h0M84.6 27.6h0M42.7 41.2h0M88.8 31.8h0M88.0 31.8h0M82.3 27.9h0M45.7 42.8h0M62.7 33.1h0M81.6 29.5h0M77.9 27.7h0M41.6 37.6h0M54.0 44.1h0M90.6 32.5h0M53.7 36.0h0M92.1 34.0h0M39.8 38.4h0M42.8 36.0h0M68.0 34.8h0M39.8 35.9h0M40.9 37.7h0M93.6 24.6h0M77.2 38.7h0M57.2 37.5h0M44.4 36.6h0M68.6 33.9h0M42.2 34.5h0M42.1 34.4h0M67.4 28.6h0M46.4 33.0h0M69.8 30.8h0M59.7 30.5h0M69.6 31.5h0M89.0 26.9h0M55.7 32.1h0M51.5 39.3h0M69.9 31.8h0M48.5 34.2h0M62.7 33.7h0M60.3 36.1h0M75.1 27.1h0M78.1 31.9h0M58.8 37.2h0M75.3 29.9h0M73.0 27.9h0M59.5 31.2h0M80.5 26.5h0M44.4 33.3h0M58.6 32.3h0M39.8 42.1h0M50.6 33.9h0M69.7 31.7h0M64.4 30.9h0M78.6 28.3h0M75.0 29.3h0M44.7 43.6h0M40.8 42.7h0M89.5 24.2h0M78.8 33.7h0M74.5 28.3h0M49.3 37.1h0M86.1 26.4h0M50.0 40.4h0M71.2 28.0h0M79.7 34.9h0M93.7 25.4h0M81.5 33.1h0M43.2 34.1h0M58.6 30.8h0M44.6 33.9h0M89.6 24.6h0M91.1 32.6h0M40.9 37.2h0M45.8 34.4h0M38.1 34.1h0M84.4 30.9h0M53.3 34.6h0M45.4 35.4h0M92.7 25.1h0M59.5 35.3h0M73.1 30.9h0M64.9 29.2h0M87.7 27.2h0M48.8 40.6h0M70.3 30.8h0M91.1 26.1h0M44.7 38.3h0M71.2 37.5h0M67.7 30.0h0M76.9 28.7h0M85.1 30.3h0M88.4 30.8h0M86.7 34.0h0M85.9 26.9h0M45.4 35.8h0M58.8 33.0h0M38.3 37.7h0M55.1 36.8h0M81.0 29.3h0M89.9 28.3h0M45.0 35.3h0M89.0 27.5h0M91.4 29.0h0M67.1 29.4h0M58.4 35.8h0M93.7 27.1h0M86.6 30.4h0M74.4 27.6h0M45.4 34.4h0M44.1 39.2h0M46.7 37.2h0M66.3 34.4h0M81.6 30.7h0M42.9 40.4h0M45.0 33.6h0M57.7 34.7h0M89.3 31.0h0M47.8 35.0h0M86.1 31.3h0M79.4 28.5h0M72.4 28.1h0M63.5 31.3h0M79.1 32.3h0M92.4 31.4h0M53.3 38.9h0M38.1 34.9h0M93.6 24.3h0M63.5 32.9h0M78.4 27.8h0M59.5 31.6h0M84.8 26.7h0M58.9 31.4h0M75.4 29.3h0M64.3 29.8h0M67.8 28.9h0M84.9 29.4h0M38.7 37.2h0M93.7 30.8h0M64.9 30.3h0M41.9 38.9h0M82.5 30.9h0M93.4 26.9h0M52.3 35.4h0M68.3 31.8h0M87.5 29.8h0M63.4 37.1h0M40.6 34.5h0M79.8 29.7h0M38.2 39.9h0M87.2 30.8h0M47.5 32.4h0M40.0 37.0h0M55.0 31.1h0M46.6 39.9h0M77.3 29.4h0M87.4 26.2h0M71.3 35.6h0M43.0 36.4h0M48.4 35.4h0M48.3 35.2h0M59.5 31.5h0M68.6 32.8h0M42.9 38.7h0M62.1 35.4h0M72.1 31.0h0M53.1 39.8h0M65.0 39.1h0M74.1 29.1h0M52.9 34.4h0M92.3 25.3h0M58.8 35.1h0M93.6 33.7h0M47.1 35.2h0M53.5 33.6h0M75.1 30.5h0M66.4 30.7h0M62.6 30.5h0M67.9 30.1h0M38.1 37.5h0M52.9 33.0h0M71.2 32.3h0M85.8 26.6h0M53.8 39.0h0M65.8 30.3h0M51.5 41.9h0M38.8 39.6h0M86.8 26.6h0M46.6 33.9h0M86.4 31.8h0M88.5 31.4h0M45.6 38.1h0M44.6 37.4h0M41.9 36.7h0M53.4 32.3h0M43.5 35.4h0M39.3 34.6h0M61.5 33.9h0M76.9 31.0h0M56.1 34.3h0M72.4 28.6h0M44.3 35.7h0M75.5 29.2h0M57.7 33.0h0M69.6 32.0h0M71.4 33.0h0M48.8 38.9h0M60.8 33.9h0M60.2 32.0h0M74.1 28.3h0M88.6 28.3h0M52.2 35.7h0M88.9 27.7h0M77.9 29.7h0M58.9 34.3h0M71.0 30.6h0M55.1 35.5h0M43.8 35.9h0M87.8 28.0h0M75.9 32.3h0M64.2 31.6h0M94.0 28.2h0M38.7 39.0h0M64.9 33.4h0M73.7 33.2h0M92.7 30.9h0M66.8 31.3h0M89.0 28.1h0M64.9 34.9h0M44.4 35.6h0M57.4 34.3h0M68.0 33.9h0M84.5 35.5h0M83.4 33.7h0M52.8 32.1h0M90.9 28.6h0M72.7 30.1h0M85.5 26.5h0M57.8 39.2h0M38.4 34.8h0M40.5 40.6h0M69.5 29.4h0M65.1 34.0h0M49.5 34.1h0M93.8 24.6h0M50.5 32.6h0M92.7 27.7h0M58.7 32.4h0M58.7 30.3h0M53.6 38.2h0M48.7 34.6h0M66.1 34.5h0M49.2 37.9h0M89.4 25.1h0M75.7 27.5h0M89.2 25.1h0M85.9 26.7h0M75.8 27.8h0M75.4 32.3h0M43.5 47.3h0M69.9 32.4h0M75.5 27.4h0M62.7 30.2h0M38.5 42.4h0M56.3 34.6h0M71.6 28.7h0M39.6 38.4h0M50.0 35.4h0M49.6 37.5h0M74.6 30.5h0M71.5 33.0h0M86.7 24.8h0M86.4 34.4h0M75.6 34.0h0M49.2 33.1h0M54.8 34.7h0M60.4 35.0h0M49.0 33.0h0M51.0 39.1h0M74.5 30.6h0M55.6 31.5h0M58.1 35.2h0M60.9 30.3h0M92.2 26.5h0M71.4 31.5h0M66.1 34.4h0M73.2 29.1h0M67.9 28.4h0M64.0 32.5h0M55.1 31.0h0M92.2 24.4h0M59.8 31.1h0M57.6 33.0h0M93.4 26.6h0M89.4 25.3h0M45.3 41.3h0M73.4 33.4h0M71.5 31.3h0M93.7 33.1h0M51.6 36.6h0M73.0 27.8h0M93.0 25.4h0M39.5 36.3h0M49.3 35.3h0M86.0 25.0h0M69.6 32.9h0M84.5 32.0h0M85.7 27.6h0M71.9 31.3h0M47.4 32.8h0M47.9 34.7h0M81.7 28.9h0M47.0 38.6h0M63.3 35.6h0M44.4 33.4h0M58.9 31.3h0M60.7 33.4h0M89.9 24.6h0M70.5 31.1h0M59.3 36.3h0M69.4 31.1h0M86.8 26.9h0M43.2 37.8h0M66.5 30.7h0M44.0 37.3h0M72.3 27.8h0M76.4 28.3h0M88.2 25.6h0M49.5 35.4h0M81.8 33.0h0M38.3 40.1h0M40.0 41.0h0M38.4 39.7h0M77.5 31.6h0M81.0 28.4h0M46.9 34.5h0M38.8 37.8h0M93.5 29.7h0M51.7 34.4h0M90.7 27.8h0M51.3 36.7h0M81.0 30.7h0M44.5 34.5h0M79.5 30.9h0" stroke="#000" stroke-width="1.8" stroke-linecap="round" fill="none"/>
<rect x="0" y="0" width="103.9" height="103.1" fill="none" stroke="#2a2a2a" stroke-width="0.9"/>
<path d="M11.2 103.1v-1.2M11.2 0v1.2M38.5 103.1v-1.2M38.5 0v1.2M65.8 103.1v-1.2M65.8 0v1.2M93.1 103.1v-1.2M93.1 0v1.2M0 84.4h1.2M103.9 84.4h-1.2M0 66.0h1.2M103.9 66.0h-1.2M0 47.5h1.2M103.9 47.5h-1.2M0 29.1h1.2M103.9 29.1h-1.2M0 10.6h1.2M103.9 10.6h-1.2" stroke="#444" stroke-width="0.6"/>
</g>
<text class="b" x="228.7" y="279.2" font-size="7.9" text-anchor="end" textLength="13.2" lengthAdjust="spacingAndGlyphs">300</text>
<text class="b" x="228.7" y="260.75" font-size="7.9" text-anchor="end" textLength="13.2" lengthAdjust="spacingAndGlyphs">305</text>
<text class="b" x="228.7" y="242.3" font-size="7.9" text-anchor="end" textLength="13.2" lengthAdjust="spacingAndGlyphs">310</text>
<text class="b" x="228.7" y="223.85" font-size="7.9" text-anchor="end" textLength="13.2" lengthAdjust="spacingAndGlyphs">315</text>
<text class="b" x="228.7" y="205.4" font-size="7.9" text-anchor="end" textLength="13.2" lengthAdjust="spacingAndGlyphs">320</text>
<text class="b" x="228.7" y="186.95" font-size="7.9" text-anchor="end" textLength="13.2" lengthAdjust="spacingAndGlyphs">325</text>
<text class="b" x="243.1" y="286.8" font-size="7.9" text-anchor="middle" textLength="11.1" lengthAdjust="spacingAndGlyphs">0.2</text>
<text class="b" x="270.4" y="286.8" font-size="7.9" text-anchor="middle" textLength="15.3" lengthAdjust="spacingAndGlyphs">0.25</text>
<text class="b" x="297.7" y="286.8" font-size="7.9" text-anchor="middle" textLength="11.1" lengthAdjust="spacingAndGlyphs">0.3</text>
<text class="b" x="325" y="286.8" font-size="7.9" text-anchor="middle" textLength="15.3" lengthAdjust="spacingAndGlyphs">0.35</text>
<text class="b" x="283.9" y="296.9" font-size="8" text-anchor="middle">albedo</text>
<text class="b" transform="translate(212.1,224.9) rotate(-90)" font-size="8" text-anchor="middle">Ts (K)</text>
<g transform="translate(411.6,173.1)">
<path d="M0.6 58.3H103.6" stroke="#333" stroke-width="0.9" stroke-dasharray="3.6 2.7" fill="none"/>
<path d="M0.6 93.9H103.6" stroke="#3fe3ea" stroke-width="1.1" stroke-dasharray="3.6 2.7" fill="none"/>
<path d="M0.6 98.9H103.6" stroke="#4040e4" stroke-width="1.15" stroke-dasharray="3.6 2.7" fill="none"/>
<path d="M17.0 23.2 21.9 18.2 28.5 14.1 38.0 10.5 49.6 8.6 52.1 6.1 54.3 5.0 59.9 6.5 67.7 8.6 81.0 12.2 89.7 17.7 93.5 24.1 95.4 30.5 86.8 32.3 77.2 35.1 58.1 36.9 38.0 35.9 28.5 34.2 17.0 29.6Z" fill="#000" stroke="#000" stroke-width="1.2" stroke-linejoin="round"/>
<path d="M88.5 18.1h0M90.4 20.9h0M45.2 9.0h0M47.7 36.8h0M30.5 12.2h0M24.7 17.6h0M71.8 35.2h0M18.6 21.2h0M47.4 9.2h0M89.9 21.3h0M94.5 29.1h0M70.0 35.9h0M18.7 23.6h0M62.2 37.1h0M65.0 8.2h0M83.4 12.7h0M18.1 30.0h0M51.4 7.1h0M16.7 27.0h0M76.8 34.5h0M28.3 15.7h0M53.9 37.1h0M33.3 13.4h0M44.3 8.9h0M47.4 8.5h0M74.8 36.0h0M50.6 9.6h0M44.6 38.0h0M49.3 8.6h0M76.6 37.0h0M50.9 8.7h0M70.6 9.7h0M29.4 13.2h0M80.9 34.6h0M16.7 30.1h0M34.0 35.6h0M26.7 32.7h0M47.2 6.8h0M50.3 8.2h0M80.8 34.2h0M22.5 18.0h0M63.0 38.1h0M82.2 34.1h0M60.8 36.9h0M89.6 30.9h0M62.6 6.8h0M19.0 22.0h0M25.6 16.9h0M87.2 33.0h0M30.8 34.2h0M65.1 35.9h0M23.4 18.9h0M63.9 36.3h0M74.0 35.4h0M69.3 8.9h0M91.1 29.5h0M56.7 35.3h0M24.5 34.0h0M28.4 33.2h0M48.3 35.5h0M76.6 35.8h0M81.4 34.8h0M18.0 23.4h0M81.0 11.1h0M89.2 17.0h0M56.0 36.9h0M93.2 24.7h0M92.6 24.7h0M58.6 6.0h0M68.0 36.5h0M26.4 32.7h0M28.7 35.5h0M47.4 9.4h0M26.1 32.4h0M84.5 33.4h0M95.0 24.4h0M62.6 36.3h0M42.9 9.8h0M50.0 7.7h0M93.2 27.1h0M16.6 26.6h0M21.1 18.9h0M61.6 36.1h0M47.8 36.4h0M92.3 19.5h0M54.8 5.3h0M75.5 35.6h0M72.8 33.5h0M67.0 37.0h0M46.4 9.3h0M61.6 37.2h0M73.2 9.2h0M79.3 33.6h0M47.6 36.2h0M22.3 31.3h0M89.1 17.6h0M77.3 10.9h0M47.3 36.0h0M73.1 36.9h0M41.6 35.0h0M53.0 5.7h0M15.4 26.9h0M70.7 8.0h0M74.9 10.8h0M90.6 30.5h0M20.7 19.2h0M46.2 37.0h0M48.3 36.8h0M94.8 27.7h0M66.8 35.8h0M20.1 31.0h0M94.3 32.1h0M73.2 35.1h0M88.5 32.7h0M38.1 35.5h0M37.7 35.5h0M86.8 33.5h0M94.2 27.0h0M16.1 28.7h0M44.6 35.9h0M66.5 36.6h0M86.9 14.1h0M59.7 6.7h0M88.8 14.8h0M92.4 23.2h0M79.1 34.5h0M50.1 36.6h0M52.7 4.9h0M75.0 10.4h0M59.1 37.6h0M57.3 6.8h0M87.8 17.6h0M94.6 31.3h0M75.6 34.3h0M35.2 34.5h0M53.7 3.6h0M27.1 34.5h0M24.7 35.6h0M30.5 35.0h0M59.1 37.2h0M38.6 36.8h0M34.9 12.0h0M19.6 22.2h0M26.4 33.1h0M94.6 26.5h0M66.6 36.4h0M33.8 12.8h0M94.5 28.9h0M46.9 10.8h0M17.3 24.8h0M26.4 15.6h0M51.7 37.5h0M93.9 29.7h0M18.1 19.8h0M44.4 9.6h0M83.8 14.4h0M96.8 28.9h0M45.0 34.6h0M75.6 35.8h0M96.1 27.1h0M59.5 5.3h0M50.1 35.6h0M29.5 33.2h0M51.8 35.7h0M60.6 37.1h0M92.8 21.5h0M74.5 34.9h0M19.9 30.2h0M70.2 35.2h0M82.5 12.3h0M63.9 33.8h0M18.8 19.2h0M57.8 6.2h0M48.1 9.1h0M57.9 5.1h0M95.8 27.7h0M15.9 22.8h0M26.4 13.7h0M23.3 17.3h0M92.7 22.8h0M81.9 35.1h0M84.8 15.2h0M76.8 12.4h0M88.4 33.3h0M65.6 7.9h0M23.3 19.0h0M82.5 11.5h0M25.8 16.9h0M28.0 14.3h0M93.4 22.7h0M96.6 30.0h0M93.5 21.1h0M82.1 34.8h0M90.8 19.7h0M95.1 31.4h0M69.0 36.0h0M83.5 33.6h0M96.2 30.8h0M57.7 37.3h0M29.4 33.1h0M75.8 12.2h0M86.8 31.4h0M54.5 37.3h0M18.6 25.9h0M22.7 18.4h0M86.4 15.5h0M92.4 31.4h0M67.0 35.5h0M77.8 11.6h0M73.2 8.4h0M28.6 15.9h0M77.7 34.4h0M86.5 17.4h0M76.1 9.1h0M68.6 8.8h0M23.6 32.9h0M31.4 12.8h0M27.8 13.6h0M66.1 37.6h0M28.0 15.9h0M28.0 15.4h0M64.9 36.7h0M75.6 9.9h0M34.3 10.6h0M26.6 32.0h0M88.9 16.3h0M67.0 10.1h0M28.8 35.1h0M76.5 11.8h0M81.3 13.3h0M44.7 35.9h0M89.0 33.4h0M31.2 34.9h0M93.9 29.0h0M16.0 28.0h0M24.3 15.3h0M30.2 14.6h0M29.1 34.6h0M39.1 9.0h0M56.3 7.0h0M95.4 29.4h0M73.5 9.6h0M92.5 25.1h0M63.2 36.0h0M40.2 34.5h0M45.7 34.6h0M17.4 29.2h0M62.4 35.6h0M86.9 16.5h0M16.6 25.2h0M49.2 8.7h0M17.7 29.0h0M33.2 10.7h0M46.4 9.6h0M84.8 32.8h0M33.3 12.9h0M54.0 3.8h0M52.7 6.6h0M44.3 8.7h0M91.3 30.5h0M60.2 4.9h0M70.8 9.4h0M93.3 23.9h0M20.2 29.9h0M93.8 30.6h0M16.6 24.4h0M17.5 21.9h0M46.1 35.1h0M42.0 10.6h0M59.2 5.4h0M76.0 35.3h0M94.2 32.2h0M17.9 21.4h0M42.4 36.5h0M61.8 37.2h0M93.1 21.1h0M34.9 37.0h0M85.8 14.8h0M41.3 37.2h0M95.8 32.1h0M67.5 8.9h0M65.2 8.6h0M75.9 10.5h0M79.7 13.4h0M40.3 35.9h0M78.9 11.0h0M87.9 32.1h0M17.2 24.1h0M78.8 35.4h0M92.1 31.9h0M81.3 12.0h0M49.1 7.9h0M19.0 30.4h0M71.3 9.2h0M39.7 11.1h0M62.8 37.3h0M38.8 35.8h0M53.1 6.1h0M85.7 14.9h0M85.7 15.9h0M52.2 35.8h0M70.9 9.6h0M82.2 11.0h0M47.0 35.3h0M18.9 21.5h0M73.5 36.1h0M95.1 26.6h0M80.6 35.6h0M26.6 33.5h0M95.1 27.7h0M15.6 25.5h0M40.1 38.0h0M77.2 35.5h0M54.7 4.8h0M71.5 9.0h0M93.1 22.2h0M38.6 10.0h0M88.0 31.7h0M28.0 33.2h0M82.7 35.0h0M64.1 7.1h0M86.7 31.9h0M91.1 31.6h0M47.7 9.1h0M70.9 36.9h0M56.2 37.6h0M45.7 36.3h0M92.4 22.0h0M87.6 33.2h0M58.5 6.0h0M75.7 35.7h0M40.4 9.9h0M91.0 22.3h0M65.9 34.7h0M95.2 24.0h0M35.1 36.1h0M88.6 31.5h0M93.2 31.4h0M70.6 9.5h0M27.7 32.7h0M54.1 37.8h0M27.4 15.9h0M94.1 27.2h0M64.2 36.1h0M66.2 8.7h0M28.5 14.1h0M70.7 35.1h0M45.1 37.7h0M87.9 31.9h0M48.0 37.1h0M20.0 30.5h0M65.3 8.3h0M29.1 33.4h0M75.2 10.6h0M21.5 18.7h0M96.4 25.3h0M92.5 22.8h0M24.5 32.1h0M38.3 36.8h0M46.3 7.4h0M49.1 8.2h0M31.8 34.8h0M58.5 38.5h0M33.2 34.6h0M65.5 35.9h0M28.2 15.1h0M62.2 37.0h0M53.5 3.6h0M77.3 9.9h0M83.6 34.0h0M23.0 31.5h0M76.9 36.7h0M87.9 17.1h0M22.3 17.1h0M57.1 5.4h0M63.0 6.7h0M61.4 6.9h0M28.6 34.1h0M91.3 19.4h0M22.4 32.0h0M89.0 31.1h0M71.7 34.6h0M95.3 26.4h0M95.8 30.0h0M50.1 37.5h0M52.8 5.6h0M48.4 35.8h0M93.9 25.8h0M95.4 26.6h0M59.6 35.8h0M45.7 9.4h0M93.1 26.3h0M59.2 6.0h0M25.6 33.0h0M47.4 36.9h0M68.3 8.8h0M77.4 34.7h0M85.2 34.1h0M44.1 10.0h0M66.4 34.8h0M24.6 16.5h0M51.6 6.7h0M93.9 22.1h0M37.8 10.7h0M22.1 20.0h0M38.1 10.8h0M86.8 15.8h0M17.1 22.4h0M53.4 6.6h0M53.3 5.8h0M75.5 13.2h0M80.8 34.6h0M73.7 35.8h0M65.6 35.3h0M29.4 34.7h0M36.9 37.0h0M50.9 7.4h0M91.0 32.0h0M50.4 7.2h0M91.3 18.0h0M34.7 36.1h0M26.8 14.1h0M61.7 6.9h0M57.4 7.6h0M61.1 37.4h0M41.6 9.7h0M51.7 34.6h0M19.2 21.3h0M29.4 13.4h0M50.8 36.5h0M81.9 13.0h0M40.2 10.0h0M66.7 9.1h0M37.5 9.9h0M59.0 36.3h0M49.6 9.7h0M82.3 15.0h0M52.6 6.5h0M51.5 6.9h0M75.0 34.5h0M16.6 28.9h0M25.0 34.0h0M71.7 35.3h0M53.9 4.8h0M86.8 16.2h0M79.7 12.9h0M62.5 7.9h0M93.2 23.6h0M55.7 5.6h0M86.9 16.5h0M62.3 35.9h0M19.2 20.7h0M25.4 16.0h0M93.1 25.3h0M70.1 9.4h0M74.7 9.5h0M58.6 5.8h0M90.3 20.0h0M74.6 10.0h0M50.1 35.6h0M83.9 14.8h0M41.1 35.4h0M26.7 33.4h0M94.3 28.6h0M17.3 27.8h0M52.9 5.0h0M16.2 22.8h0M53.7 5.2h0M90.1 30.7h0M41.0 35.9h0M74.3 9.7h0M60.6 35.3h0M17.3 29.2h0M76.9 34.9h0M77.4 12.8h0M93.5 31.6h0M70.4 10.2h0M36.3 11.4h0M31.9 12.3h0M90.5 17.7h0M43.7 8.4h0M24.1 17.8h0M45.3 37.2h0M57.0 5.0h0M71.6 7.9h0M39.8 35.7h0M61.4 35.3h0M46.2 36.9h0M69.5 36.4h0M16.9 20.3h0M17.9 29.6h0M85.2 14.6h0M22.5 31.7h0M61.7 36.7h0M62.8 4.6h0M34.9 11.8h0M91.0 31.4h0M67.7 6.8h0M61.8 8.1h0M53.0 36.5h0M63.4 35.8h0M39.8 10.6h0M22.2 32.7h0M35.0 11.7h0M88.5 33.1h0M61.2 7.9h0M77.1 11.4h0M26.4 15.2h0M28.4 15.3h0M17.5 25.4h0M92.0 24.7h0M83.3 13.4h0M71.2 35.1h0M23.2 29.2h0M90.2 16.3h0M45.4 9.4h0M35.6 12.1h0M53.8 37.7h0M18.9 24.0h0M16.8 21.5h0M47.1 35.5h0M46.0 34.9h0M18.8 27.1h0M83.0 12.9h0M27.4 33.5h0M52.3 6.2h0M72.0 34.8h0M74.6 35.9h0M26.8 33.9h0M71.6 9.1h0M54.8 36.4h0M45.5 9.6h0M74.3 10.5h0M93.7 27.5h0M93.4 30.9h0M30.7 36.1h0M34.0 12.3h0M17.5 30.6h0M63.1 37.1h0M68.8 35.7h0M44.5 11.3h0M39.3 9.5h0M74.3 36.6h0M30.8 33.5h0M94.1 27.2h0M38.6 35.1h0M69.4 36.2h0M52.5 4.7h0M96.2 29.5h0M88.9 17.3h0M23.1 32.6h0M16.9 23.7h0M58.2 36.8h0M35.6 37.1h0M93.9 26.7h0M74.6 34.8h0M43.4 36.1h0M26.9 14.6h0M57.3 4.8h0M93.4 30.6h0M61.8 6.8h0M89.9 30.7h0M55.9 3.6h0M49.2 35.9h0M46.9 37.0h0M32.5 13.1h0M34.3 34.8h0M44.5 10.3h0M79.1 34.4h0M17.3 26.6h0M31.9 34.2h0M69.5 35.9h0M72.0 11.1h0M60.7 6.2h0M46.7 10.2h0M92.0 21.4h0M20.3 30.6h0M49.9 8.7h0M56.9 37.4h0M84.9 15.2h0M87.0 14.9h0M88.7 19.5h0M73.5 9.6h0M85.0 34.5h0M64.0 6.4h0M91.5 18.9h0M55.3 36.2h0M25.2 16.1h0M89.8 17.1h0M64.5 35.7h0M85.9 15.9h0M56.4 6.2h0M42.8 35.2h0M92.8 32.5h0M29.1 14.3h0M59.3 36.0h0M28.4 34.0h0M75.2 35.4h0M91.0 22.0h0M83.2 33.6h0M15.7 25.6h0M72.0 32.5h0M25.3 15.7h0M72.4 38.3h0M50.1 8.0h0M82.0 12.5h0M42.5 8.6h0M56.3 38.4h0M58.4 36.4h0M93.7 21.6h0M20.5 30.8h0M73.4 10.2h0M33.7 11.4h0M95.4 28.7h0M37.6 11.6h0M64.6 7.1h0M85.6 14.9h0M89.4 18.4h0M38.0 36.7h0M42.2 9.8h0M82.5 12.8h0M17.0 29.7h0M41.5 8.7h0M62.2 37.5h0M21.2 20.0h0M15.9 28.0h0M22.7 17.6h0M60.3 7.5h0M69.3 9.5h0M31.3 34.1h0M95.0 26.2h0M65.4 7.3h0M76.5 11.7h0M74.9 11.2h0M23.7 16.9h0M93.6 30.5h0M52.9 6.5h0M67.5 8.8h0M54.8 36.7h0M84.0 14.0h0M83.8 33.2h0M81.6 34.2h0M79.5 33.8h0M92.6 26.0h0M24.7 17.2h0M60.6 5.8h0M34.4 35.8h0M69.8 37.3h0M39.7 36.7h0M42.6 34.9h0M24.7 16.2h0M75.5 34.4h0M77.0 35.6h0M54.3 36.6h0M56.0 37.5h0M17.3 26.0h0M47.8 37.0h0M78.3 12.0h0M34.0 13.1h0M28.2 16.2h0M69.6 35.6h0M33.9 13.8h0M89.3 31.6h0M83.4 14.4h0M36.3 10.7h0M20.2 19.5h0M69.5 35.4h0M64.6 37.2h0M32.5 12.0h0M84.5 33.8h0M42.0 10.7h0M94.3 30.8h0M37.4 36.9h0M93.8 23.2h0M64.4 37.0h0M57.8 36.5h0M26.2 15.0h0M59.8 37.1h0M90.8 31.6h0M90.1 19.5h0M54.9 37.2h0M38.6 36.1h0M86.6 31.9h0M41.9 9.6h0M46.0 37.2h0M52.0 7.6h0M81.2 35.3h0M86.5 31.7h0M64.4 37.8h0M60.1 38.4h0M59.0 37.5h0M18.9 20.4h0M64.4 8.2h0M93.3 24.7h0M59.8 6.9h0M43.1 8.4h0M78.7 33.9h0M92.2 29.3h0M50.3 36.8h0M20.7 32.7h0M36.8 40.7h0M72.5 37.3h0M87.9 40.9h0M45.1 36.5h0M36.7 38.2h0M87.7 34.7h0M67.3 46.8h0M27.3 37.8h0M60.7 48.5h0M42.3 47.4h0M82.8 42.1h0M24.9 35.3h0M22.1 46.0h0M69.3 42.8h0M81.6 36.2h0M25.6 38.9h0M57.9 39.2h0M45.5 42.4h0M55.9 39.3h0M50.0 44.6h0M55.0 42.1h0M60.1 39.5h0M90.0 36.2h0M41.6 37.2h0M44.2 40.1h0M90.3 45.8h0M88.4 43.5h0M87.3 38.8h0M21.5 39.1h0M69.4 36.5h0M64.1 46.0h0M26.2 40.8h0M57.4 37.8h0M28.0 33.1h0M82.6 35.8h0M22.3 32.2h0M79.7 37.5h0M61.8 42.6h0M74.5 35.6h0M24.9 32.5h0M77.2 45.6h0M49.3 38.0h0M44.2 36.8h0M75.5 36.3h0M38.9 41.6h0M44.1 39.7h0M68.6 39.9h0M83.5 35.6h0M32.7 37.7h0M54.5 39.9h0M76.4 37.4h0M67.1 39.7h0M38.7 40.0h0M83.1 35.1h0M33.3 35.9h0M43.7 40.8h0M72.3 40.2h0M58.9 45.1h0M25.7 32.7h0M35.7 39.7h0M49.8 41.7h0M45.7 36.6h0M85.6 39.6h0M29.8 33.3h0M76.9 36.3h0M76.9 40.2h0M47.3 38.1h0M73.4 42.8h0M54.3 36.9h0M55.9 37.3h0M47.4 47.5h0M30.3 39.8h0M34.8 45.6h0M87.1 43.7h0M44.6 39.0h0M71.4 37.1h0M88.1 34.8h0M68.8 38.8h0M83.5 36.5h0M52.7 49.8h0M46.8 39.5h0M87.6 36.9h0M25.2 34.3h0M23.5 36.7h0M42.1 37.2h0M57.9 39.0h0M58.9 45.0h0M57.9 40.3h0M88.2 37.2h0M25.5 34.3h0M42.3 36.9h0M56.3 49.0h0M31.5 38.6h0M41.2 42.3h0M77.1 41.3h0M63.4 37.4h0M80.9 38.3h0M88.0 34.6h0M90.4 42.6h0M48.8 37.8h0M23.7 33.9h0M73.0 38.6h0M35.2 39.4h0M77.5 35.7h0M55.9 40.0h0M33.1 40.4h0M21.1 32.2h0M38.8 37.4h0M64.6 40.5h0M64.9 40.8h0M42.8 43.2h0M61.8 45.3h0M50.0 42.4h0M43.9 37.7h0M85.8 35.5h0M81.4 47.6h0M83.5 37.9h0M90.9 38.9h0M40.8 40.2h0M36.9 43.4h0M62.0 43.7h0M40.5 47.1h0M27.0 34.5h0M60.3 41.1h0M55.8 42.3h0M47.3 39.4h0M20.1 35.8h0M61.3 36.5h0M65.5 38.5h0M55.8 37.1h0M54.7 45.7h0M40.2 47.3h0M51.9 45.0h0M36.9 40.7h0M79.7 36.2h0M85.0 38.3h0M56.3 42.8h0M88.1 36.9h0M55.3 41.0h0M80.6 35.4h0M56.2 38.5h0M35.5 38.6h0M80.1 40.0h0M86.0 48.5h0M69.3 38.5h0M78.3 43.5h0M77.7 39.7h0M41.8 45.1h0M37.6 36.8h0M56.9 37.1h0M44.7 38.2h0M85.6 41.5h0M87.1 35.2h0M68.0 37.7h0M27.9 43.8h0M42.4 37.4h0M33.4 38.5h0M90.9 42.0h0M64.8 42.5h0M24.2 38.4h0M82.5 35.8h0M82.9 44.2h0M61.0 43.8h0M55.4 39.2h0M47.7 37.1h0M31.6 36.1h0M77.3 36.3h0M75.8 43.4h0M70.0 40.7h0M39.6 36.4h0M33.5 40.4h0M87.8 40.5h0M43.8 47.1h0M40.9 41.4h0M88.5 44.0h0M75.7 45.0h0M44.0 37.4h0M55.1 43.1h0M22.5 36.3h0M54.1 41.7h0M73.6 35.6h0M61.8 40.1h0M37.4 36.7h0M23.8 33.9h0M45.6 49.5h0M66.1 38.5h0M49.8 39.8h0M54.1 38.7h0M89.1 37.9h0M69.4 40.1h0M74.9 42.9h0M87.6 36.6h0M85.0 34.3h0M91.8 40.0h0M58.0 40.0h0M24.1 40.8h0M30.8 39.2h0M71.8 37.2h0M72.3 39.7h0M66.6 44.7h0M70.8 41.5h0M27.7 34.2h0M54.2 47.6h0M24.0 35.4h0M25.1 33.3h0M51.5 44.9h0M29.2 39.3h0M73.6 38.9h0M49.0 41.3h0M64.3 43.0h0M23.3 32.7h0M23.9 34.9h0M54.1 38.6h0M48.2 36.6h0M53.7 47.2h0M81.4 43.2h0M55.0 40.6h0M90.8 35.8h0M28.6 34.1h0M82.3 38.3h0M56.6 41.2h0M83.9 37.4h0M38.5 38.0h0M52.3 44.8h0M46.3 41.9h0M42.7 38.5h0M64.9 40.2h0M75.6 37.9h0M52.8 47.6h0M52.7 38.4h0M47.1 48.4h0M76.6 44.4h0M48.9 40.7h0M41.3 44.0h0M72.1 43.4h0M68.2 38.6h0M51.3 38.7h0M75.5 38.7h0M58.8 41.5h0M71.2 36.5h0M21.2 39.8h0M38.7 40.6h0M64.2 37.3h0M91.5 38.7h0M34.2 37.1h0M62.0 37.4h0M79.1 37.9h0M62.5 41.0h0M71.3 36.5h0M61.7 45.5h0M38.1 37.8h0M59.2 43.2h0M91.1 39.6h0M43.4 43.4h0M72.3 40.0h0M60.8 37.8h0M58.0 39.8h0M65.0 36.4h0M84.3 36.7h0M78.0 39.1h0M50.2 41.0h0M53.1 42.4h0M58.1 43.6h0M88.7 34.1h0M45.4 36.4h0M41.6 38.2h0M69.8 39.7h0M47.4 46.0h0M39.7 40.2h0M21.7 37.1h0M47.0 38.1h0M42.4 38.7h0M82.8 38.4h0M32.8 37.0h0M28.5 41.2h0M73.2 40.7h0M39.0 44.3h0M22.0 32.4h0M79.0 37.5h0M70.6 38.8h0M70.3 41.8h0M35.7 45.2h0M54.1 38.8h0M78.5 40.6h0M61.0 48.9h0M36.1 45.9h0M36.0 37.9h0M89.4 35.7h0M44.6 41.7h0M79.6 37.2h0M85.9 35.6h0M45.6 39.3h0M70.9 38.3h0M82.8 45.7h0M36.3 38.2h0M71.7 38.8h0M23.4 32.7h0M80.6 36.8h0M59.1 38.6h0M23.2 33.2h0M45.4 43.7h0M82.1 35.4h0M24.5 33.1h0M70.2 36.6h0M32.7 36.4h0M70.1 44.0h0M43.2 40.6h0M60.4 37.4h0M45.6 38.9h0M41.0 39.2h0M38.8 40.6h0M62.6 36.8h0M39.3 44.0h0M53.8 43.4h0M56.8 40.8h0M74.3 46.2h0M64.8 40.8h0M56.0 43.6h0M49.7 41.5h0M53.7 40.6h0M58.1 46.0h0M84.3 36.4h0M36.1 40.2h0M22.3 32.5h0M77.3 38.5h0M33.8 38.5h0M82.5 38.9h0M69.8 43.1h0M73.6 41.0h0M59.8 38.0h0M58.0 53.0h0M23.2 52.0h0M45.4 53.7h0M42.7 48.5h0M33.1 52.3h0M39.4 48.2h0M43.2 53.9h0M39.8 42.2h0M44.7 49.7h0M46.4 43.3h0M22.5 47.2h0M32.8 51.1h0M31.1 44.1h0M34.2 47.6h0M49.7 44.6h0M33.0 47.4h0M33.0 48.9h0M38.0 49.6h0M45.6 49.9h0M40.6 44.6h0M52.2 46.0h0M46.0 53.5h0M36.6 49.6h0M38.7 45.1h0M45.1 51.1h0M28.2 42.7h0M54.0 43.7h0M43.1 44.4h0M44.7 47.7h0M40.9 53.5h0M37.3 51.9h0M45.6 44.2h0M32.7 53.2h0M31.7 42.5h0M32.8 51.9h0M37.0 45.0h0M38.9 47.9h0M35.0 53.6h0M40.4 53.0h0M46.5 50.1h0M44.7 44.8h0M42.1 45.5h0M47.0 53.8h0M29.7 50.0h0M34.5 50.6h0M34.3 47.9h0M48.7 46.6h0M43.4 48.4h0M41.8 53.8h0M40.6 46.5h0M37.8 49.1h0M44.0 53.0h0M44.0 48.0h0M48.5 51.2h0M34.6 44.3h0M37.6 50.7h0M54.1 42.4h0M47.5 44.3h0M24.9 49.4h0M43.1 50.9h0M31.8 33.2h0M34.0 30.8h0M15.6 42.5h0M26.8 34.3h0M21.4 41.9h0M15.2 38.4h0M20.9 45.5h0M13.0 36.3h0M30.0 47.3h0M34.2 34.1h0M35.5 46.3h0M20.7 43.3h0M33.6 42.7h0M36.0 48.5h0M35.0 33.2h0M25.5 32.9h0M22.7 48.9h0M18.3 38.0h0M19.9 36.1h0M29.2 35.1h0M29.3 48.8h0M22.1 37.0h0M28.5 33.3h0M35.2 34.5h0M21.9 34.0h0M25.7 44.8h0M12.9 40.1h0M28.4 42.1h0M24.8 32.8h0M28.1 46.0h0M25.3 42.8h0M30.6 43.9h0M26.4 41.2h0M26.6 45.0h0M31.0 36.4h0M34.1 40.6h0M23.5 37.9h0M28.3 33.3h0M22.2 43.2h0M22.7 36.5h0M6.2 34.2h0M9.2 44.9h0M13.1 28.3h0M10.0 24.0h0M34.7 56.7h0M36.0 54.0h0M33.0 52.0h0M14.0 38.0h0M18.0 41.0h0M22.0 44.0h0M25.0 47.0h0M16.0 46.0h0M28.0 50.0h0M40.0 55.0h0M52.0 50.0h0M64.0 49.0h0M70.0 46.0h0M98.0 33.0h0M99.5 31.0h0M12.5 45.5h0" stroke="#000" stroke-width="1.9" stroke-linecap="round" fill="none"/>
<rect x="0" y="0" width="103.9" height="103.1" fill="none" stroke="#2a2a2a" stroke-width="0.9"/>
<path d="M11.2 103.1v-1.2M11.2 0v1.2M38.5 103.1v-1.2M38.5 0v1.2M65.8 103.1v-1.2M65.8 0v1.2M93.1 103.1v-1.2M93.1 0v1.2M0 84.4h1.2M103.9 84.4h-1.2M0 66.0h1.2M103.9 66.0h-1.2M0 47.5h1.2M103.9 47.5h-1.2M0 29.1h1.2M103.9 29.1h-1.2M0 10.6h1.2M103.9 10.6h-1.2" stroke="#444" stroke-width="0.6"/>
</g>
<text class="b" x="408.4" y="279.2" font-size="7.9" text-anchor="end" textLength="13.2" lengthAdjust="spacingAndGlyphs">300</text>
<text class="b" x="408.4" y="260.75" font-size="7.9" text-anchor="end" textLength="13.2" lengthAdjust="spacingAndGlyphs">305</text>
<text class="b" x="408.4" y="242.3" font-size="7.9" text-anchor="end" textLength="13.2" lengthAdjust="spacingAndGlyphs">310</text>
<text class="b" x="408.4" y="223.85" font-size="7.9" text-anchor="end" textLength="13.2" lengthAdjust="spacingAndGlyphs">315</text>
<text class="b" x="408.4" y="205.4" font-size="7.9" text-anchor="end" textLength="13.2" lengthAdjust="spacingAndGlyphs">320</text>
<text class="b" x="408.4" y="186.95" font-size="7.9" text-anchor="end" textLength="13.2" lengthAdjust="spacingAndGlyphs">325</text>
<text class="b" x="422.8" y="286.8" font-size="7.9" text-anchor="middle" textLength="11.1" lengthAdjust="spacingAndGlyphs">0.2</text>
<text class="b" x="450.1" y="286.8" font-size="7.9" text-anchor="middle" textLength="15.3" lengthAdjust="spacingAndGlyphs">0.25</text>
<text class="b" x="477.4" y="286.8" font-size="7.9" text-anchor="middle" textLength="11.1" lengthAdjust="spacingAndGlyphs">0.3</text>
<text class="b" x="504.7" y="286.8" font-size="7.9" text-anchor="middle" textLength="15.3" lengthAdjust="spacingAndGlyphs">0.35</text>
<text class="b" x="463.6" y="296.9" font-size="8" text-anchor="middle">albedo</text>
<text class="b" transform="translate(391.8,224.9) rotate(-90)" font-size="8" text-anchor="middle">Ts (K)</text>
<text class="b" x="14" y="174.8" font-size="9">(d)</text>
<text class="b" x="193.5" y="174.8" font-size="9">(e)</text>
<text class="b" x="373.2" y="174.8" font-size="9">(f)</text>
</svg></body></html>
